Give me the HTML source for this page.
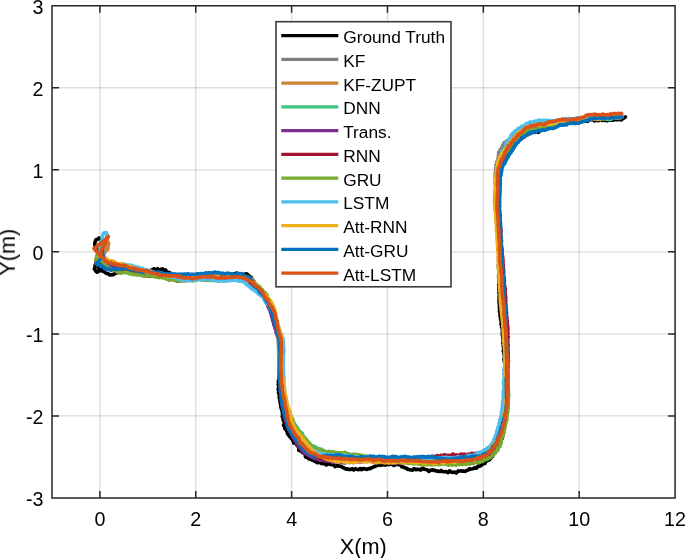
<!DOCTYPE html><html><head><meta charset="utf-8"><style>html,body{margin:0;padding:0;background:#fff;}svg{display:block}text{will-change:transform}</style></head><body>
<svg width="685" height="558" viewBox="0 0 685 558">
<rect width="685" height="558" fill="#fff"/>
<path d="M99.90 5.7V498.0M195.76 5.7V498.0M291.62 5.7V498.0M387.48 5.7V498.0M483.34 5.7V498.0M579.20 5.7V498.0" stroke="#262626" stroke-opacity="0.16" stroke-width="1.3" fill="none"/>
<path d="M52.0 415.95H675.1M52.0 333.90H675.1M52.0 251.85H675.1M52.0 169.80H675.1M52.0 87.75H675.1" stroke="#262626" stroke-opacity="0.16" stroke-width="1.3" fill="none"/>
<g fill="none" stroke-width="3.6" stroke-linejoin="round" stroke-linecap="round">
<path d="M100.2 251.8L100.4 250.7L100.3 249.4L100.3 247.8L100.6 246.5L100.9 245.3L100.9 243.9L101.0 242.8L101.6 241.2L101.7 239.9L100.4 238.8L99.0 237.9L97.7 239.2L95.8 239.8L95.5 241.2L94.8 242.9L94.8 243.7L94.8 245.3L96.0 246.7L96.5 247.9L97.0 249.0L97.7 250.0L98.1 251.6L98.3 252.9L98.8 254.3L98.9 255.5L98.6 257.3L98.2 258.3L98.1 260.2L97.0 261.4L96.4 262.6L95.7 264.0L95.0 265.3L95.1 266.1L94.9 267.8L94.3 269.0L95.2 269.9L95.9 271.3L97.2 272.2L98.1 271.7L98.9 270.6L100.1 269.7L101.2 268.9L102.3 267.5L103.3 266.7L98.6 267.8L99.2 267.7L99.8 268.1L99.8 269.7L100.5 270.7L101.9 270.7L103.0 271.3L104.3 271.8L105.3 272.7L106.3 273.4L107.5 273.3L108.4 273.8L109.3 274.9L110.6 274.9L111.9 274.7L113.2 274.7L114.9 273.5L116.1 273.0L117.2 272.8L118.4 272.2L119.4 272.5L120.6 272.1L121.7 271.5L122.6 272.3L123.8 271.3L125.0 270.1L126.1 269.6L127.1 269.4L127.9 269.8L129.0 269.0L130.1 268.6L130.6 269.8L131.5 270.1L132.6 269.5L133.7 269.3L134.7 269.1L135.5 269.7L136.4 270.3L137.7 269.6L138.7 270.5L139.5 271.0L140.5 270.6L141.4 270.6L142.5 270.2L143.6 269.8L144.5 270.4L145.5 270.2L146.5 270.8L147.4 271.3L148.6 270.8L149.5 271.3L150.7 270.9L151.9 269.8L153.1 269.2L154.2 268.8L155.1 269.5L156.1 269.5L157.4 268.7L158.2 269.7L159.2 270.1L160.3 269.6L161.5 269.1L162.6 268.9L163.3 270.1L164.3 270.3L165.4 269.8L166.1 271.0L166.9 271.8L167.7 272.1L168.6 272.6L169.6 272.5L170.4 273.3L171.2 274.3L172.1 274.2L172.9 274.7L173.7 275.5L174.6 275.3L175.5 275.4L176.3 275.9L177.2 275.5L178.2 275.5L179.1 275.6L180.1 275.5L180.9 276.5L181.8 276.8L182.7 275.9L183.6 276.1L184.5 276.7L185.4 276.3L186.4 275.9L187.3 275.0L188.3 274.9L189.2 276.1L190.2 275.5L191.2 274.7L192.1 275.4L193.1 275.7L194.1 275.7L195.0 275.3L195.9 274.5L196.9 275.1L197.8 275.4L198.7 274.5L199.6 274.5L200.6 274.7L201.5 274.5L202.5 274.9L203.4 274.8L204.3 274.7L205.3 275.3L206.2 275.1L207.2 275.0L208.1 275.7L209.1 275.0L210.0 274.5L210.9 275.1L211.9 275.2L212.8 275.4L213.8 275.3L214.7 274.8L215.7 275.8L216.6 276.4L217.5 275.4L218.5 275.1L219.4 275.6L220.3 275.7L221.3 276.0L222.2 275.1L223.1 274.7L224.1 275.7L225.0 275.4L225.9 274.5L226.9 274.6L227.8 274.5L228.8 274.9L229.8 275.0L230.8 274.4L231.9 274.9L232.8 274.6L233.8 273.8L234.8 274.0L235.8 273.4L236.7 273.0L237.7 273.5L238.6 273.7L239.4 273.9L240.3 274.5L241.7 273.9L242.9 274.2L243.9 274.9L245.3 274.0L246.5 273.8L247.4 274.3L248.1 274.9L248.7 275.9L249.3 276.7L250.6 276.7L251.5 277.7L251.5 279.4L252.0 280.2L253.1 280.4L253.9 281.4L254.3 282.1L254.3 283.3L254.6 284.3L255.8 284.4L256.2 285.4L256.6 286.5L257.9 286.7L258.6 287.5L259.6 287.9L260.2 288.7L260.4 289.9L261.1 290.4L261.4 291.5L262.0 292.3L263.4 292.4L263.9 293.2L264.4 293.9L265.6 294.1L266.4 294.7L266.8 295.5L267.0 296.5L266.6 297.8L267.1 298.7L268.4 299.0L268.3 300.2L268.6 301.1L269.7 301.5L270.5 302.2L271.1 302.9L271.1 304.0L270.8 305.2L271.5 306.0L271.9 306.9L271.7 308.1L272.2 308.9L272.6 309.8L273.1 310.7L273.4 311.5L273.3 312.5L273.5 313.5L273.9 314.3L273.8 315.1L274.0 315.9L274.5 316.7L274.6 317.8L274.9 318.9L275.2 319.7L275.3 320.6L275.5 321.5L275.4 322.5L275.4 323.5L276.2 324.4L276.5 325.4L276.6 326.4L277.1 327.3L277.5 328.3L277.9 329.2L277.7 330.2L277.5 331.3L278.1 332.1L278.5 333.0L278.4 334.0L278.8 334.8L279.1 335.6L279.6 336.4L280.0 337.2L279.8 338.2L279.8 339.2L280.2 340.1L280.1 341.0L280.0 341.9L280.2 342.8L280.1 343.7L280.2 344.7L280.4 345.6L280.2 346.6L280.4 347.6L280.2 348.6L280.0 349.6L280.5 350.5L280.4 351.5L280.2 352.5L280.3 353.4L280.2 354.4L280.4 355.4L280.2 356.3L279.7 357.2L280.0 358.2L280.4 359.2L280.1 360.1L280.0 361.1L280.0 362.1L280.2 363.1L280.3 364.0L279.8 365.0L279.6 366.0L279.9 366.9L279.7 367.9L279.6 368.9L279.5 369.9L279.4 370.9L279.7 371.8L279.5 372.8L279.3 373.8L279.5 374.8L279.2 375.8L279.0 376.8L279.1 377.7L278.8 378.8L278.6 379.8L278.5 380.7L278.3 381.7L278.7 382.7L278.6 383.7L278.2 384.7L278.6 385.6L278.8 386.6L278.6 387.6L278.4 388.6L278.2 389.6L278.6 390.5L278.9 391.5L278.5 392.5L278.8 393.5L279.3 394.5L279.3 395.5L279.4 396.6L279.2 397.7L279.6 398.6L280.0 399.6L279.8 400.7L280.0 401.6L280.4 402.5L280.3 403.5L280.7 404.6L280.7 405.6L280.8 406.7L281.1 407.6L281.2 408.6L281.6 409.5L282.2 410.3L282.2 411.2L282.2 412.0L282.5 412.7L282.7 413.5L282.5 414.6L282.4 415.5L282.2 416.5L282.7 417.3L283.4 418.2L283.1 419.3L283.3 420.3L284.0 421.3L284.2 422.2L284.2 423.1L283.9 424.2L283.5 425.4L284.4 426.2L284.9 427.2L284.8 428.4L285.7 429.3L286.3 430.3L286.9 431.3L287.5 432.3L287.4 433.6L288.1 434.5L289.0 435.2L289.3 436.3L290.4 436.8L291.2 437.6L291.4 438.7L292.3 439.3L292.7 440.1L293.0 441.0L293.6 441.8L293.7 443.0L295.0 443.4L296.5 443.4L296.7 444.5L297.0 445.5L297.8 446.0L298.3 446.8L298.8 447.6L298.9 448.6L298.7 450.2L299.7 450.7L301.3 450.6L301.7 451.6L302.2 452.4L303.2 452.8L303.9 453.4L304.6 453.9L305.3 454.6L305.3 456.1L305.8 457.2L307.0 457.4L308.0 458.0L308.8 458.9L310.2 459.0L311.1 459.4L311.9 460.0L313.0 460.1L313.9 460.7L314.8 461.4L315.9 461.6L316.8 462.5L317.9 462.7L319.3 462.0L320.2 462.7L321.1 463.4L322.1 463.5L323.1 463.7L324.2 463.6L325.1 463.8L326.0 465.0L327.1 464.6L328.2 463.4L329.2 464.0L330.1 464.4L331.1 464.6L332.0 464.8L333.0 464.5L334.0 465.3L334.9 466.6L335.9 466.0L336.9 465.6L337.8 466.0L338.8 465.9L339.7 466.3L340.6 466.5L341.6 466.4L342.4 467.2L343.3 468.0L344.2 467.9L345.1 468.6L346.0 469.2L346.9 468.7L347.8 468.9L348.6 469.5L349.6 469.4L350.4 469.5L351.2 469.2L352.1 468.7L352.9 469.5L353.7 470.0L354.6 469.0L355.6 468.7L356.5 469.3L357.4 469.5L358.4 469.7L359.5 468.9L360.5 468.5L361.6 469.7L362.4 469.3L363.4 468.5L364.3 468.7L365.2 468.9L366.2 469.3L367.2 469.4L368.2 468.5L369.2 468.7L370.2 468.8L371.2 467.8L372.2 467.7L373.2 467.2L374.2 466.4L375.1 466.5L376.1 465.8L377.0 465.4L377.8 465.4L378.9 464.4L379.9 464.6L380.8 465.4L381.8 464.7L382.8 464.6L383.7 464.9L384.6 464.9L385.5 465.1L386.4 464.3L387.3 463.3L388.2 463.9L389.0 464.7L389.9 464.3L390.9 464.1L391.8 464.4L392.7 464.7L393.5 465.3L394.3 465.5L395.0 464.6L395.8 463.8L396.7 464.4L397.6 464.6L398.7 464.4L399.9 465.1L400.6 465.3L401.3 466.2L402.1 467.0L402.9 466.8L403.8 467.2L404.7 467.9L405.6 467.7L406.5 468.3L407.5 469.4L408.5 469.3L409.5 469.7L410.5 469.9L411.5 470.0L412.6 470.1L413.7 468.7L414.7 468.8L415.7 469.8L416.8 469.4L417.8 469.4L418.8 469.4L419.8 469.8L420.8 470.1L421.8 468.6L422.8 468.2L423.8 469.1L424.8 469.2L425.8 469.5L426.9 469.8L427.9 470.4L428.9 471.4L429.9 470.5L430.9 470.1L431.9 470.4L432.9 469.8L433.9 470.2L434.8 470.6L435.8 470.5L436.7 471.1L437.5 471.2L438.4 471.1L439.2 471.5L440.0 471.5L441.1 470.4L442.2 471.3L443.3 471.8L444.2 471.7L445.1 471.8L446.0 471.5L446.9 472.0L447.8 472.7L448.7 471.9L449.5 470.8L450.5 471.4L451.4 472.2L452.4 472.3L453.4 472.5L454.3 472.1L455.3 472.2L456.3 473.0L457.2 472.1L458.2 470.9L459.2 471.1L460.2 470.9L461.2 470.9L462.2 471.2L463.2 470.9L464.2 471.3L465.3 471.4L466.2 470.6L467.3 470.5L468.3 470.0L469.3 468.8L470.4 469.1L471.5 469.0L472.6 468.8L473.6 468.5L474.6 467.8L475.9 468.3L476.9 468.0L477.7 466.4L478.6 466.0L479.8 466.1L480.9 465.7L481.8 465.0L482.6 463.5L483.8 463.6L485.1 463.4L485.7 461.7L486.7 460.8L487.9 460.4L489.0 459.8L490.1 459.3L490.6 458.0L491.3 457.1L492.5 456.7L492.8 455.3L493.4 454.2L494.1 453.4L494.5 452.1L495.5 451.5L496.2 450.6L496.9 449.7L497.7 448.9L497.7 447.7L498.5 446.9L499.5 446.3L499.1 444.9L499.2 443.8L499.9 443.0L500.4 442.1L500.9 441.2L500.6 440.0L500.8 439.1L502.1 438.6L502.4 437.7L502.2 436.5L502.6 435.6L502.9 434.7L503.3 433.9L503.5 432.9L503.0 431.8L503.3 430.9L503.9 430.1L503.9 429.2L504.0 428.2L504.4 427.4L504.4 426.4L504.8 425.5L504.9 424.6L504.8 423.6L505.0 422.7L505.1 421.8L505.0 420.7L505.4 419.9L505.6 418.9L505.4 417.8L505.6 416.8L505.6 415.7L505.8 414.6L505.7 413.7L505.4 412.8L505.8 411.9L506.3 411.0L506.0 410.1L505.9 409.1L505.9 408.1L506.0 407.1L506.1 406.1L505.6 405.1L505.5 404.1L506.1 403.1L506.1 402.1L506.2 401.0L506.2 400.0L506.2 398.9L506.3 398.1L505.8 397.2L505.6 396.3L505.8 395.3L505.7 394.4L505.8 393.5L506.1 392.5L506.0 391.6L506.0 390.6L506.0 389.6L505.7 388.7L505.8 387.7L505.5 386.7L505.2 385.8L505.6 384.8L505.7 383.8L505.5 382.9L505.4 381.9L505.2 381.0L505.4 380.0L505.4 379.1L504.8 378.1L504.9 377.2L505.4 376.2L505.4 375.3L505.3 374.3L505.0 373.4L504.9 372.4L505.1 371.5L504.8 370.6L504.3 369.6L504.6 368.7L504.8 367.8L504.9 366.9L505.1 365.9L504.9 365.0L504.9 364.1L504.8 363.1L504.4 362.2L504.3 361.3L504.3 360.3L503.9 359.4L504.2 358.4L504.5 357.5L504.4 356.6L504.4 355.6L504.1 354.7L504.0 353.7L504.2 352.8L503.8 351.9L503.3 350.9L503.6 350.0L503.8 349.0L503.7 348.1L503.5 347.1L503.2 346.2L503.4 345.2L503.5 344.2L502.9 343.3L503.0 342.3L503.2 341.3L503.2 340.3L503.2 339.3L502.8 338.4L502.8 337.4L502.8 336.4L502.4 335.5L502.3 334.6L502.4 333.6L502.2 332.8L502.4 331.9L502.6 331.0L502.4 330.2L502.3 329.2L502.0 328.2L501.6 327.2L501.8 326.3L501.5 325.4L501.0 324.6L501.1 323.7L501.2 322.8L501.2 322.0L501.2 321.1L500.8 320.2L500.5 319.3L500.9 318.3L500.7 317.4L500.1 316.6L500.0 315.7L500.1 314.8L500.0 313.9L500.1 313.0L499.7 312.1L499.4 311.2L499.8 310.2L499.7 309.3L499.4 308.3L499.5 307.3L499.4 306.3L499.4 305.3L499.5 304.4L499.2 303.6L499.2 302.7L499.2 301.8L498.9 300.9L499.1 299.9L499.3 299.0L499.0 298.0L499.1 297.1L499.2 296.1L499.3 295.1L499.4 294.2L499.0 293.2L498.9 292.2L499.4 291.2L499.2 290.2L498.9 289.2L498.9 288.3L499.0 287.4L499.2 286.5L499.2 285.6L498.7 284.6L499.1 283.7L499.5 282.7L499.2 281.8L499.1 280.8L498.9 279.8L498.8 278.9L499.0 277.9L498.6 277.0L498.6 276.0L498.9 275.0L498.8 274.0L499.0 273.1L499.2 272.1L498.9 271.1L498.8 270.2L498.7 269.3L498.6 268.3L498.7 267.4L498.5 266.4L498.3 265.5L498.9 264.5L499.0 263.5L498.7 262.6L498.7 261.6L498.6 260.7L498.9 259.7L499.0 258.8L498.5 257.8L498.7 256.9L499.2 255.9L499.0 254.9L498.9 254.0L498.7 253.1L498.6 252.1L499.0 251.1L498.8 250.2L498.6 249.2L499.1 248.3L499.2 247.3L499.2 246.4L499.2 245.4L498.8 244.5L498.7 243.5L498.6 242.6L498.3 241.6L498.6 240.7L498.7 239.7L498.5 238.8L498.9 237.8L499.0 236.9L498.7 236.0L498.5 235.0L498.2 234.1L498.2 233.1L498.4 232.1L497.8 231.1L497.9 230.1L498.4 229.1L498.3 228.1L498.1 227.2L497.8 226.2L497.7 225.2L498.1 224.2L497.7 223.3L497.5 222.3L497.9 221.3L497.9 220.3L497.9 219.3L497.7 218.4L497.4 217.4L497.6 216.4L497.6 215.5L497.4 214.5L497.8 213.6L497.9 212.6L497.8 211.7L498.1 210.7L498.0 209.8L497.7 208.9L497.6 207.9L497.3 207.0L497.5 206.0L497.8 205.1L497.5 204.1L497.7 203.1L498.1 202.2L498.2 201.2L498.0 200.2L497.6 199.2L497.6 198.3L498.0 197.3L497.6 196.2L497.6 195.2L498.0 194.2L498.1 193.1L498.2 192.1L497.9 191.0L498.0 190.0L498.4 189.0L498.1 187.9L498.3 186.9L498.4 186.0L498.4 185.0L498.6 184.1L498.5 183.2L498.4 182.4L498.7 181.6L498.5 180.3L498.9 179.2L499.3 178.1L499.1 177.1L499.5 176.2L499.7 175.2L499.8 174.4L499.8 173.5L499.4 172.6L499.4 171.8L500.1 171.0L500.4 170.3L500.0 169.1L500.4 168.2L500.9 167.4L501.4 166.6L501.6 165.8L501.1 164.8L501.2 164.0L502.1 163.4L502.3 162.6L502.0 161.5L502.5 160.7L502.7 159.8L503.5 159.1L504.1 158.4L504.1 157.3L504.9 156.7L505.8 156.2L505.8 155.3L506.5 154.7L507.2 154.2L507.2 153.2L507.5 152.4L508.3 151.9L508.7 151.1L509.7 150.6L510.3 150.0L510.3 149.0L511.2 148.6L512.6 148.6L512.8 147.7L512.9 146.6L513.5 145.9L514.1 145.3L515.2 144.9L515.7 144.0L515.3 142.6L516.3 142.2L517.6 142.0L517.7 140.9L517.9 140.0L518.4 139.2L519.2 138.8L520.4 138.6L520.5 137.6L521.1 137.0L522.3 137.0L522.8 136.1L523.4 135.4L524.1 134.7L524.6 133.8L525.6 133.7L526.4 133.2L527.4 133.2L528.6 133.5L529.0 133.0L529.8 132.9L530.8 133.4L531.2 132.6L531.7 132.0L532.4 131.7L533.2 131.6L534.4 132.4L535.3 132.3L536.0 131.3L537.2 131.9L538.3 132.3L538.9 131.5L539.6 130.7L540.3 129.8L541.1 129.6L542.2 130.2L542.9 129.2L543.6 128.4L544.6 128.9L545.4 128.7L546.2 128.1L547.0 127.7L547.7 126.8L548.6 126.7L549.6 127.1L550.4 126.5L551.5 126.7L552.6 126.8L553.6 125.8L554.5 125.9L555.3 125.5L556.0 124.6L556.9 124.2L557.8 123.8L558.8 124.0L559.9 125.0L560.8 124.4L561.7 123.9L562.8 124.5L563.7 124.0L564.6 123.3L565.4 122.3L566.3 121.9L567.4 123.1L568.4 123.1L569.3 122.4L570.4 123.2L571.5 123.4L572.5 123.3L573.4 122.6L574.3 121.8L575.4 122.5L576.3 122.7L577.2 122.0L578.1 122.3L579.0 122.6L579.7 122.2L581.1 122.2L582.2 121.7L583.1 121.1L584.1 121.2L584.8 121.0L585.4 120.6L586.3 120.9L587.5 121.4L588.3 120.8L588.5 120.1L588.7 120.0L589.4 120.3L590.5 119.8L591.0 119.7L591.7 119.2L592.4 118.8L593.3 119.9L594.2 120.9L595.0 120.2L596.0 120.1L597.0 120.6L598.0 120.6L599.0 120.4L600.0 119.2L601.1 119.4L602.2 120.5L603.2 119.9L604.3 120.2L605.3 120.4L606.3 120.5L607.4 120.8L608.4 120.0L609.5 120.2L610.6 120.2L611.8 119.8L612.9 120.3L614.0 119.6L615.1 119.6L616.2 119.7L617.3 119.7L618.2 119.7L619.1 118.9L619.9 119.2L620.8 120.0L621.4 120.0L621.9 119.3L625.4 117.0" stroke="#000000"/>
<path d="M100.0 252.1L99.8 250.6L99.7 249.2L99.0 247.3L99.0 245.9L100.3 245.1L101.0 243.9L100.7 245.4L100.9 246.5L100.5 247.9L100.4 249.2L99.9 250.8L99.9 252.1L100.6 253.7L100.9 255.5L100.7 256.8L103.5 259.5L104.1 259.6L104.8 259.7L105.4 260.5L106.4 260.7L107.5 260.9L108.2 261.6L109.3 261.8L110.1 262.4L110.7 263.0L111.5 263.2L112.2 263.7L112.9 264.2L113.8 264.3L114.7 264.6L115.7 264.8L116.9 264.8L117.7 265.0L118.6 264.9L119.6 265.0L120.5 265.2L121.6 265.0L122.6 265.4L123.7 265.4L124.7 265.6L125.7 266.2L126.8 266.0L127.6 266.9L128.5 267.1L129.6 266.9L130.3 267.9L131.3 267.7L132.3 267.6L132.9 268.6L134.0 268.5L134.9 268.6L135.5 269.9L136.6 269.7L137.5 270.4L138.5 271.1L139.6 270.5L140.4 271.1L141.3 271.1L142.5 270.3L143.4 270.8L144.4 270.7L145.5 270.5L146.4 271.4L147.4 271.3L148.4 271.7L149.4 272.2L150.5 271.9L151.5 272.1L152.5 272.2L153.5 272.1L154.5 272.3L155.5 272.8L156.5 273.0L157.4 273.5L158.3 274.2L159.4 274.1L160.3 274.7L161.3 274.8L162.4 274.5L163.2 275.3L164.3 275.1L165.3 275.1L166.0 276.2L167.1 275.7L168.0 275.8L168.9 276.9L170.0 275.9L170.9 276.3L171.7 277.0L172.7 276.0L173.6 276.4L174.3 277.4L175.3 276.6L176.2 276.9L177.0 278.0L178.0 277.2L179.0 277.4L180.0 278.0L180.9 277.1L181.7 277.3L182.6 277.9L183.5 277.2L184.5 277.4L185.4 278.0L186.4 277.5L187.3 277.6L188.3 277.9L189.2 277.3L190.2 277.2L191.2 277.3L192.1 276.9L193.1 276.8L194.1 277.1L195.0 276.8L195.9 276.7L196.9 277.3L197.8 276.9L198.7 276.6L199.7 277.4L200.6 276.9L201.5 276.7L202.5 277.7L203.4 277.2L204.4 277.1L205.3 278.3L206.3 277.5L207.2 277.4L208.1 278.4L209.1 277.4L210.0 277.5L210.9 278.5L211.9 277.5L212.8 278.0L213.7 279.0L214.7 277.8L215.6 278.3L216.5 278.7L217.5 277.3L218.4 277.6L219.4 277.7L220.3 276.5L221.3 277.0L222.2 277.4L223.1 276.7L224.1 277.5L225.0 277.7L225.9 277.1L226.9 277.4L227.9 277.2L228.9 276.5L229.9 276.6L230.9 276.5L231.9 276.2L232.9 276.7L233.9 277.1L234.9 276.9L235.8 277.6L236.7 277.8L237.6 277.2L238.5 277.4L239.2 277.7L240.0 277.1L241.2 277.2L242.3 277.6L243.5 277.1L244.1 278.3L244.9 278.6L246.0 278.2L246.4 279.2L246.9 280.0L247.9 279.5L248.8 280.1L249.0 281.1L250.1 280.9L251.0 281.2L251.0 282.7L252.7 282.7L253.0 283.5L253.2 284.5L254.4 284.5L255.0 285.3L255.2 286.5L256.5 286.7L256.8 287.9L257.5 288.6L258.6 288.9L259.0 289.9L260.1 290.2L261.0 290.5L261.7 291.2L262.7 291.7L263.4 292.3L263.9 293.2L264.3 294.0L264.9 294.7L265.3 295.5L265.5 296.4L266.2 297.0L266.9 297.6L267.3 298.5L268.3 299.0L269.1 299.7L269.1 300.8L269.9 301.5L270.1 302.4L269.9 303.6L270.4 304.4L270.6 305.3L270.6 306.4L271.5 307.1L271.7 308.1L272.2 309.0L273.1 309.6L273.1 310.7L273.5 311.5L274.0 312.3L273.9 313.3L274.3 314.1L274.6 314.9L274.6 315.8L274.9 316.6L275.4 317.5L275.6 318.7L276.1 319.4L276.4 320.3L276.5 321.2L277.0 322.1L277.1 323.1L277.3 324.1L277.6 325.1L277.7 326.1L278.1 327.1L278.3 328.1L278.5 329.1L278.7 330.0L278.9 330.9L279.2 331.8L279.4 332.7L279.6 333.6L280.0 334.4L280.2 335.3L280.3 336.2L280.7 337.1L280.8 338.0L280.8 339.0L281.1 340.0L280.9 340.9L281.0 341.8L281.3 342.7L281.1 343.7L281.3 344.6L281.5 345.6L281.3 346.6L281.5 347.6L281.3 348.6L281.2 349.6L281.2 350.6L280.9 351.5L281.0 352.5L281.0 353.5L280.9 354.4L281.2 355.4L281.1 356.3L281.0 357.3L281.2 358.3L280.9 359.2L280.9 360.2L280.9 361.1L280.7 362.1L280.9 363.1L281.0 364.0L280.9 365.0L281.3 366.0L281.2 366.9L281.1 367.9L281.4 368.9L281.1 369.8L281.2 370.8L281.3 371.8L281.1 372.8L281.4 373.7L281.4 374.7L281.3 375.7L281.5 376.6L281.4 377.6L281.3 378.6L281.5 379.5L281.3 380.5L281.3 381.4L281.5 382.4L281.5 383.3L281.7 384.3L281.9 385.2L282.0 386.2L282.2 387.1L282.3 388.1L282.4 389.1L282.4 390.0L282.5 391.0L282.8 392.0L282.8 393.0L283.2 394.0L283.4 395.0L283.5 396.0L283.9 397.0L283.8 398.0L283.9 399.0L284.3 399.9L284.0 400.9L284.3 401.8L284.7 402.7L284.4 403.8L285.0 404.7L285.2 405.6L285.1 406.6L285.8 407.4L285.8 408.4L285.8 409.3L286.4 410.0L286.6 410.9L286.5 411.8L287.0 412.5L287.3 413.5L287.1 414.5L287.7 415.4L287.7 416.3L287.6 417.2L288.2 418.0L288.4 419.0L288.6 420.0L289.2 420.7L289.5 421.6L289.6 422.5L290.0 423.4L290.2 424.3L290.1 425.4L290.3 426.3L290.6 427.3L290.7 428.4L291.4 429.2L292.1 429.8L292.3 430.8L293.3 431.4L294.0 432.0L293.9 433.3L294.9 433.8L295.1 434.9L295.0 436.2L296.2 436.5L296.4 437.5L296.6 438.5L298.4 438.4L298.6 439.4L299.2 440.2L300.8 440.1L300.6 441.4L301.0 442.3L302.2 442.4L301.9 443.8L302.0 444.8L303.2 444.9L303.4 446.0L303.7 447.0L305.2 446.9L305.5 447.7L305.8 448.6L307.1 448.6L307.6 449.2L307.8 450.3L308.7 450.6L309.5 451.0L309.7 452.0L310.4 452.5L311.3 452.6L312.0 453.3L312.8 453.9L313.7 453.9L314.5 454.2L315.3 454.8L316.3 454.8L317.3 454.7L318.1 455.4L319.1 455.3L320.2 455.3L320.9 456.3L321.8 456.2L322.7 456.1L323.3 457.3L324.2 457.4L325.2 457.0L326.0 458.2L326.9 458.0L328.0 457.3L328.8 458.4L329.8 457.8L330.8 457.3L331.5 458.7L332.5 458.4L333.4 458.2L334.3 459.7L335.3 459.3L336.2 459.0L337.1 460.0L338.1 459.0L339.1 458.5L340.0 459.1L340.9 458.1L341.8 457.9L342.7 458.7L343.6 458.3L344.5 458.3L345.3 459.1L346.2 459.0L347.1 458.7L348.1 459.1L349.0 458.7L350.0 458.3L350.9 458.4L351.7 458.4L352.6 458.2L353.4 458.4L354.3 458.9L355.2 459.0L356.1 459.0L357.0 459.6L357.9 459.5L358.9 459.2L359.9 459.8L360.9 459.3L362.0 459.2L362.8 459.9L363.7 459.3L364.6 459.2L365.6 460.1L366.5 459.4L367.5 459.5L368.5 460.2L369.5 459.3L370.5 459.9L371.5 460.2L372.5 459.5L373.4 460.6L374.4 460.4L375.4 459.9L376.2 460.8L377.1 460.4L378.0 459.9L379.0 460.8L380.1 460.3L381.1 460.4L382.0 461.1L383.0 460.7L383.9 460.9L384.8 461.2L385.7 460.7L386.6 460.7L387.4 460.7L388.3 460.3L389.2 460.2L390.0 460.2L390.9 460.1L391.8 460.1L392.6 460.1L393.3 460.1L394.1 460.2L394.9 460.0L395.7 459.7L396.6 459.9L397.6 459.6L398.7 459.5L400.0 459.9L400.8 459.7L401.5 460.1L402.3 460.7L403.2 460.4L404.1 460.6L405.0 461.2L405.9 460.8L406.9 460.9L407.8 461.4L408.9 460.9L409.9 461.6L410.9 461.8L411.9 461.6L412.9 462.4L414.0 461.8L415.0 461.9L416.0 461.8L417.1 461.1L418.0 461.4L419.0 461.1L420.0 461.1L421.0 461.6L421.9 461.3L422.9 461.6L423.9 461.7L424.9 461.2L425.9 461.4L427.0 460.8L428.0 460.7L429.0 460.9L430.0 460.5L431.0 461.2L432.0 461.2L433.0 461.2L433.9 461.8L434.9 461.4L435.8 461.4L436.7 461.6L437.6 461.0L438.4 461.0L439.2 461.3L440.0 461.0L441.2 461.0L442.3 461.3L443.3 461.1L444.2 461.6L445.2 461.5L446.0 461.5L446.9 461.7L447.7 461.7L448.5 461.6L449.3 461.8L450.2 461.7L451.1 461.7L452.0 461.8L452.9 461.6L453.8 461.6L454.8 461.8L455.7 461.5L456.7 461.8L457.6 462.0L458.6 461.6L459.6 462.2L460.5 461.9L461.4 461.3L462.4 461.6L463.2 460.8L464.1 460.1L465.0 460.4L465.9 459.5L466.9 459.4L468.1 460.0L469.0 459.2L470.1 459.9L471.1 459.6L471.9 458.8L473.0 459.2L473.8 458.2L474.6 457.5L475.6 457.9L476.4 457.2L477.5 457.2L478.7 457.8L479.6 457.4L480.8 457.9L481.8 457.8L482.7 457.2L483.7 457.0L484.5 456.4L485.2 455.6L486.1 455.1L486.9 454.6L487.7 454.0L488.6 453.6L489.6 453.3L490.3 452.5L491.2 451.9L492.0 451.3L492.2 450.0L493.1 449.5L493.4 448.4L493.6 447.2L494.7 446.9L494.7 445.8L495.0 444.9L496.2 444.5L496.1 443.3L496.5 442.5L497.7 441.9L497.3 440.7L498.1 440.0L498.9 439.3L498.4 438.0L499.2 437.4L499.7 436.6L499.3 435.4L500.1 434.7L500.4 433.8L500.2 432.8L501.0 432.1L501.4 431.3L501.4 430.3L502.0 429.6L502.4 428.7L502.3 427.7L502.7 426.9L503.0 426.0L502.9 425.0L503.3 424.1L503.6 423.3L503.7 422.3L504.2 421.5L504.7 420.7L504.9 419.7L505.2 418.8L505.7 417.9L505.6 416.8L505.8 415.7L506.1 414.6L505.8 413.7L506.1 412.9L506.5 412.0L506.3 411.0L506.7 410.1L507.0 409.2L506.7 408.2L507.1 407.2L507.1 406.2L506.6 405.2L507.2 404.2L506.8 403.1L506.8 402.1L507.3 401.1L506.8 400.0L507.3 399.0L507.3 398.1L506.9 397.2L507.3 396.3L507.3 395.3L506.9 394.4L507.4 393.5L507.3 392.5L507.1 391.5L507.5 390.6L507.4 389.6L507.3 388.6L507.6 387.7L507.4 386.7L507.2 385.7L507.4 384.8L507.3 383.8L507.2 382.9L507.4 381.9L507.4 381.0L507.2 380.0L507.3 379.1L507.3 378.1L507.0 377.2L507.2 376.2L507.1 375.3L506.8 374.3L507.1 373.4L507.1 372.4L506.8 371.5L507.3 370.6L507.2 369.6L506.9 368.7L507.3 367.8L507.1 366.8L506.8 365.9L507.3 364.9L507.0 364.0L506.8 363.1L507.3 362.1L506.9 361.2L506.8 360.2L507.2 359.3L506.7 358.3L506.6 357.4L506.9 356.4L506.4 355.5L506.5 354.6L506.7 353.6L506.4 352.7L506.5 351.7L506.5 350.8L506.1 349.9L506.2 348.9L506.1 348.0L505.9 347.0L505.9 346.1L506.0 345.1L506.0 344.1L506.1 343.1L506.2 342.1L506.1 341.2L506.0 340.2L506.0 339.2L505.7 338.2L505.6 337.2L505.7 336.3L505.4 335.3L505.5 334.4L505.7 333.4L505.5 332.6L505.6 331.7L505.7 330.8L505.3 330.0L505.2 328.9L505.2 327.9L504.6 327.0L504.7 326.0L504.6 325.1L504.3 324.3L504.5 323.4L504.6 322.5L504.3 321.7L504.5 320.8L504.5 319.9L504.1 319.0L504.2 318.0L504.2 317.1L503.8 316.3L503.9 315.4L503.9 314.5L503.6 313.6L503.7 312.7L503.6 311.8L503.5 310.9L503.5 309.9L503.4 309.0L503.3 308.0L503.3 307.0L503.1 306.1L503.0 305.0L502.9 304.2L502.6 303.3L502.6 302.4L502.4 301.5L502.2 300.6L502.2 299.7L502.1 298.8L502.0 297.8L502.2 296.9L502.1 295.9L502.2 295.0L502.2 294.0L502.0 293.0L502.0 292.0L501.8 291.0L501.5 290.1L501.7 289.0L501.5 288.2L501.5 287.2L501.8 286.3L501.7 285.4L501.8 284.4L501.9 283.5L501.6 282.5L501.5 281.6L501.3 280.6L500.9 279.7L500.9 278.7L500.6 277.8L500.6 276.8L500.8 275.8L500.6 274.9L500.8 273.9L500.7 272.9L500.4 272.0L500.5 271.0L500.2 270.1L499.9 269.2L500.1 268.2L499.7 267.3L499.7 266.3L499.9 265.4L499.6 264.4L499.7 263.5L499.9 262.5L499.5 261.6L499.6 260.6L499.6 259.7L499.2 258.7L499.3 257.8L499.2 256.8L499.0 255.9L499.1 254.9L498.9 254.0L498.8 253.1L498.9 252.1L498.7 251.1L498.7 250.2L498.8 249.2L498.8 248.3L498.8 247.3L498.8 246.4L498.8 245.4L498.7 244.5L498.6 243.5L498.6 242.6L498.5 241.6L498.5 240.7L498.7 239.7L498.5 238.8L498.6 237.8L498.8 236.9L498.5 236.0L498.5 235.0L498.5 234.0L497.9 233.1L498.1 232.1L497.8 231.1L497.4 230.2L497.8 229.2L497.4 228.2L497.2 227.2L497.6 226.2L497.0 225.3L497.0 224.3L497.0 223.3L496.4 222.4L496.6 221.4L496.6 220.4L496.2 219.4L496.5 218.4L496.5 217.5L496.3 216.5L496.6 215.5L496.5 214.6L496.3 213.6L496.4 212.7L496.3 211.7L496.2 210.8L496.3 209.8L496.4 208.9L496.3 207.9L496.4 207.0L496.4 206.0L496.2 205.1L496.2 204.1L496.2 203.2L495.8 202.2L496.0 201.2L496.0 200.2L495.7 199.2L496.1 198.3L496.0 197.3L495.7 196.2L496.1 195.2L495.5 194.1L495.6 193.1L495.7 192.0L495.2 191.0L495.7 189.9L495.5 188.9L495.4 187.9L495.9 186.9L495.4 185.9L495.4 184.9L495.8 184.0L495.2 183.1L495.2 182.2L495.6 181.4L495.1 180.1L495.4 179.0L495.3 177.9L495.1 176.8L495.4 175.8L495.2 174.8L495.1 173.8L495.5 173.0L495.5 172.1L495.4 171.2L495.6 170.4L495.9 169.6L495.7 168.4L495.9 167.4L496.2 166.5L496.0 165.4L496.1 164.5L496.7 163.7L496.7 162.7L496.7 161.8L497.6 161.1L497.9 160.0L497.7 158.9L498.8 158.2L498.5 156.9L498.3 155.7L499.2 155.0L498.7 153.6L498.6 152.4L500.0 152.0L499.8 150.7L500.1 149.7L501.7 149.6L501.8 148.6L501.8 147.4L503.1 147.3L503.2 146.2L502.9 144.9L504.0 144.6L504.4 143.7L504.2 142.5L505.5 142.3L506.4 141.8L506.7 140.8L508.1 140.8L509.2 140.4L509.5 139.5L510.6 139.2L511.3 138.6L511.5 137.6L512.4 137.0L513.2 136.2L513.8 135.3L514.9 134.8L516.0 134.2L516.7 133.6L517.7 133.3L518.7 133.0L519.3 132.1L520.2 131.6L521.1 131.1L521.5 129.9L522.7 129.8L523.5 129.1L524.0 128.0L525.3 128.2L525.9 127.6L526.7 126.7L528.1 127.3L528.8 126.5L529.7 126.2L531.0 126.9L531.7 126.0L532.6 125.8L533.7 126.4L534.3 125.2L535.2 124.9L536.2 125.2L536.9 124.0L537.8 123.9L538.9 124.2L539.7 123.4L540.7 123.7L541.7 124.0L542.5 123.3L543.4 123.5L544.4 123.3L545.2 122.5L546.1 122.3L547.0 122.0L547.8 121.5L548.8 121.6L549.7 121.7L550.8 121.9L551.9 122.2L553.1 122.5L553.9 122.5L554.8 122.3L555.6 122.2L556.5 122.0L557.4 121.3L558.3 121.3L559.3 121.3L560.2 120.9L561.3 121.4L562.3 121.2L563.3 121.0L564.3 121.4L565.2 120.7L566.1 120.4L567.1 120.4L567.9 119.4L568.9 119.5L569.9 119.4L570.9 118.7L572.0 119.3L572.9 118.8L573.9 118.7L574.9 119.0L575.8 118.4L576.7 118.4L577.6 118.6L578.3 118.2L579.0 118.1L580.4 118.4L581.3 117.8L582.3 118.0L583.1 117.8L583.7 117.3L584.4 117.2L585.2 117.3L586.0 116.8L586.6 116.5L587.2 116.6L587.9 116.6L588.7 116.1L590.2 116.5L590.7 116.2L591.4 115.9L592.2 116.1L593.1 115.9L593.9 115.3L594.9 115.5L595.8 115.4L596.8 115.1L597.8 115.6L598.8 115.4L599.9 115.6L601.0 115.9L602.0 115.4L603.0 115.7L604.0 115.3L605.0 115.2L606.0 115.4L607.0 115.2L608.1 115.5L609.2 115.5L610.3 115.6L611.5 115.4L612.6 115.2L613.7 115.0L614.8 114.6L615.9 114.8L616.9 114.4L617.9 114.6L618.8 114.8L619.6 114.3L620.4 114.4L621.0 114.7L621.6 114.5" stroke="#808080"/>
<path d="M99.7 252.2L100.8 250.4L101.4 249.2L102.2 248.2L102.5 246.7L103.3 245.2L104.0 243.9L105.0 243.3L106.1 241.7L106.9 241.3L108.7 243.1L108.4 244.8L108.0 246.3L107.9 247.8L107.1 248.7L105.8 250.1L105.6 248.5L104.9 247.5L103.8 246.2L105.3 245.0L106.8 243.8L107.4 245.9L107.4 247.2L108.1 249.1L106.8 250.1L105.8 251.3L105.1 252.1L104.3 252.8L103.5 254.7L103.6 256.6L103.2 258.1L104.0 258.6L104.3 259.3L104.8 259.9L106.0 259.6L106.5 260.5L106.9 261.9L108.0 262.0L108.9 262.7L109.8 262.8L110.7 263.0L111.4 263.5L112.3 263.5L113.2 263.5L114.0 263.7L114.9 263.9L115.7 264.9L116.9 264.6L117.8 264.3L118.5 265.4L119.5 265.5L120.5 265.2L121.5 265.8L122.6 265.5L123.6 266.1L124.6 266.2L125.7 265.9L126.8 266.0L127.7 266.5L128.6 267.0L129.7 266.5L130.5 267.3L131.1 268.5L132.1 268.3L132.9 268.8L133.7 269.3L134.7 269.1L135.5 269.8L136.5 270.0L137.7 269.8L138.7 270.5L139.5 271.0L140.3 271.6L141.3 271.2L142.2 271.5L143.1 272.3L144.2 271.7L145.2 271.9L146.3 271.9L147.3 271.7L148.2 272.8L149.3 272.4L150.4 272.4L151.3 273.0L152.3 273.0L153.4 272.7L154.5 272.4L155.4 273.2L156.4 273.2L157.4 273.4L158.3 274.1L159.4 273.8L160.2 274.9L161.3 274.9L162.4 274.2L163.3 275.1L164.2 275.3L165.2 275.4L166.2 275.6L167.0 275.9L167.9 276.7L168.9 276.6L169.8 277.0L170.8 277.1L171.7 276.8L172.5 277.8L173.4 278.0L174.4 277.2L175.2 277.7L176.0 278.4L177.0 277.9L178.0 277.8L179.0 277.6L180.0 277.7L180.8 277.9L181.7 277.8L182.6 278.1L183.5 278.1L184.5 278.1L185.4 279.0L186.3 278.3L187.3 277.4L188.3 278.1L189.2 277.6L190.2 277.2L191.2 277.5L192.1 277.5L193.1 278.2L194.1 278.5L195.0 278.5L195.9 278.4L196.9 278.2L197.8 278.7L198.8 278.2L199.7 277.2L200.6 278.0L201.6 278.1L202.5 277.6L203.5 278.2L204.4 278.0L205.3 278.0L206.3 278.5L207.2 278.1L208.1 277.9L209.1 277.9L210.0 278.2L210.9 278.3L211.9 277.2L212.8 277.4L213.7 277.9L214.7 277.2L215.6 277.4L216.6 277.7L217.5 277.4L218.4 278.4L219.4 278.7L220.3 278.3L221.2 278.5L222.2 278.6L223.1 278.7L224.1 278.0L225.0 277.6L226.0 278.5L226.9 278.3L227.9 278.4L229.0 279.1L230.0 278.6L231.0 279.4L232.0 279.3L233.0 278.1L234.0 278.3L234.9 278.2L235.8 278.0L236.7 277.6L237.6 277.5L238.4 278.1L239.2 278.1L240.0 277.7L241.1 278.1L242.3 277.4L243.3 278.1L244.1 278.5L245.2 277.8L246.0 278.2L246.5 279.1L247.2 279.3L248.0 279.5L249.0 279.7L249.8 280.1L250.2 280.9L250.7 281.5L251.5 282.2L252.0 283.4L252.8 283.7L253.0 284.7L253.1 286.0L254.4 285.9L255.2 286.6L255.4 287.8L256.5 288.2L257.1 289.0L257.9 289.6L258.3 290.6L258.8 291.4L259.5 291.9L260.2 292.6L261.3 292.9L261.7 293.8L262.1 294.6L263.6 294.6L264.0 295.4L264.0 296.5L264.9 296.9L265.5 297.6L265.9 298.3L266.9 298.8L267.4 299.7L268.1 300.4L268.9 301.0L269.4 301.7L269.8 302.6L269.6 303.8L270.1 304.5L270.9 305.1L270.7 306.4L271.2 307.2L271.9 308.0L272.1 309.0L272.8 309.8L272.9 310.7L273.0 311.7L273.4 312.5L273.7 313.4L273.8 314.3L273.8 315.1L274.0 315.9L274.6 316.7L274.7 317.7L275.0 318.9L275.4 319.6L275.5 320.5L275.8 321.4L276.3 322.2L276.2 323.3L276.8 324.2L277.2 325.2L277.3 326.2L277.3 327.3L277.6 328.3L278.0 329.2L277.9 330.2L278.2 331.1L278.7 332.0L278.9 332.9L279.5 333.7L279.8 334.5L279.6 335.5L280.0 336.3L280.2 337.2L280.0 338.2L280.0 339.1L280.1 340.1L280.4 340.9L280.5 341.8L280.5 342.8L280.8 343.7L280.9 344.6L280.9 345.6L281.1 346.6L280.6 347.6L280.7 348.6L281.0 349.6L280.7 350.5L280.8 351.5L280.9 352.5L281.1 353.5L281.1 354.4L281.0 355.4L281.1 356.3L281.0 357.3L281.1 358.3L281.2 359.2L280.7 360.2L280.8 361.1L281.0 362.1L280.4 363.1L280.4 364.0L280.4 365.0L280.3 366.0L280.5 366.9L280.4 367.9L280.5 368.9L280.5 369.9L280.6 370.8L280.6 371.8L280.1 372.8L280.3 373.8L280.5 374.7L280.2 375.7L280.5 376.7L280.7 377.6L280.9 378.6L281.2 379.5L281.2 380.5L281.3 381.5L281.5 382.4L281.6 383.3L281.8 384.3L281.6 385.3L282.0 386.2L282.5 387.1L282.3 388.1L282.6 389.0L282.8 390.0L282.7 391.0L283.0 391.9L282.9 393.0L283.0 394.0L283.3 395.0L283.5 396.0L283.5 397.0L283.4 398.1L283.8 399.0L283.7 400.0L283.5 401.0L283.9 401.9L284.0 402.8L284.2 403.8L284.6 404.8L284.5 405.8L284.8 406.7L285.3 407.6L285.4 408.5L285.5 409.4L285.7 410.2L286.1 411.0L286.6 411.7L286.6 412.6L286.9 413.6L287.3 414.5L287.2 415.5L287.7 416.3L287.9 417.2L287.6 418.2L288.3 419.0L289.0 419.9L289.0 420.8L289.4 421.6L289.7 422.5L290.2 423.3L290.2 424.3L290.0 425.4L290.4 426.3L290.4 427.4L291.1 428.2L291.8 429.0L291.6 430.1L292.7 430.6L293.6 431.1L293.6 432.3L294.0 433.2L294.5 434.1L295.0 435.0L295.4 435.9L295.7 436.8L296.5 437.4L297.0 438.2L298.0 438.7L298.8 439.3L298.7 440.5L299.8 440.8L300.9 441.1L300.9 442.4L301.5 443.0L302.2 443.5L302.6 444.3L303.2 444.8L303.7 445.7L304.0 446.7L304.6 447.4L305.2 448.1L306.0 448.4L306.7 449.0L306.9 450.0L307.7 450.3L309.1 450.1L309.3 451.2L309.6 452.2L310.4 452.5L310.9 453.3L311.5 454.2L312.4 454.6L313.0 455.4L313.8 455.9L314.8 455.8L315.9 455.8L316.9 455.7L317.7 456.5L318.7 456.7L319.9 456.3L320.5 457.5L321.3 458.0L322.3 457.8L323.1 458.4L324.1 458.2L325.1 457.9L325.9 458.5L326.9 458.4L327.9 458.0L328.8 458.2L329.7 458.6L330.6 459.2L331.5 458.7L332.5 458.6L333.4 459.6L334.3 459.4L335.3 459.5L336.2 460.2L337.1 459.7L338.1 460.3L339.0 461.1L339.9 460.4L340.8 460.3L341.7 460.6L342.6 460.8L343.5 460.9L344.4 460.5L345.3 460.8L346.2 461.6L347.1 461.3L348.0 461.6L348.9 461.7L349.9 460.8L350.7 461.4L351.6 461.6L352.5 460.6L353.3 460.4L354.2 461.0L355.1 461.1L356.0 461.2L356.9 460.9L357.9 460.9L358.8 461.2L359.9 460.7L360.9 460.9L362.0 460.4L362.8 460.3L363.6 461.5L364.6 461.3L365.5 460.7L366.5 461.6L367.4 461.6L368.4 461.4L369.4 461.2L370.5 461.1L371.4 461.6L372.4 461.6L373.4 462.1L374.4 462.0L375.3 462.0L376.2 463.0L377.1 462.6L377.9 461.8L379.0 462.5L380.0 462.4L381.0 462.2L382.0 462.4L382.9 462.2L383.8 462.6L384.7 462.7L385.6 462.6L386.5 462.5L387.4 462.1L388.2 462.7L389.1 463.3L390.0 462.5L390.9 462.3L391.8 463.1L392.7 462.7L393.4 462.3L394.2 462.4L394.9 462.1L395.7 461.6L396.6 462.0L397.6 462.3L398.7 462.2L400.0 462.4L400.7 462.9L401.4 463.5L402.2 462.9L403.1 462.1L404.0 462.7L404.9 462.4L405.9 461.8L406.8 462.3L407.8 461.9L408.8 462.3L409.8 463.3L410.8 463.0L411.8 463.0L412.9 463.1L413.9 463.4L415.0 462.6L416.0 462.4L417.0 463.0L418.0 462.5L419.0 463.0L420.0 463.1L420.9 462.6L421.9 463.7L422.9 463.6L423.9 463.1L424.9 463.6L425.9 463.9L426.9 464.0L428.0 463.3L429.0 463.5L430.0 463.5L431.0 463.1L432.0 463.6L433.0 463.0L433.9 463.4L434.9 464.5L435.8 463.9L436.7 463.7L437.6 464.1L438.4 464.0L439.2 463.7L440.0 463.3L441.2 462.7L442.3 463.0L443.3 462.8L444.2 463.3L445.2 463.2L446.0 462.9L446.9 463.7L447.7 464.0L448.5 462.8L449.4 462.6L450.2 463.0L451.1 462.7L452.0 462.6L453.0 462.5L453.9 462.4L454.8 462.8L455.8 462.7L456.7 462.8L457.7 462.5L458.6 462.0L459.6 462.8L460.6 462.8L461.4 461.8L462.4 462.5L463.4 462.6L464.3 462.1L465.2 462.2L466.2 461.7L467.2 461.5L468.3 461.6L469.3 461.4L470.3 461.2L471.3 460.9L472.5 461.7L473.4 461.1L474.2 460.1L475.3 460.6L476.1 460.1L477.0 459.6L478.1 459.6L479.0 458.8L480.1 459.1L481.2 459.0L482.0 458.3L482.8 457.6L483.7 457.1L484.8 457.2L485.4 456.0L486.2 455.3L487.5 455.5L488.0 454.6L489.0 454.1L489.8 453.6L490.0 452.2L491.1 451.9L491.6 450.9L491.8 449.7L492.6 449.0L493.6 448.5L494.6 447.9L494.7 446.9L495.6 446.3L496.4 445.7L496.4 444.6L497.1 443.8L497.1 442.8L497.1 441.7L498.3 441.1L498.5 440.2L498.6 439.2L499.3 438.4L499.9 437.7L500.4 436.9L500.4 435.8L500.8 435.0L501.4 434.2L501.5 433.2L501.9 432.4L502.1 431.5L501.9 430.5L502.4 429.7L502.8 428.9L502.5 427.8L502.8 426.9L503.2 426.1L503.5 425.2L503.8 424.3L504.0 423.4L504.3 422.5L504.6 421.6L504.6 420.6L504.8 419.7L504.6 418.7L504.7 417.7L505.3 416.7L505.1 415.6L505.5 414.6L506.0 413.8L506.1 412.9L506.3 412.0L506.3 411.1L506.4 410.1L506.5 409.2L506.5 408.2L506.7 407.2L506.5 406.2L506.8 405.2L507.3 404.2L507.0 403.2L507.3 402.1L507.5 401.1L507.4 400.1L507.6 399.0L507.4 398.1L507.5 397.2L507.6 396.3L507.5 395.4L507.4 394.4L507.1 393.5L507.4 392.5L507.5 391.5L507.0 390.6L507.3 389.6L507.5 388.6L507.3 387.7L507.5 386.7L507.2 385.7L507.1 384.8L507.2 383.8L507.0 382.9L506.9 381.9L506.8 381.0L507.1 380.0L507.3 379.1L507.0 378.1L507.2 377.2L507.4 376.2L507.1 375.3L507.2 374.3L507.1 373.4L506.8 372.4L507.1 371.5L507.2 370.6L507.0 369.6L507.0 368.7L507.1 367.8L507.2 366.8L506.9 365.9L506.7 365.0L506.9 364.0L506.7 363.1L506.7 362.1L506.9 361.2L506.5 360.2L506.7 359.3L506.9 358.3L506.5 357.4L506.4 356.5L506.4 355.5L506.5 354.6L506.5 353.6L506.3 352.7L506.5 351.7L506.5 350.8L506.5 349.8L506.6 348.9L506.3 348.0L506.2 347.0L506.6 346.0L506.2 345.1L506.1 344.1L506.3 343.1L506.2 342.1L506.1 341.2L505.9 340.2L505.8 339.2L505.8 338.2L505.7 337.2L505.7 336.3L505.4 335.3L505.5 334.4L505.7 333.4L505.2 332.6L504.9 331.7L505.0 330.9L504.8 330.1L504.6 329.0L504.5 328.0L504.4 327.0L504.6 326.0L504.6 325.1L504.7 324.2L504.5 323.4L504.2 322.5L504.4 321.6L504.4 320.8L503.8 319.9L503.8 319.0L504.0 318.0L503.8 317.2L504.0 316.3L504.0 315.4L503.8 314.5L504.0 313.6L504.0 312.7L503.9 311.8L503.7 310.9L503.4 309.9L503.6 309.0L503.5 308.0L502.9 307.1L503.1 306.1L502.9 305.0L502.7 304.2L502.8 303.3L502.5 302.4L502.4 301.5L502.6 300.6L502.5 299.7L502.3 298.8L502.1 297.8L502.1 296.9L502.0 295.9L501.5 295.0L501.4 294.0L501.6 293.0L501.4 292.1L501.7 291.0L501.6 290.0L501.5 289.1L501.9 288.1L501.7 287.2L501.4 286.3L501.2 285.4L501.2 284.5L501.3 283.5L501.0 282.6L500.9 281.6L501.2 280.6L501.0 279.7L501.2 278.7L501.1 277.7L500.6 276.8L500.9 275.8L500.8 274.9L500.3 273.9L500.3 273.0L500.3 272.0L500.2 271.1L500.0 270.1L499.8 269.2L499.9 268.2L499.7 267.3L499.8 266.3L499.8 265.4L499.4 264.4L499.7 263.5L499.8 262.5L499.3 261.6L499.3 260.6L499.3 259.7L499.2 258.7L499.2 257.8L499.0 256.9L499.2 255.9L499.2 254.9L499.3 254.0L499.3 253.0L498.9 252.1L499.0 251.1L499.2 250.2L498.6 249.2L498.6 248.3L498.8 247.3L498.6 246.4L498.7 245.4L498.5 244.5L498.4 243.5L498.4 242.6L498.3 241.6L498.2 240.7L497.9 239.8L497.9 238.8L498.3 237.9L498.0 236.9L497.9 236.0L498.2 235.0L498.0 234.1L497.9 233.1L497.8 232.1L497.6 231.1L497.8 230.1L497.8 229.2L497.8 228.2L497.7 227.2L497.8 226.2L498.1 225.2L497.7 224.2L497.6 223.3L497.8 222.3L497.4 221.3L497.6 220.3L497.4 219.4L497.1 218.4L497.4 217.4L497.3 216.5L497.0 215.5L496.8 214.6L496.9 213.6L497.1 212.6L496.7 211.7L496.7 210.8L496.9 209.8L496.5 208.9L496.6 207.9L496.4 207.0L496.0 206.0L496.2 205.1L496.4 204.1L496.2 203.2L496.4 202.2L496.6 201.2L496.9 200.2L496.8 199.2L496.7 198.3L496.8 197.3L496.5 196.2L496.8 195.2L496.7 194.2L496.7 193.1L497.3 192.1L497.2 191.0L497.2 190.0L497.4 188.9L497.5 187.9L497.4 186.9L497.1 185.9L497.3 185.0L497.2 184.1L497.2 183.2L497.4 182.3L497.1 181.5L497.2 180.3L497.6 179.1L497.2 178.0L497.5 177.0L497.7 176.0L497.8 175.1L497.9 174.1L497.7 173.2L497.8 172.4L497.9 171.5L497.9 170.7L498.2 169.9L498.0 168.8L498.4 167.9L499.4 167.1L499.3 166.1L499.4 165.3L500.2 164.6L500.3 163.7L500.4 162.9L500.7 162.1L500.5 161.0L500.8 160.0L501.4 159.2L502.0 158.4L502.5 157.6L502.5 156.6L503.6 156.1L504.4 155.5L503.9 154.2L504.3 153.4L505.1 152.9L505.1 151.8L505.7 151.2L506.3 150.6L506.4 149.5L507.2 148.9L508.0 148.5L508.4 147.7L508.8 146.9L508.9 145.9L509.8 145.5L510.9 145.1L510.9 144.0L511.5 143.3L512.7 143.0L513.0 142.1L513.8 141.5L514.5 140.8L514.3 139.6L515.3 139.1L516.1 138.6L516.5 137.7L517.2 136.9L518.2 136.4L519.2 136.2L519.4 135.1L519.9 134.2L520.9 133.9L521.2 132.8L522.2 132.4L522.9 131.6L523.3 130.5L524.6 130.7L525.3 130.0L525.7 129.0L526.4 128.4L527.3 127.9L528.3 127.7L529.0 126.8L529.9 126.6L531.0 126.9L531.8 126.5L532.8 126.8L533.8 126.8L534.4 125.7L535.5 126.0L536.5 126.1L537.1 125.0L538.1 124.8L539.1 125.0L540.1 125.1L541.0 125.3L541.9 125.0L542.9 125.3L543.8 125.2L544.7 125.0L545.7 125.2L546.4 124.2L547.3 123.7L548.3 124.6L549.1 124.1L550.0 123.3L551.0 123.8L552.1 123.5L553.3 123.6L554.1 123.2L554.9 122.9L555.8 123.0L556.7 122.8L557.6 123.0L558.5 122.4L559.4 121.6L560.5 122.3L561.4 121.7L562.2 120.7L563.3 121.2L564.3 121.1L565.3 121.3L566.3 121.7L567.2 121.4L568.2 121.7L569.2 121.8L570.2 121.6L571.1 120.7L572.1 120.4L573.2 121.2L574.1 120.4L575.1 120.4L576.2 121.3L577.1 121.1L578.0 121.4L578.8 121.7L579.5 121.1L580.8 120.7L582.0 120.7L582.9 120.2L583.6 119.7L584.2 119.2L585.0 119.2L585.9 119.8L586.9 119.4L587.4 118.6L587.9 118.5L588.5 119.0L589.1 118.6L590.4 118.9L591.0 118.9L591.6 118.3L592.4 118.2L593.2 118.9L594.1 118.7L595.0 118.2L595.9 117.9L596.9 118.0L597.9 118.4L598.9 117.7L600.0 118.2L601.1 118.5L602.1 118.4L603.2 119.1L604.2 118.0L605.2 118.1L606.2 118.5L607.2 117.6L608.2 117.3L609.3 117.5L610.5 118.0L611.6 117.6L612.8 118.0L613.9 117.7L615.0 117.7L616.1 117.6L617.0 116.5L618.1 117.4L619.0 117.7L619.8 117.0L620.6 117.1L621.2 117.4L621.8 117.4" stroke="#C98435"/>
<path d="M99.8 251.8L99.6 253.1L99.1 254.3L98.8 255.9L97.9 256.7L97.2 259.2L98.4 258.8L100.3 259.2L102.5 261.1L102.9 261.5L103.4 262.0L104.3 262.3L105.5 262.3L106.6 262.5L107.5 262.9L108.3 263.8L109.3 263.9L110.3 264.1L110.8 265.1L111.4 265.9L112.4 265.8L113.3 266.1L114.2 266.5L115.4 266.1L116.4 266.8L117.3 267.1L118.4 266.2L119.3 266.6L120.1 267.8L121.2 267.5L122.2 267.9L123.3 268.1L124.4 267.8L125.2 268.7L126.3 268.3L127.4 268.0L128.1 268.9L129.0 269.3L129.8 269.5L130.7 269.8L131.5 269.9L132.3 270.3L133.2 270.6L134.2 270.5L135.3 270.5L136.3 270.7L137.2 271.4L138.3 271.9L139.3 271.7L140.1 272.3L140.9 273.2L142.0 272.8L143.0 272.9L144.0 273.0L145.1 272.3L146.0 273.2L147.1 273.2L148.2 272.6L149.0 274.1L150.0 274.5L151.0 274.5L151.9 275.2L153.0 274.8L154.0 275.0L154.9 275.4L156.1 274.6L157.1 274.8L158.0 275.5L159.0 275.7L160.0 276.0L161.0 276.2L161.9 276.8L162.9 277.1L163.9 276.9L164.9 276.9L165.9 276.7L166.8 277.1L167.7 277.6L168.8 277.1L169.7 277.4L170.5 278.5L171.5 278.4L172.4 278.4L173.2 279.0L174.2 278.8L175.1 278.9L175.9 279.9L176.8 279.6L177.9 278.9L178.8 280.0L179.8 280.2L180.7 279.8L181.6 280.1L182.5 280.1L183.5 279.7L184.4 280.2L185.4 280.2L186.3 279.4L187.3 279.7L188.3 280.0L189.2 279.9L190.2 279.6L191.2 279.3L192.2 279.4L193.1 279.3L194.1 278.8L195.0 278.7L195.9 278.4L196.9 278.5L197.8 279.2L198.8 278.7L199.7 278.4L200.7 279.4L201.6 279.5L202.5 279.0L203.5 279.5L204.4 279.3L205.3 279.0L206.3 279.9L207.2 279.7L208.1 279.0L209.1 280.0L210.0 280.4L210.9 279.9L211.8 280.3L212.8 280.4L213.7 280.2L214.6 280.8L215.6 280.6L216.5 280.0L217.4 280.1L218.4 280.2L219.3 280.0L220.3 279.6L221.2 279.3L222.2 279.6L223.1 279.7L224.1 279.4L225.0 279.5L226.0 279.4L227.0 279.3L228.0 279.9L229.0 279.1L230.0 278.4L231.0 279.2L232.0 278.7L233.0 278.4L234.0 279.0L234.9 278.7L235.9 279.3L236.8 280.2L237.6 279.5L238.4 279.2L239.1 280.0L239.7 280.2L241.0 279.5L242.0 279.7L242.9 279.6L243.7 280.0L244.3 280.6L245.1 280.6L245.9 280.6L246.4 281.1L246.9 281.6L247.7 282.1L248.3 282.1L249.1 282.1L249.7 282.6L250.1 283.6L251.4 284.1L251.9 284.7L252.4 285.3L253.3 285.8L253.6 286.8L254.1 287.7L255.5 287.6L255.9 288.7L256.3 289.8L257.6 290.0L257.9 291.0L258.4 291.8L259.2 292.2L259.1 293.6L259.9 294.1L261.2 294.2L261.4 295.3L261.8 296.0L263.0 296.2L263.5 296.9L264.0 297.6L264.6 298.2L264.8 299.1L265.1 300.1L266.0 300.6L266.5 301.4L266.9 302.2L267.5 302.9L268.4 303.4L269.4 303.9L269.7 304.8L269.9 305.7L270.6 306.4L270.7 307.5L270.9 308.4L271.3 309.3L271.2 310.4L271.8 311.2L272.5 311.9L272.5 312.8L272.9 313.7L273.5 314.4L273.6 315.2L273.7 316.0L274.0 316.8L273.9 317.9L274.1 319.1L274.6 319.8L274.6 320.7L274.6 321.7L275.2 322.5L275.6 323.4L276.0 324.4L276.3 325.4L276.3 326.5L276.7 327.4L277.0 328.4L277.1 329.4L277.3 330.3L277.6 331.3L278.2 332.1L278.5 333.0L278.6 333.9L279.0 334.7L279.3 335.6L279.4 336.5L279.7 337.3L279.8 338.2L279.7 339.2L280.3 340.1L280.6 340.9L280.3 341.8L280.6 342.7L280.9 343.7L280.6 344.6L280.7 345.6L280.7 346.6L280.3 347.6L280.7 348.6L280.8 349.6L280.6 350.5L280.9 351.5L281.1 352.5L281.1 353.5L281.1 354.4L280.8 355.4L280.7 356.3L280.7 357.3L280.6 358.2L280.5 359.2L280.4 360.2L280.6 361.1L281.0 362.1L280.8 363.1L280.8 364.0L281.0 365.0L280.9 366.0L280.8 366.9L280.9 367.9L280.6 368.9L280.8 369.9L281.3 370.8L281.0 371.8L281.2 372.8L281.7 373.7L281.6 374.7L281.9 375.6L282.0 376.6L281.8 377.6L282.1 378.5L282.4 379.4L282.2 380.4L282.3 381.4L282.6 382.3L282.8 383.2L282.9 384.2L282.9 385.1L283.0 386.1L283.3 387.0L283.4 388.0L283.5 388.9L283.5 389.9L283.6 390.9L284.0 391.8L283.9 392.8L283.8 393.9L284.3 394.9L284.2 395.9L284.5 396.9L284.8 397.9L284.6 398.9L285.2 399.8L285.7 400.6L285.4 401.6L285.7 402.5L286.3 403.4L286.3 404.4L286.7 405.3L286.9 406.2L287.0 407.1L287.6 407.9L288.1 408.7L288.2 409.6L288.5 410.4L288.9 411.1L289.3 411.9L289.8 413.0L290.0 413.9L290.3 414.9L290.7 415.7L291.0 416.5L291.3 417.3L291.6 418.1L291.8 419.1L292.4 419.8L293.1 420.6L293.0 421.5L293.3 422.4L294.2 423.0L294.4 423.9L294.9 424.6L295.6 425.3L295.4 426.3L296.3 426.8L297.1 427.2L296.7 428.3L297.2 429.0L298.2 429.4L298.5 430.3L299.4 430.8L300.1 431.4L300.5 432.3L301.6 432.7L302.4 433.3L302.4 434.4L302.7 435.2L303.3 435.9L303.8 436.7L304.1 437.5L304.4 438.4L305.1 439.0L305.9 439.3L306.4 439.9L307.1 440.4L307.6 441.0L307.8 442.0L308.7 442.4L309.4 442.8L309.2 444.0L309.6 444.8L310.6 444.8L311.0 445.3L311.4 446.0L312.5 446.0L313.1 446.4L313.4 447.1L314.3 446.8L315.2 446.5L315.3 447.5L315.8 448.1L316.7 447.8L317.3 448.2L317.9 448.7L318.8 448.6L319.4 449.2L320.2 449.4L321.2 449.0L321.8 449.6L322.5 450.4L323.1 450.6L323.8 450.7L324.6 450.9L325.3 451.5L326.0 452.0L326.9 451.8L327.7 451.8L328.6 452.2L329.5 452.2L330.3 453.1L331.1 453.6L332.0 453.2L332.8 453.9L333.6 455.0L334.6 454.4L335.5 454.2L336.4 454.6L337.4 453.9L338.3 454.1L339.2 454.6L340.2 453.8L341.1 454.0L341.9 455.3L342.8 455.3L343.7 455.0L344.5 455.4L345.4 455.4L346.3 455.1L347.2 455.2L348.2 454.8L349.2 454.3L350.2 454.8L351.0 455.3L351.9 455.6L352.7 455.7L353.6 455.9L354.4 456.6L355.3 457.1L356.2 456.8L357.1 456.7L358.1 456.8L359.1 456.5L360.0 457.0L361.0 457.3L362.1 456.7L362.9 457.7L363.8 458.5L364.7 457.9L365.6 458.1L366.6 458.5L367.6 457.9L368.6 458.3L369.6 458.4L370.6 457.5L371.6 458.3L372.5 458.9L373.5 458.3L374.5 458.6L375.4 458.6L376.3 458.5L377.2 458.8L378.1 458.6L379.1 458.2L380.2 458.7L381.1 459.2L382.1 459.4L383.0 459.3L384.0 459.4L384.8 460.0L385.7 459.9L386.6 459.3L387.5 459.4L388.3 459.4L389.2 459.2L390.0 459.7L390.9 460.1L391.8 459.5L392.6 459.8L393.4 460.9L394.1 460.9L394.9 460.1L395.7 460.1L396.6 460.4L397.6 459.6L398.7 460.0L400.0 459.6L400.8 459.2L401.5 460.0L402.3 460.8L403.2 460.6L404.1 460.6L405.0 461.0L405.9 461.0L406.9 461.2L407.9 461.1L408.9 460.6L409.9 460.7L410.9 461.0L411.9 461.2L413.0 461.0L414.0 461.1L415.0 462.0L416.0 461.8L417.0 461.5L418.0 461.9L419.0 461.5L420.0 461.7L420.9 462.0L421.9 460.9L422.9 461.3L423.9 462.1L424.9 461.1L425.9 461.3L427.0 461.6L428.0 461.2L429.0 461.9L430.0 461.6L431.0 461.1L432.0 462.0L433.0 461.9L433.9 461.4L434.9 461.4L435.8 461.4L436.7 461.5L437.6 461.6L438.4 461.4L439.2 461.3L440.0 461.5L441.2 461.8L442.3 462.1L443.3 461.5L444.2 461.5L445.2 462.1L446.0 461.8L446.9 461.2L447.7 461.4L448.5 461.5L449.3 461.1L450.2 461.5L451.1 461.9L452.0 461.0L452.9 461.2L453.9 462.2L454.8 461.7L455.7 461.2L456.7 461.9L457.6 461.6L458.6 461.6L459.5 462.1L460.4 461.4L461.4 461.1L462.4 461.8L463.3 461.6L464.2 461.1L465.1 461.1L466.1 461.2L467.2 461.4L468.2 461.2L469.2 460.8L470.2 460.7L471.2 460.5L472.2 460.3L473.0 459.4L473.9 458.6L474.9 459.0L475.8 458.8L476.6 457.9L477.7 458.2L478.8 458.0L479.7 457.8L480.9 458.1L481.5 456.9L482.3 456.2L483.5 456.7L484.1 455.7L484.8 454.9L486.0 455.0L486.8 454.5L487.9 454.4L489.1 454.4L489.7 453.4L490.7 452.9L491.8 452.7L492.2 451.5L492.7 450.5L493.4 449.7L494.3 449.1L495.1 448.3L495.4 447.4L496.1 446.7L496.7 445.9L497.2 445.0L497.7 444.2L497.4 442.9L497.6 441.9L498.5 441.3L498.4 440.1L498.5 439.1L499.3 438.4L499.5 437.5L499.8 436.6L500.6 435.9L500.3 434.8L500.4 433.8L501.3 433.2L501.4 432.2L501.4 431.3L502.1 430.5L502.5 429.7L502.8 428.9L503.4 428.1L503.6 427.2L503.7 426.2L504.2 425.4L504.4 424.5L504.5 423.5L504.6 422.6L504.9 421.7L505.4 420.8L505.8 419.9L506.0 419.0L506.3 418.0L506.6 417.0L506.8 415.9L506.8 414.8L506.5 413.8L506.6 412.9L507.0 412.1L506.8 411.1L506.8 410.2L507.3 409.3L507.4 408.3L507.7 407.3L508.0 406.3L507.6 405.3L507.8 404.3L508.1 403.2L507.7 402.2L507.8 401.1L508.0 400.1L508.1 399.0L508.4 398.1L508.4 397.2L508.3 396.3L508.6 395.4L508.6 394.4L508.4 393.5L508.2 392.5L508.2 391.5L508.3 390.6L508.2 389.6L508.1 388.6L508.2 387.6L508.1 386.7L508.1 385.7L508.1 384.8L507.7 383.8L507.6 382.9L508.0 381.9L507.7 381.0L507.5 380.0L507.9 379.1L507.8 378.1L507.8 377.2L508.1 376.2L507.7 375.3L507.6 374.3L508.0 373.4L507.8 372.4L507.6 371.5L507.9 370.6L508.0 369.6L508.1 368.7L508.3 367.7L508.2 366.8L508.1 365.9L508.2 364.9L508.1 364.0L507.9 363.0L507.7 362.1L507.7 361.1L507.9 360.2L507.7 359.3L507.6 358.3L507.8 357.4L507.7 356.4L507.7 355.5L507.7 354.5L507.1 353.6L507.1 352.7L507.3 351.7L506.9 350.8L506.7 349.8L506.9 348.9L506.8 347.9L506.8 347.0L507.0 346.0L506.6 345.1L506.6 344.1L507.0 343.1L506.6 342.1L506.4 341.1L506.6 340.1L506.5 339.2L506.5 338.2L506.4 337.2L506.2 336.2L506.4 335.3L506.5 334.3L506.4 333.4L506.3 332.5L506.1 331.6L506.3 330.8L506.4 329.9L506.0 328.9L505.9 327.9L505.9 326.9L505.6 325.9L505.7 325.0L505.6 324.1L505.2 323.3L505.3 322.4L505.6 321.5L505.3 320.7L505.0 319.8L505.2 318.9L505.0 318.0L504.8 317.1L504.9 316.2L504.6 315.3L504.2 314.4L504.5 313.5L504.5 312.6L504.0 311.7L504.0 310.8L504.0 309.9L503.9 308.9L503.9 308.0L503.7 307.0L503.5 306.0L503.5 305.0L503.5 304.1L503.4 303.3L503.2 302.4L503.0 301.5L503.2 300.6L503.2 299.6L502.8 298.7L502.9 297.8L503.0 296.8L502.8 295.9L503.0 294.9L502.9 293.9L502.7 293.0L503.1 291.9L503.0 291.0L502.5 290.0L502.7 289.0L502.6 288.1L502.3 287.2L502.5 286.2L502.2 285.3L502.0 284.4L502.4 283.4L502.4 282.5L502.1 281.5L502.1 280.6L502.0 279.6L501.8 278.7L501.6 277.7L501.2 276.8L501.1 275.8L501.1 274.8L501.1 273.9L501.1 272.9L500.9 272.0L501.1 271.0L501.3 270.0L500.9 269.1L500.7 268.2L500.8 267.2L500.5 266.3L500.4 265.3L500.6 264.4L500.2 263.4L500.3 262.5L500.8 261.5L500.5 260.6L500.3 259.6L500.5 258.7L500.2 257.7L500.1 256.8L500.1 255.8L499.7 254.9L499.7 254.0L500.0 253.0L499.8 252.0L499.6 251.1L499.7 250.2L499.6 249.2L499.6 248.3L499.4 247.3L499.2 246.4L499.3 245.4L499.3 244.5L499.4 243.5L499.4 242.5L499.2 241.6L499.5 240.6L499.6 239.7L499.1 238.8L499.1 237.8L499.2 236.9L499.0 235.9L499.1 235.0L499.3 234.0L498.9 233.0L499.4 232.0L499.5 231.0L499.0 230.0L499.0 229.1L498.9 228.1L498.4 227.1L498.4 226.1L498.1 225.2L497.9 224.2L498.2 223.2L498.2 222.2L498.0 221.3L498.0 220.3L497.9 219.3L497.8 218.4L497.5 217.4L497.2 216.5L497.2 215.5L497.2 214.5L497.3 213.6L497.4 212.6L497.3 211.7L497.6 210.7L498.0 209.8L497.6 208.9L497.6 207.9L497.8 207.0L497.6 206.0L497.7 205.1L497.9 204.1L497.5 203.1L497.8 202.2L498.2 201.2L497.8 200.2L497.8 199.2L498.0 198.3L497.8 197.3L497.8 196.2L497.7 195.2L497.5 194.2L497.8 193.1L497.8 192.1L497.5 191.0L497.5 190.0L497.5 188.9L497.5 187.9L497.2 186.9L497.2 185.9L497.4 185.0L497.4 184.1L497.7 183.2L497.7 182.3L497.6 181.5L498.0 180.3L498.1 179.1L497.7 178.0L498.1 177.0L498.1 176.0L498.2 175.1L498.7 174.2L498.5 173.3L498.6 172.5L499.4 171.8L499.7 171.0L499.3 170.1L499.6 169.1L499.9 168.1L499.8 167.2L500.0 166.3L500.1 165.4L499.9 164.5L500.4 163.7L500.9 163.0L501.1 162.2L501.2 161.2L501.6 160.3L502.3 159.6L502.7 158.7L502.6 157.7L503.0 156.8L503.6 156.1L503.8 155.1L504.3 154.4L504.8 153.7L504.7 152.6L505.4 152.0L506.7 151.8L506.8 150.9L506.8 149.8L508.1 149.5L508.6 148.9L508.8 148.0L509.7 147.5L510.1 146.8L509.9 145.5L510.9 145.1L511.8 144.7L511.6 143.4L512.0 142.5L513.0 142.1L513.5 141.3L514.1 140.6L514.8 139.9L515.1 139.0L515.9 138.4L516.8 137.9L517.1 136.8L517.6 135.8L518.2 135.2L519.2 134.9L519.9 134.2L520.3 133.2L521.4 133.0L522.3 132.5L523.1 131.9L524.1 131.6L524.5 130.5L525.4 130.1L526.6 130.4L527.0 129.4L527.6 128.5L528.8 128.8L529.5 128.2L530.3 127.8L531.3 128.0L531.9 127.0L532.8 126.7L533.9 127.3L534.7 126.6L535.4 125.7L536.5 126.0L537.4 125.9L538.3 125.6L539.2 125.5L540.0 125.0L540.9 124.6L541.8 124.7L542.7 124.3L543.5 123.8L544.3 123.3L545.4 123.4L546.4 123.9L547.2 123.7L548.1 123.4L549.1 123.9L550.1 123.9L551.0 123.5L552.1 123.6L553.1 122.3L553.9 122.3L554.9 123.0L555.7 122.4L556.5 121.8L557.6 122.7L558.6 122.9L559.5 122.6L560.6 123.1L561.5 122.4L562.4 121.9L563.5 122.5L564.3 121.6L565.2 121.0L566.2 121.4L567.2 121.5L568.2 121.7L569.2 121.9L570.2 121.7L571.3 122.0L572.3 122.0L573.3 121.6L574.2 121.1L575.2 120.8L576.2 121.3L577.1 121.2L577.8 120.5L578.7 120.7L579.5 121.1L580.8 120.6L582.0 120.6L582.9 120.2L583.5 119.2L584.2 119.1L585.1 119.7L585.8 119.3L586.4 118.2L587.2 118.1L587.9 118.5L588.4 118.7L589.0 118.1L590.4 118.5L590.9 118.0L591.5 117.4L592.3 117.8L593.2 118.2L594.0 117.5L594.9 117.4L595.9 118.1L596.9 118.5L597.9 118.9L599.0 119.0L600.0 119.1L601.1 119.3L602.1 119.1L603.2 118.8L604.2 118.3L605.2 118.6L606.2 119.3L607.2 118.8L608.3 119.1L609.5 119.7L610.6 119.1L611.7 119.2L612.8 117.9L613.9 117.8L615.0 117.9L616.0 116.6L617.1 117.1L618.1 117.5L619.0 117.1L619.8 117.5L620.6 117.5L621.2 116.9L621.7 116.6" stroke="#3BC781"/>
<path d="M100.2 251.8L99.1 253.1L98.8 254.9L98.3 256.1L97.8 257.4L97.3 258.7L96.8 259.7L98.7 260.7L100.3 261.1L102.6 261.1L103.0 261.4L103.5 262.0L104.2 262.5L105.3 262.6L106.1 263.3L107.1 263.7L108.3 263.8L109.1 264.4L109.9 264.9L110.8 265.0L111.6 265.5L112.3 266.1L113.2 266.4L114.1 266.8L115.0 267.5L116.3 267.3L117.3 267.0L118.1 267.6L119.1 267.9L120.2 267.3L121.2 267.6L122.1 268.4L123.2 268.8L124.2 269.0L125.2 269.1L126.1 269.4L126.9 270.1L127.9 269.7L129.0 269.2L129.6 270.2L130.3 270.9L131.4 270.4L132.3 270.4L133.0 271.3L133.8 271.8L134.8 272.0L135.9 272.0L137.1 272.0L138.1 273.0L138.9 273.3L140.0 272.8L141.0 272.8L141.8 273.9L142.8 273.9L144.0 273.1L145.0 273.3L146.0 273.6L147.0 273.5L148.1 273.5L149.1 273.5L150.1 274.1L151.0 274.8L152.1 274.4L153.1 274.4L154.0 275.1L155.0 274.8L156.1 274.5L157.1 274.9L158.1 275.0L159.1 275.2L160.0 275.9L161.0 275.9L162.0 276.1L162.9 276.7L164.0 276.7L165.0 276.8L165.9 277.2L166.8 277.1L167.7 277.3L168.6 278.1L169.6 278.1L170.7 277.7L171.5 278.3L172.3 278.8L173.3 278.5L174.2 278.2L175.1 278.6L176.0 278.9L176.9 279.2L177.8 279.5L178.8 279.3L179.9 279.5L180.7 280.2L181.6 280.0L182.6 279.0L183.5 279.0L184.4 279.7L185.4 279.4L186.3 278.8L187.3 279.1L188.3 279.5L189.2 279.8L190.2 279.7L191.2 279.1L192.1 279.1L193.1 279.8L194.1 279.2L195.0 278.2L195.9 278.7L196.9 279.4L197.8 278.9L198.8 278.6L199.7 278.7L200.6 278.8L201.6 278.8L202.5 278.6L203.5 278.0L204.4 278.2L205.3 278.9L206.3 278.6L207.2 278.1L208.1 278.6L209.1 278.8L210.0 278.3L210.9 278.2L211.9 278.2L212.8 277.9L213.7 278.0L214.7 278.4L215.6 278.2L216.5 278.4L217.5 278.9L218.4 278.8L219.4 278.6L220.3 278.9L221.2 278.6L222.2 278.1L223.1 278.6L224.1 278.8L225.0 278.2L226.0 278.4L227.0 279.1L228.0 279.0L229.0 278.7L230.0 278.6L231.0 278.5L232.0 278.8L233.0 278.6L233.9 278.0L234.9 278.5L235.9 279.2L236.7 278.6L237.6 277.9L238.4 278.4L239.2 278.8L239.9 278.7L241.1 278.2L242.2 278.3L243.1 278.9L243.8 279.6L244.7 279.5L245.6 279.2L246.2 279.7L246.6 280.7L247.3 280.9L248.7 280.3L249.4 280.6L249.6 281.5L250.1 282.2L251.0 282.7L251.8 283.6L252.3 284.2L252.7 285.0L253.1 285.9L254.1 286.2L255.2 286.5L255.5 287.7L256.2 288.4L257.4 288.6L257.9 289.7L258.2 290.7L259.0 291.2L259.5 291.9L260.1 292.7L260.9 293.3L261.4 294.1L261.8 294.9L262.6 295.4L263.1 296.1L263.2 297.1L263.7 297.8L264.3 298.4L264.4 299.4L264.9 300.2L265.8 300.7L266.1 301.7L266.3 302.6L267.2 303.1L267.6 303.9L267.6 304.9L267.8 305.8L268.2 306.5L268.5 307.4L269.0 308.2L269.2 309.1L269.5 310.1L270.2 310.8L270.6 311.6L270.5 312.6L270.7 313.4L271.3 314.2L271.5 315.0L271.4 315.8L271.6 316.6L271.9 317.4L272.3 318.4L272.7 319.5L272.7 320.3L272.8 321.2L273.4 322.0L273.8 322.9L273.6 324.0L273.8 324.9L274.5 325.8L274.7 326.9L274.9 327.9L275.3 328.8L275.6 329.8L276.0 330.6L276.1 331.7L276.1 332.7L276.6 333.5L277.1 334.3L277.2 335.2L277.3 336.1L277.8 336.9L278.2 337.6L278.2 338.5L278.3 339.4L278.5 340.3L278.4 341.1L278.6 342.0L278.7 342.9L278.6 343.8L278.7 344.7L279.0 345.6L278.9 346.6L278.9 347.6L279.1 348.6L278.9 349.5L278.8 350.5L279.0 351.5L278.9 352.5L278.8 353.4L279.0 354.4L279.1 355.3L279.0 356.3L279.1 357.2L279.0 358.2L279.0 359.1L279.1 360.1L278.9 361.1L278.7 362.0L279.1 363.0L279.4 364.0L279.1 365.0L279.1 366.0L279.4 366.9L279.4 367.9L279.3 368.9L279.2 369.9L279.2 370.9L279.5 371.8L279.7 372.8L279.4 373.8L279.5 374.8L280.0 375.7L279.9 376.7L279.6 377.7L279.7 378.7L280.0 379.6L280.0 380.6L280.0 381.6L280.0 382.5L280.2 383.5L280.6 384.4L280.5 385.4L280.2 386.4L280.5 387.3L280.7 388.3L280.5 389.3L280.4 390.3L280.7 391.2L280.8 392.2L280.9 393.3L281.0 394.3L281.0 395.3L281.1 396.3L281.2 397.4L281.0 398.4L281.1 399.4L281.4 400.4L281.4 401.4L281.5 402.3L281.9 403.2L281.9 404.3L282.0 405.3L282.4 406.3L282.5 407.3L282.5 408.3L282.8 409.2L283.1 410.0L283.3 410.9L283.6 411.6L283.8 412.4L283.9 413.2L284.2 414.2L284.6 415.1L284.4 416.0L284.4 417.0L284.9 417.8L285.4 418.7L285.3 419.8L285.7 420.8L286.3 421.6L286.7 422.4L287.0 423.3L287.1 424.3L287.1 425.3L287.7 426.2L288.3 427.1L288.1 428.3L288.4 429.4L289.7 430.0L290.2 430.9L290.1 432.0L290.7 432.9L291.4 433.7L291.9 434.6L292.3 435.6L292.5 436.7L293.1 437.5L294.2 437.9L294.5 438.8L294.4 440.0L295.3 440.6L296.2 441.2L296.2 442.4L296.4 443.5L297.1 444.2L297.7 444.9L298.3 445.6L299.0 446.2L299.4 447.0L299.8 447.8L300.9 448.2L301.6 448.9L301.8 450.1L302.4 450.9L303.3 451.3L303.8 452.2L304.2 453.0L305.1 453.4L306.0 453.8L306.6 454.5L307.4 455.0L308.5 455.2L309.4 455.7L310.2 456.5L311.2 457.0L312.1 457.3L312.9 457.8L313.9 458.1L314.9 458.2L315.7 458.9L316.8 459.0L318.1 458.6L319.0 459.3L319.8 460.1L320.9 459.8L321.9 459.7L322.8 460.2L323.7 460.7L324.6 460.6L325.6 460.4L326.6 460.2L327.6 460.4L328.5 461.1L329.5 461.2L330.4 460.6L331.3 461.1L332.2 462.3L333.2 462.1L334.2 461.4L335.2 461.6L336.1 462.0L337.1 461.8L338.0 461.7L339.0 461.4L339.9 461.7L340.8 462.6L341.7 462.7L342.6 462.0L343.5 462.1L344.3 463.0L345.2 462.9L346.1 462.1L347.0 462.1L348.0 462.4L348.9 462.4L349.9 462.4L350.7 462.3L351.5 462.1L352.4 462.3L353.2 462.6L354.1 462.1L355.0 461.5L355.9 461.8L356.9 462.1L357.8 461.6L358.8 461.7L359.8 462.0L360.8 461.6L361.9 461.6L362.8 461.7L363.7 461.1L364.6 460.7L365.5 460.8L366.5 460.7L367.5 460.5L368.5 460.9L369.5 460.7L370.5 460.8L371.4 461.4L372.4 460.9L373.5 460.2L374.4 460.7L375.3 460.9L376.3 460.3L377.2 460.1L378.0 460.5L379.0 460.9L380.0 461.2L381.0 461.0L382.0 460.7L382.9 461.4L383.8 461.9L384.8 461.2L385.7 460.9L386.5 461.8L387.4 462.4L388.3 462.1L389.1 461.8L390.0 462.0L390.9 462.2L391.8 462.3L392.6 462.3L393.4 461.8L394.1 461.4L394.9 461.9L395.8 462.7L396.6 462.5L397.6 461.9L398.7 462.8L399.9 463.0L400.7 462.4L401.5 462.2L402.3 462.2L403.1 462.2L404.0 462.2L404.9 462.3L405.9 461.9L406.8 462.1L407.8 463.0L408.8 462.7L409.8 462.3L410.8 462.8L411.9 462.7L412.9 462.3L413.9 462.6L415.0 462.4L416.0 462.4L417.0 462.8L418.0 462.6L419.0 462.4L420.0 462.7L420.9 462.5L421.9 462.4L422.9 462.8L423.9 462.7L424.9 462.6L425.9 463.5L426.9 463.4L428.0 462.7L429.0 463.1L430.0 463.2L431.0 462.7L432.0 462.6L433.0 462.7L433.9 463.0L434.9 463.6L435.8 463.4L436.7 463.1L437.6 463.8L438.4 464.4L439.2 463.8L440.0 463.0L441.2 463.4L442.3 463.7L443.3 463.2L444.2 463.1L445.2 463.2L446.0 463.6L446.9 464.0L447.7 463.7L448.5 463.0L449.4 463.1L450.2 464.0L451.1 463.8L452.1 462.9L453.0 463.0L453.9 463.7L454.8 463.5L455.8 463.1L456.7 462.9L457.7 462.6L458.6 462.7L459.6 462.7L460.5 462.0L461.4 461.9L462.5 462.7L463.4 462.6L464.3 462.1L465.2 462.2L466.3 462.4L467.2 461.7L468.2 461.4L469.2 461.0L470.2 460.4L471.2 460.5L472.2 460.4L473.2 460.1L474.2 460.3L475.2 460.2L476.1 459.7L477.0 459.7L478.1 459.4L478.9 458.5L479.9 458.4L481.0 458.5L481.8 457.6L482.6 457.2L483.7 457.2L484.6 456.7L485.5 456.1L486.3 455.4L487.0 454.8L488.1 454.6L489.1 454.3L489.5 453.2L490.3 452.6L491.8 452.7L492.4 451.6L492.4 450.3L493.3 449.6L494.1 448.9L494.6 447.9L494.9 447.0L495.3 446.2L496.3 445.7L497.5 445.2L497.5 444.1L497.6 443.0L498.7 442.4L499.2 441.5L498.8 440.3L499.0 439.3L499.6 438.5L499.9 437.7L500.2 436.8L500.5 435.9L500.7 434.9L501.4 434.2L501.9 433.3L501.7 432.3L501.8 431.4L502.4 430.6L502.7 429.8L502.7 428.8L503.0 427.9L503.3 427.1L503.5 426.1L503.7 425.2L503.9 424.3L503.9 423.4L504.1 422.4L504.5 421.6L504.7 420.7L504.8 419.7L505.3 418.8L505.6 417.8L505.7 416.8L506.1 415.8L506.1 414.6L506.0 413.8L506.3 412.9L506.4 412.0L506.3 411.0L506.4 410.1L506.8 409.2L507.0 408.2L507.3 407.3L507.3 406.3L507.3 405.2L507.7 404.2L507.9 403.2L507.5 402.2L507.7 401.1L508.1 400.1L507.9 399.0L507.8 398.1L507.9 397.2L508.1 396.3L508.1 395.4L508.0 394.4L507.8 393.5L508.0 392.5L508.4 391.5L508.1 390.6L507.9 389.6L508.2 388.6L508.3 387.6L507.8 386.7L507.6 385.7L507.5 384.8L507.5 383.8L507.5 382.9L507.4 381.9L507.3 381.0L507.6 380.0L507.8 379.1L507.5 378.1L507.4 377.2L507.6 376.2L507.4 375.3L507.1 374.3L507.1 373.4L507.1 372.4L507.0 371.5L507.2 370.6L507.1 369.6L507.0 368.7L507.2 367.8L507.3 366.8L507.1 365.9L507.2 364.9L507.3 364.0L507.1 363.1L507.2 362.1L507.4 361.2L507.2 360.2L507.0 359.3L507.1 358.3L507.1 357.4L506.9 356.4L506.9 355.5L507.0 354.5L507.1 353.6L507.3 352.6L507.3 351.7L507.1 350.8L507.3 349.8L507.4 348.8L507.0 347.9L506.6 347.0L506.8 346.0L506.8 345.1L506.5 344.1L506.5 343.1L506.5 342.1L506.7 341.1L506.8 340.1L506.3 339.2L506.2 338.2L506.5 337.2L506.3 336.2L505.7 335.3L505.7 334.4L505.9 333.4L505.7 332.5L505.5 331.7L505.3 330.8L505.2 330.0L505.3 328.9L505.3 327.9L504.8 327.0L504.8 326.0L505.2 325.1L505.1 324.2L504.7 323.4L504.6 322.5L504.7 321.6L504.5 320.8L504.3 319.9L504.1 319.0L503.9 318.1L503.9 317.2L504.1 316.2L504.0 315.4L503.9 314.5L504.1 313.6L504.3 312.6L504.1 311.7L504.0 310.8L504.1 309.9L503.8 309.0L503.6 308.0L503.7 307.0L503.6 306.0L503.4 305.0L503.5 304.1L503.6 303.2L503.5 302.4L503.5 301.5L503.5 300.5L503.3 299.6L503.4 298.7L503.5 297.7L503.1 296.8L503.0 295.9L503.2 294.9L503.1 293.9L502.6 293.0L502.5 292.0L502.5 291.0L502.4 290.0L502.2 289.0L502.1 288.1L502.1 287.2L502.4 286.2L502.3 285.3L501.8 284.4L501.8 283.5L502.0 282.5L501.6 281.6L501.1 280.7L501.1 279.7L501.1 278.7L501.1 277.7L501.0 276.8L500.9 275.8L501.0 274.8L501.3 273.9L501.0 272.9L500.6 272.0L500.9 271.0L501.0 270.1L500.6 269.1L500.5 268.2L500.6 267.2L500.5 266.3L500.5 265.3L500.5 264.4L500.3 263.4L500.4 262.5L500.6 261.5L500.4 260.6L500.3 259.6L500.6 258.7L500.6 257.7L500.4 256.8L500.4 255.8L500.3 254.9L500.0 253.9L499.9 253.0L499.9 252.0L499.7 251.1L499.7 250.2L499.9 249.2L499.9 248.2L500.0 247.3L500.1 246.3L499.8 245.4L499.8 244.4L499.9 243.5L499.5 242.5L499.1 241.6L499.3 240.7L499.4 239.7L499.1 238.8L499.0 237.8L499.1 236.9L499.1 235.9L499.1 235.0L498.9 234.0L498.7 233.0L498.9 232.0L499.0 231.0L498.5 230.1L498.4 229.1L498.7 228.1L498.5 227.1L498.1 226.2L498.0 225.2L498.0 224.2L498.1 223.2L498.1 222.2L497.9 221.3L498.2 220.3L498.6 219.3L498.3 218.3L497.9 217.4L498.1 216.4L498.1 215.5L497.8 214.5L497.7 213.6L497.7 212.6L497.8 211.7L498.0 210.7L498.0 209.8L497.9 208.9L498.2 207.9L498.4 207.0L498.1 206.0L498.0 205.1L498.1 204.1L498.0 203.1L497.9 202.2L498.0 201.2L497.9 200.2L497.8 199.2L497.9 198.3L497.9 197.3L497.8 196.2L497.9 195.2L497.9 194.2L498.0 193.1L498.2 192.1L498.0 191.0L498.0 190.0L498.2 189.0L497.8 187.9L497.5 186.9L497.8 186.0L497.9 185.0L497.8 184.1L497.9 183.2L498.1 182.3L498.3 181.5L498.6 180.3L498.4 179.2L498.3 178.1L498.8 177.1L498.6 176.1L498.2 175.1L498.5 174.2L499.0 173.4L499.0 172.5L499.0 171.7L499.2 170.9L499.4 170.1L499.9 169.1L500.2 168.2L500.0 167.2L500.1 166.3L501.0 165.6L501.4 164.9L501.0 163.9L501.0 163.1L501.7 162.4L502.0 161.5L502.0 160.5L502.2 159.6L502.5 158.7L503.2 157.9L504.1 157.4L504.4 156.5L504.7 155.6L505.7 155.2L506.5 154.7L506.4 153.7L506.5 152.7L507.1 152.1L507.3 151.2L507.5 150.2L508.1 149.6L508.7 148.9L509.0 148.1L509.8 147.6L510.7 147.2L511.2 146.5L511.7 145.7L512.5 145.2L512.9 144.3L513.2 143.4L514.0 142.8L514.4 142.0L514.4 140.8L515.2 140.2L516.2 139.8L516.3 138.7L516.6 137.7L517.6 137.3L518.4 136.6L519.0 136.1L519.7 135.5L520.4 134.8L521.5 134.6L522.5 134.3L522.7 133.0L523.3 132.2L524.5 132.2L525.0 131.2L525.2 129.9L526.1 129.6L527.1 129.6L528.0 129.4L528.9 129.1L529.7 128.7L530.6 128.8L531.7 129.3L532.4 128.8L533.0 127.6L534.0 127.5L535.0 127.9L535.8 127.1L536.5 126.2L537.5 126.4L538.5 126.5L539.4 126.4L540.4 126.3L541.2 125.9L542.1 125.8L543.1 126.3L544.0 126.1L544.7 125.3L545.7 125.4L546.7 125.8L547.5 125.3L548.3 124.8L549.2 124.8L550.1 124.6L551.1 124.1L552.2 124.1L553.3 123.8L554.1 123.7L555.1 124.1L556.0 124.3L556.8 124.0L557.8 124.1L558.8 124.0L559.6 123.2L560.6 123.0L561.6 122.9L562.4 121.8L563.4 121.6L564.4 122.1L565.4 121.9L566.3 121.6L567.3 121.9L568.3 122.0L569.3 122.0L570.2 121.8L571.2 121.0L572.2 121.1L573.3 121.6L574.2 120.6L575.1 120.0L576.1 120.7L577.0 120.9L577.8 120.3L578.6 119.9L579.3 119.9L580.7 120.2L581.9 120.4L582.8 120.0L583.6 119.5L584.4 119.6L585.3 120.2L586.1 120.3L586.8 119.3L587.3 118.4L587.8 118.3L588.4 118.7L589.1 118.5L590.3 117.6L590.9 117.7L591.6 118.0L592.4 118.3L593.2 118.8L594.1 118.9L595.0 118.5L595.9 118.9L596.9 119.3L597.9 118.4L598.9 117.8L600.0 118.2L601.0 117.8L602.1 117.5L603.1 117.7L604.2 117.6L605.2 117.7L606.2 117.9L607.2 117.4L608.2 117.4L609.3 117.6L610.4 117.0L611.6 117.2L612.7 116.9L613.8 116.3L614.9 116.6L616.0 115.9L616.9 115.3L618.0 115.8L618.9 115.9L619.7 115.7L620.5 115.9L621.1 116.1L621.7 116.1" stroke="#7E2F8E"/>
<path d="M100.2 252.1L99.1 253.0L98.1 254.8L97.0 256.0L96.5 257.6L96.4 259.6L96.0 261.0L97.2 261.8L98.6 262.1L100.0 263.0L101.2 263.4L101.7 263.5L102.2 264.1L102.5 265.3L103.3 265.9L104.5 266.1L105.3 267.0L106.3 267.7L107.5 267.9L108.4 268.5L109.2 269.0L110.1 269.3L111.0 269.8L111.9 270.5L113.1 270.4L114.3 270.3L115.5 270.9L116.6 270.7L117.7 270.4L118.6 270.9L119.6 271.2L120.7 270.9L121.8 271.1L122.9 270.8L124.0 270.3L124.9 270.6L125.9 270.5L126.9 270.5L127.6 271.2L128.4 271.3L129.3 271.3L130.0 271.7L130.9 271.7L132.0 271.4L132.8 271.8L133.6 272.5L134.6 272.6L135.5 273.2L136.5 274.2L137.8 274.2L138.7 274.5L139.6 274.7L140.6 274.5L141.6 274.8L142.5 275.3L143.6 275.0L144.6 275.4L145.5 276.1L146.6 275.8L147.7 275.7L148.7 276.2L149.7 276.0L150.8 275.9L151.8 276.0L152.8 275.8L153.7 276.2L154.7 276.2L155.9 275.7L156.8 276.3L157.7 277.0L158.8 276.6L159.8 276.8L160.8 277.3L161.8 277.1L162.9 277.0L163.9 277.0L164.9 277.2L165.7 278.2L166.5 278.7L167.5 278.5L168.5 279.0L169.3 279.9L170.4 279.4L171.4 278.8L172.3 279.1L173.1 279.6L174.0 279.8L174.9 280.2L175.8 280.4L176.7 280.7L177.7 281.3L178.7 281.3L179.8 280.1L180.7 280.0L181.6 280.6L182.5 280.4L183.5 279.7L184.4 280.0L185.4 280.6L186.3 280.6L187.3 280.4L188.3 279.8L189.2 279.4L190.2 279.8L191.2 279.4L192.1 278.4L193.1 278.8L194.1 279.7L195.0 279.2L195.9 278.7L196.9 279.1L197.8 279.4L198.8 279.3L199.7 279.1L200.6 278.6L201.6 278.8L202.5 279.5L203.5 279.0L204.4 278.3L205.3 279.2L206.3 280.2L207.2 279.8L208.1 279.5L209.1 279.9L210.0 280.0L210.9 279.7L211.9 279.2L212.8 278.7L213.7 279.2L214.6 280.1L215.6 279.8L216.5 279.3L217.4 280.1L218.4 280.3L219.3 279.2L220.3 278.4L221.2 278.4L222.2 278.4L223.1 278.6L224.1 278.4L225.0 278.2L226.0 278.9L227.0 279.3L227.9 278.0L228.9 277.3L229.9 277.9L230.9 277.6L231.9 277.0L232.9 277.4L233.9 277.9L234.9 278.2L235.8 278.1L236.7 277.6L237.6 277.7L238.4 278.4L239.2 278.4L240.0 277.7L241.2 277.9L242.1 279.1L243.1 278.9L244.0 278.9L244.7 279.5L245.3 280.0L245.9 280.4L246.6 280.8L247.4 280.8L248.4 280.8L248.7 281.5L249.1 282.2L250.1 282.1L251.3 282.3L251.6 283.9L252.1 284.5L252.9 284.8L253.6 285.4L254.3 286.1L255.1 286.6L256.0 287.2L257.3 287.3L258.3 287.8L258.4 289.1L259.1 289.8L260.0 290.2L260.3 291.2L260.6 292.3L261.6 292.6L262.5 293.1L263.2 293.8L263.8 294.4L264.1 295.3L264.4 296.2L265.0 296.8L265.3 297.7L265.2 298.9L265.8 299.6L266.9 300.0L267.2 300.9L267.5 301.8L268.2 302.5L268.6 303.3L268.9 304.2L269.3 305.0L269.6 305.8L270.0 306.7L270.8 307.4L271.2 308.3L271.4 309.3L272.0 310.1L272.4 310.9L272.6 311.8L273.0 312.6L273.5 313.5L273.7 314.3L274.0 315.1L274.4 315.8L274.5 316.7L274.7 317.8L275.2 318.9L275.3 319.7L275.4 320.5L275.9 321.4L276.2 322.3L276.2 323.3L276.6 324.3L276.7 325.3L276.7 326.4L277.1 327.4L277.3 328.3L277.4 329.3L277.8 330.2L278.0 331.2L278.1 332.1L278.3 333.0L278.5 333.9L278.5 334.9L278.8 335.7L279.2 336.5L279.3 337.4L279.4 338.3L279.8 339.2L279.9 340.1L279.8 341.0L279.9 341.9L280.0 342.8L280.0 343.7L280.3 344.7L280.3 345.6L280.3 346.6L280.5 347.6L280.5 348.6L280.1 349.6L280.3 350.5L280.5 351.5L280.4 352.5L280.5 353.4L280.6 354.4L280.6 355.4L280.5 356.3L280.3 357.3L280.0 358.2L280.0 359.2L280.2 360.1L279.9 361.1L279.8 362.1L280.1 363.1L280.1 364.0L279.7 365.0L279.6 366.0L279.6 366.9L279.5 367.9L279.6 368.9L279.4 369.9L279.4 370.9L279.8 371.8L279.8 372.8L279.4 373.8L279.7 374.8L279.9 375.7L279.8 376.7L279.8 377.7L279.9 378.7L280.1 379.6L280.3 380.6L280.3 381.5L280.2 382.5L280.6 383.4L281.1 384.4L280.9 385.3L280.9 386.3L281.3 387.2L281.4 388.2L281.2 389.2L281.3 390.2L281.5 391.1L281.8 392.1L282.1 393.1L282.0 394.1L282.1 395.2L282.6 396.1L282.2 397.2L281.9 398.3L282.3 399.2L282.6 400.2L282.6 401.2L282.8 402.1L283.1 403.0L283.4 404.0L283.6 405.0L283.4 406.1L283.3 407.1L283.9 407.9L284.2 408.8L284.1 409.7L284.4 410.6L285.1 411.3L285.4 412.0L285.5 412.8L285.6 413.9L285.7 414.9L286.0 415.7L286.3 416.6L286.2 417.6L286.2 418.5L287.0 419.4L287.7 420.3L287.4 421.2L287.6 422.1L288.3 422.9L288.7 423.8L288.7 424.8L288.8 425.8L289.0 426.8L289.6 427.7L290.1 428.6L289.9 429.9L290.4 430.7L291.7 431.2L292.1 432.0L292.0 433.3L292.7 434.1L293.4 434.8L293.5 436.0L293.6 437.1L294.0 438.0L294.8 438.6L296.0 438.9L296.5 439.8L296.7 440.9L297.8 441.2L298.6 441.8L298.4 443.2L298.4 444.3L299.3 444.8L300.1 445.3L300.7 445.9L301.5 446.4L302.3 446.9L303.2 447.4L304.3 447.7L304.8 448.5L304.8 449.8L305.3 450.5L306.4 450.6L307.0 451.1L307.4 452.1L308.2 452.5L309.3 452.5L310.2 452.8L310.9 453.4L311.7 453.9L312.4 454.7L313.1 455.2L314.0 455.3L314.8 455.8L315.4 456.9L316.4 457.0L317.6 456.7L318.4 457.5L319.3 458.1L320.4 458.0L321.3 458.1L322.2 458.5L323.1 458.6L323.9 459.1L324.8 459.5L325.8 459.3L326.7 459.5L327.6 460.2L328.6 460.0L329.7 459.3L330.6 459.5L331.5 459.6L332.4 459.3L333.4 459.4L334.3 459.8L335.2 459.8L336.2 460.1L337.1 460.2L338.1 459.5L339.1 459.2L340.0 459.4L340.9 459.0L341.8 458.7L342.7 459.2L343.5 459.6L344.4 459.5L345.3 459.7L346.2 459.9L347.1 459.4L348.1 459.1L349.0 459.3L350.0 459.1L350.8 459.0L351.7 459.5L352.5 459.9L353.4 459.8L354.2 460.0L355.1 460.3L356.0 459.9L357.0 459.7L357.9 460.1L358.9 460.0L359.9 459.8L360.9 460.3L362.0 460.3L362.8 460.1L363.7 460.2L364.6 460.2L365.6 459.9L366.5 460.2L367.5 460.3L368.5 459.8L369.5 460.1L370.5 460.4L371.5 459.7L372.5 459.6L373.5 460.0L374.4 459.8L375.4 459.9L376.3 460.1L377.2 459.9L378.0 459.9L379.1 460.2L380.1 459.5L381.1 459.3L382.1 460.2L383.0 460.2L383.9 459.8L384.8 460.2L385.7 460.6L386.6 460.5L387.5 460.3L388.3 460.2L389.2 460.0L390.0 460.2L390.9 460.8L391.8 460.5L392.6 460.1L393.4 460.4L394.1 461.0L394.9 460.8L395.7 460.0L396.6 459.8L397.6 460.2L398.7 460.2L400.0 460.2L400.7 460.1L401.5 460.0L402.3 460.3L403.2 460.4L404.1 459.5L405.1 459.0L406.0 459.8L406.9 460.1L407.9 459.4L408.9 459.6L409.9 460.1L411.0 459.8L412.0 459.4L413.1 458.8L414.1 459.0L415.1 459.7L416.1 459.1L417.1 458.8L418.1 459.8L419.1 459.8L420.1 458.7L421.0 458.5L422.0 458.6L423.0 458.5L424.0 458.3L425.0 457.8L426.0 458.0L427.0 458.6L428.0 457.7L429.0 456.7L430.0 457.4L431.0 457.4L432.0 456.5L433.0 456.3L434.0 456.6L434.9 456.5L435.8 456.3L436.7 455.8L437.6 455.6L438.4 456.2L439.2 456.6L440.0 456.0L441.2 455.2L442.3 456.0L443.3 455.6L444.3 454.7L445.2 454.8L446.0 455.2L446.8 455.5L447.6 455.8L448.4 455.6L449.2 455.2L450.0 455.4L450.9 455.9L451.8 455.0L452.6 454.0L453.5 454.4L454.5 455.2L455.4 455.0L456.3 454.9L457.2 455.3L458.2 455.6L459.1 455.4L459.9 454.8L460.8 454.0L461.7 454.2L462.6 454.8L463.4 454.4L464.2 454.0L465.4 454.9L466.4 455.4L467.3 454.5L468.2 454.2L469.2 454.1L470.2 454.0L471.1 453.9L471.9 453.4L472.8 453.5L473.9 454.4L474.7 454.1L475.3 453.2L476.5 453.5L477.6 453.8L478.3 453.0L479.2 452.7L480.0 452.6L480.8 452.5L481.7 452.5L482.3 452.0L482.9 451.6L484.2 452.1L485.0 451.9L485.3 450.9L486.1 450.5L487.1 450.3L487.5 449.4L487.9 448.6L488.7 448.1L489.6 447.7L490.8 447.5L491.5 446.9L492.0 446.0L492.8 445.6L493.3 444.9L492.9 443.7L493.2 442.9L494.1 442.3L494.6 441.6L495.2 440.8L496.1 440.2L496.6 439.3L497.1 438.5L497.5 437.7L497.4 436.6L497.5 435.7L498.3 435.0L498.6 434.1L498.9 433.2L499.6 432.6L500.2 431.8L500.4 430.9L500.7 430.1L501.0 429.3L501.1 428.4L501.4 427.5L501.8 426.6L502.0 425.7L502.2 424.8L502.8 424.0L503.1 423.1L503.2 422.2L503.7 421.4L504.0 420.5L504.1 419.5L504.4 418.6L504.7 417.7L504.7 416.6L505.0 415.6L505.3 414.5L505.3 413.7L505.6 412.8L506.0 411.9L506.1 411.0L506.3 410.1L506.5 409.2L506.4 408.2L506.4 407.2L506.7 406.2L506.6 405.2L506.8 404.2L507.2 403.2L507.4 402.1L507.5 401.1L507.5 400.1L507.4 399.0L507.4 398.1L507.5 397.2L507.3 396.3L507.4 395.3L507.8 394.4L507.9 393.5L507.7 392.5L507.8 391.5L507.8 390.6L507.6 389.6L507.5 388.6L507.5 387.7L507.5 386.7L507.8 385.7L507.8 384.8L507.5 383.8L507.7 382.9L507.9 381.9L507.6 381.0L507.5 380.0L507.7 379.1L507.8 378.1L507.8 377.2L507.8 376.2L507.7 375.3L507.8 374.3L508.1 373.4L507.9 372.4L507.7 371.5L508.1 370.6L508.3 369.6L508.0 368.7L507.9 367.8L508.1 366.8L508.1 365.9L508.1 364.9L508.1 364.0L508.0 363.0L508.3 362.1L508.5 361.1L508.1 360.2L507.9 359.2L508.2 358.3L508.2 357.3L507.8 356.4L507.9 355.5L508.2 354.5L508.2 353.5L508.2 352.6L508.0 351.7L507.8 350.7L508.0 349.8L508.0 348.8L507.6 347.9L507.7 346.9L508.2 346.0L508.1 345.0L507.7 344.0L507.8 343.1L507.9 342.1L507.9 341.1L507.8 340.1L507.6 339.1L507.9 338.1L508.3 337.1L507.9 336.1L507.6 335.2L507.9 334.2L508.0 333.3L507.6 332.4L507.5 331.6L507.8 330.7L507.9 329.8L508.0 328.7L507.8 327.7L507.5 326.7L507.6 325.8L507.6 324.8L507.2 324.0L506.9 323.1L507.2 322.2L507.4 321.3L507.2 320.5L506.9 319.6L506.9 318.7L506.9 317.8L506.8 316.9L506.6 316.0L506.3 315.2L506.3 314.3L506.6 313.3L506.5 312.4L506.1 311.6L506.1 310.6L506.4 309.7L506.2 308.8L505.9 307.8L505.9 306.8L506.0 305.8L506.0 304.8L505.8 304.0L505.5 303.1L505.5 302.2L505.9 301.3L505.8 300.4L505.4 299.5L505.6 298.5L505.9 297.6L505.6 296.7L505.3 295.7L505.2 294.7L505.2 293.8L505.2 292.8L505.1 291.8L504.9 290.8L505.2 289.8L505.4 288.8L505.0 287.9L504.6 287.0L504.7 286.1L504.6 285.2L504.2 284.2L504.2 283.3L504.3 282.3L504.4 281.4L504.5 280.4L504.3 279.4L504.0 278.5L504.1 277.5L503.9 276.6L503.5 275.6L503.4 274.7L503.7 273.7L503.7 272.7L503.6 271.8L503.7 270.8L503.6 269.9L503.5 268.9L503.5 268.0L503.1 267.0L503.0 266.1L503.3 265.1L503.1 264.2L502.9 263.3L503.0 262.3L503.1 261.3L502.9 260.4L502.9 259.5L502.8 258.5L502.6 257.6L502.6 256.6L502.5 255.7L502.1 254.8L502.1 253.8L502.2 252.9L502.0 251.9L502.0 251.0L502.2 250.0L502.0 249.1L501.8 248.2L501.7 247.2L501.4 246.3L501.2 245.3L501.3 244.4L501.3 243.4L501.2 242.5L501.4 241.5L501.5 240.6L501.3 239.6L501.2 238.7L501.1 237.7L500.7 236.8L500.6 235.9L500.8 234.9L500.7 233.9L500.8 232.9L501.1 231.9L501.0 230.9L500.8 229.9L500.7 228.9L500.4 227.9L500.3 227.0L500.4 226.0L500.2 225.0L500.2 224.0L500.5 223.0L500.3 222.1L500.0 221.1L500.1 220.2L500.0 219.2L499.8 218.3L499.7 217.3L499.6 216.3L499.5 215.4L499.6 214.4L499.5 213.5L499.2 212.6L499.5 211.6L499.6 210.7L499.3 209.8L499.2 208.8L499.3 207.9L499.2 206.9L499.0 206.0L499.0 205.1L498.9 204.1L499.2 203.1L499.5 202.2L499.3 201.2L499.2 200.2L499.5 199.2L499.4 198.3L499.0 197.3L499.1 196.2L499.3 195.2L499.4 194.2L499.6 193.1L499.6 192.1L499.8 191.0L499.8 190.0L499.3 189.0L499.3 188.0L499.7 187.0L499.6 186.0L499.4 185.0L499.7 184.1L499.9 183.3L499.9 182.4L499.8 181.6L499.6 180.4L499.7 179.3L500.0 178.2L499.7 177.2L499.8 176.2L500.4 175.3L500.5 174.4L500.2 173.5L500.3 172.7L500.7 171.9L500.9 171.1L501.0 170.4L501.1 169.3L501.1 168.3L501.8 167.5L502.3 166.8L502.0 165.9L501.9 165.0L502.7 164.4L503.6 163.8L503.6 163.0L503.6 162.1L504.4 161.4L505.0 160.7L505.3 159.9L505.4 159.0L505.5 158.0L506.4 157.5L507.6 157.1L507.5 156.2L507.5 155.3L508.5 155.0L509.4 154.6L509.3 153.6L509.2 152.5L509.8 151.9L510.6 151.3L511.2 150.7L511.8 150.0L512.0 149.2L512.4 148.4L513.5 148.1L514.1 147.5L513.7 146.1L514.1 145.2L515.4 145.0L516.1 144.3L516.3 143.3L516.9 142.6L517.8 142.1L518.4 141.5L518.9 140.8L519.0 139.8L519.6 139.2L521.1 139.3L521.6 138.7L521.8 137.7L522.8 137.5L524.0 137.5L524.3 136.4L524.7 135.5L525.6 135.1L526.5 134.7L527.4 134.5L527.9 133.9L528.5 133.3L529.3 133.6L530.1 133.4L530.2 132.1L530.8 131.6L531.7 131.9L532.4 131.5L533.1 130.9L533.9 130.9L534.9 130.8L535.8 130.5L536.7 130.3L537.4 129.4L538.2 128.7L539.2 129.0L540.0 128.8L540.7 127.8L541.6 127.7L542.6 128.1L543.4 127.7L544.2 127.1L545.1 127.0L546.0 126.9L546.9 126.8L547.8 127.0L548.6 126.5L549.4 126.0L550.4 126.4L551.4 126.3L552.4 125.4L553.6 125.8L554.5 126.1L555.3 125.9L556.2 125.8L557.1 125.8L558.0 125.4L558.9 125.1L559.9 124.9L560.7 124.1L561.7 123.9L562.8 124.5L563.8 124.2L564.7 123.9L565.7 124.2L566.6 123.8L567.4 122.9L568.3 122.6L569.3 122.1L570.2 121.7L571.3 122.1L572.3 121.9L573.3 121.8L574.3 122.1L575.3 121.7L576.1 120.9L577.0 120.9L577.9 120.7L578.6 120.2L579.4 120.0L580.8 120.5L581.9 120.2L582.9 120.1L583.8 120.3L584.5 120.1L585.1 119.6L585.8 119.4L586.8 119.4L587.6 119.0L587.9 118.6L588.4 118.5L589.1 118.7L590.3 118.2L590.9 118.3L591.6 118.7L592.4 118.9L593.2 118.5L594.1 118.5L595.0 118.9L595.9 118.6L596.9 118.1L597.9 118.0L598.9 117.5L600.0 117.6L601.0 117.8L602.1 117.4L603.1 117.8L604.2 118.3L605.2 117.4L606.1 116.9L607.1 116.8L608.2 116.3L609.3 116.2L610.4 116.4L611.6 116.7L612.7 117.5L613.8 116.8L614.9 116.4L616.0 116.8L617.0 116.0L617.9 115.6L618.9 116.2L619.8 116.7L620.5 116.8L621.2 117.0L621.7 117.1" stroke="#A2142F"/>
<path d="M99.8 251.8L98.9 253.1L97.9 254.4L97.0 256.0L96.4 257.9L95.7 259.8L97.3 259.6L98.6 260.1L99.7 260.6L102.3 261.5L102.8 261.7L103.2 262.4L103.6 263.5L104.3 264.2L105.2 264.9L105.9 265.9L106.9 266.5L107.9 267.1L108.6 268.0L109.3 268.7L110.4 268.7L111.4 268.8L112.1 269.8L113.1 270.6L114.4 270.0L115.6 270.3L116.4 271.5L117.4 272.0L118.5 271.5L119.5 272.1L120.4 273.2L121.5 272.8L122.6 272.4L123.6 272.6L124.7 272.2L125.6 272.1L126.4 272.8L127.2 272.8L128.0 272.6L128.6 273.4L129.3 274.0L130.3 273.5L131.3 273.2L132.0 274.1L132.8 274.7L134.1 274.3L135.2 274.3L136.3 275.0L137.6 274.9L138.7 274.6L139.6 274.7L140.5 275.1L141.5 275.4L142.4 275.8L143.4 276.1L144.5 276.1L145.5 276.3L146.5 276.2L147.7 275.6L148.8 275.3L149.8 275.6L150.8 275.8L151.8 275.9L152.7 276.1L153.7 276.5L154.6 276.9L155.6 277.0L156.7 276.6L157.7 277.0L158.6 277.7L159.7 277.4L160.8 277.0L161.7 277.7L162.7 278.0L163.8 277.4L164.8 277.6L165.6 278.6L166.5 278.9L167.4 279.0L168.4 279.7L169.3 279.9L170.4 279.5L171.3 279.6L172.2 279.9L173.2 279.4L174.1 278.9L175.0 279.7L175.8 280.6L176.8 280.2L177.8 279.8L178.7 280.8L179.7 281.3L180.7 280.4L181.6 280.1L182.5 280.8L183.4 281.0L184.4 280.4L185.4 280.2L186.3 280.4L187.3 280.0L188.3 279.6L189.2 279.9L190.2 279.9L191.2 279.7L192.2 280.3L193.1 280.9L194.1 280.3L195.0 279.8L195.9 280.1L196.9 280.1L197.8 279.3L198.8 278.9L199.7 279.4L200.7 279.8L201.6 279.8L202.5 279.7L203.5 279.9L204.4 280.1L205.4 280.1L206.3 279.9L207.2 279.7L208.1 280.0L209.1 280.3L210.0 280.0L210.9 279.7L211.9 279.7L212.8 279.8L213.7 279.8L214.6 279.9L215.6 280.1L216.5 280.3L217.4 280.7L218.4 281.1L219.3 280.6L220.3 279.9L221.2 280.2L222.2 280.5L223.1 279.8L224.1 279.4L225.0 280.3L226.0 280.8L227.0 280.1L228.0 279.9L229.0 280.5L230.0 280.1L231.0 279.6L232.0 280.0L233.0 279.9L234.0 279.4L234.9 279.8L235.9 279.8L236.7 278.9L237.6 278.6L238.4 279.3L239.1 279.6L239.8 279.0L241.1 278.8L241.9 279.9L242.9 279.5L244.1 278.7L244.9 278.8L245.6 279.3L246.5 279.1L247.4 278.9L248.2 279.1L249.0 279.7L249.8 280.1L250.5 280.5L251.1 281.1L252.0 281.6L253.4 281.9L253.9 282.5L254.4 283.2L255.2 283.6L256.3 283.9L256.8 284.8L257.3 285.8L258.4 286.1L259.5 286.5L260.1 287.4L260.7 288.3L261.3 289.0L262.1 289.5L262.7 290.4L263.0 291.4L263.6 292.2L264.6 292.5L265.5 293.1L265.7 294.0L266.1 294.9L266.8 295.5L267.4 296.2L267.5 297.2L267.9 298.1L268.6 298.8L269.2 299.6L269.7 300.4L270.5 301.1L270.8 302.0L270.9 303.1L271.5 303.8L272.2 304.5L272.3 305.6L272.4 306.7L273.4 307.3L274.0 308.2L273.8 309.4L274.1 310.3L274.7 311.1L274.8 312.0L274.8 313.1L275.1 313.9L275.5 314.7L275.6 315.5L275.6 316.4L276.0 317.4L276.0 318.6L275.9 319.5L276.2 320.3L276.5 321.2L276.4 322.2L276.4 323.3L277.0 324.2L277.2 325.2L276.8 326.3L277.0 327.4L277.3 328.3L277.2 329.4L277.2 330.4L277.5 331.3L277.7 332.2L277.8 333.2L278.0 334.1L278.1 335.0L278.1 335.9L278.2 336.7L278.4 337.6L278.4 338.5L278.4 339.4L278.6 340.3L278.7 341.1L278.6 342.0L278.4 342.9L278.4 343.8L278.6 344.7L278.6 345.6L278.6 346.6L278.6 347.6L278.8 348.6L279.0 349.5L278.8 350.5L278.5 351.5L278.7 352.5L278.9 353.4L278.6 354.4L278.6 355.3L279.0 356.3L279.1 357.2L278.9 358.2L278.9 359.1L279.0 360.1L278.8 361.1L278.9 362.0L279.1 363.0L278.9 364.0L278.8 365.0L279.1 366.0L279.1 367.0L278.7 367.9L278.7 368.9L279.3 369.9L279.3 370.9L279.0 371.9L279.3 372.8L279.7 373.8L279.4 374.8L279.1 375.8L279.3 376.8L279.3 377.7L279.2 378.7L279.5 379.7L279.7 380.6L279.7 381.6L280.0 382.5L280.4 383.5L280.3 384.4L280.2 385.4L280.6 386.3L281.0 387.3L280.9 388.3L281.0 389.2L281.5 390.1L281.8 391.1L281.8 392.1L282.0 393.1L282.5 394.1L283.0 395.0L283.4 396.0L283.7 397.0L284.1 398.0L284.5 398.9L284.7 399.8L284.8 400.8L285.0 401.7L285.4 402.5L285.9 403.5L286.3 404.4L286.7 405.3L287.2 406.1L287.6 407.0L288.0 407.8L288.3 408.6L288.4 409.5L288.9 410.3L289.4 411.0L289.7 411.9L289.7 413.0L290.1 413.9L290.7 414.8L290.8 415.7L290.7 416.6L291.3 417.3L292.0 418.0L292.3 419.0L292.6 419.8L293.2 420.5L293.4 421.4L293.3 422.4L293.6 423.2L293.9 424.1L293.7 425.1L294.2 425.9L295.3 426.3L295.6 427.1L295.5 428.0L296.5 428.4L297.5 428.8L297.4 429.9L297.5 430.9L298.7 431.3L299.3 432.0L299.4 433.1L299.9 433.9L300.8 434.4L301.1 435.3L301.6 436.1L302.5 436.5L303.1 437.2L303.7 437.8L304.8 438.1L305.7 438.4L305.8 439.4L306.0 440.3L306.7 440.8L307.3 441.2L307.5 442.3L307.7 443.2L308.6 443.5L309.6 443.7L310.2 444.1L310.7 444.7L311.2 445.1L311.9 445.4L312.7 445.8L313.2 446.3L313.5 447.0L313.8 447.5L314.4 447.7L315.1 447.7L315.7 448.4L316.0 449.0L316.7 449.4L317.5 449.5L318.3 449.8L319.1 450.1L320.0 450.1L320.8 450.1L321.7 450.2L322.5 450.1L323.2 450.4L323.7 451.3L324.4 451.7L325.3 451.4L326.1 451.7L326.8 452.6L327.7 452.5L328.7 451.4L329.6 451.5L330.4 452.3L331.3 452.1L332.1 451.5L332.9 451.9L333.8 452.5L334.7 452.3L335.6 452.2L336.5 452.7L337.4 452.7L338.4 452.5L339.3 453.2L340.2 453.6L341.1 453.0L342.0 452.5L342.8 453.2L343.7 453.4L344.6 452.6L345.5 452.3L346.4 453.4L347.3 454.2L348.2 453.9L349.2 454.0L350.2 454.7L351.0 454.8L351.9 454.4L352.8 454.2L353.7 454.3L354.6 454.2L355.4 454.3L356.3 454.6L357.2 454.8L358.2 454.6L359.1 454.9L360.1 455.5L361.1 455.4L362.2 455.3L363.0 455.7L363.9 456.3L364.8 456.4L365.7 456.1L366.7 456.0L367.6 456.2L368.6 456.4L369.6 456.3L370.6 456.3L371.6 457.1L372.6 458.0L373.5 457.9L374.5 457.8L375.4 458.4L376.3 458.6L377.2 458.2L378.1 458.1L379.1 458.6L380.1 458.8L381.1 459.0L382.1 459.6L383.0 459.6L384.0 459.4L384.8 460.0L385.7 460.7L386.6 460.4L387.5 460.0L388.3 460.8L389.1 461.7L390.0 461.3L390.9 460.4L391.8 460.7L392.6 461.4L393.4 461.2L394.1 460.6L394.9 460.6L395.7 461.4L396.6 461.9L397.6 461.8L398.7 462.1L400.0 462.2L400.7 461.7L401.5 461.8L402.3 462.3L403.1 462.2L404.0 461.7L404.9 462.0L405.8 463.0L406.8 462.9L407.8 462.2L408.8 462.8L409.8 463.4L410.8 463.1L411.8 463.0L412.8 463.8L413.9 464.0L414.9 463.9L415.9 463.8L417.0 463.8L418.0 463.9L419.0 464.2L419.9 464.2L420.9 464.3L421.9 464.8L422.9 465.1L423.9 464.8L424.9 464.5L425.9 464.5L426.9 464.6L427.9 464.5L429.0 464.4L430.0 464.4L431.0 464.9L432.0 464.8L433.0 464.1L433.9 464.0L434.9 464.6L435.8 464.5L436.7 463.9L437.6 464.0L438.4 464.7L439.2 464.7L440.0 464.1L441.2 463.9L442.3 464.2L443.3 463.9L444.2 464.0L445.1 464.5L446.0 464.4L446.9 464.2L447.7 464.6L448.6 465.1L449.4 464.6L450.2 463.7L451.2 464.1L452.1 465.1L453.0 464.7L453.9 464.0L454.9 464.6L455.9 465.4L456.8 464.7L457.7 464.0L458.7 464.4L459.7 464.5L460.7 464.1L461.6 464.2L462.6 464.5L463.6 464.3L464.5 464.1L465.5 464.4L466.5 464.1L467.4 463.3L468.5 463.6L469.7 464.1L470.7 463.5L471.7 463.1L472.8 463.6L473.8 463.5L474.7 462.7L475.7 462.4L476.7 462.5L477.7 462.5L478.8 462.3L479.8 462.0L480.9 461.8L482.0 461.6L483.0 461.1L483.8 460.2L484.9 459.8L486.1 459.6L487.2 459.2L488.2 458.6L489.3 458.1L490.2 457.6L491.1 456.9L492.0 456.2L492.7 455.2L493.4 454.2L494.6 453.8L495.6 453.1L495.8 451.7L496.5 450.8L497.8 450.3L498.1 449.1L497.9 447.8L498.8 447.1L499.9 446.5L500.1 445.4L500.2 444.3L500.9 443.5L501.2 442.4L501.0 441.2L501.3 440.3L501.6 439.4L501.5 438.3L501.9 437.5L502.8 436.8L503.0 435.8L502.9 434.7L503.4 433.9L504.0 433.1L503.9 432.1L503.7 431.0L504.1 430.2L504.7 429.4L504.8 428.5L504.7 427.5L505.1 426.6L505.4 425.7L505.4 424.7L505.6 423.8L505.9 423.0L506.1 422.0L506.4 421.1L506.8 420.2L506.9 419.2L506.8 418.1L506.9 417.1L507.2 416.0L507.0 414.8L507.1 413.9L507.4 413.1L507.8 412.2L507.9 411.3L507.9 410.3L508.0 409.3L508.2 408.4L508.3 407.4L508.1 406.3L508.1 405.3L508.3 404.3L508.4 403.3L508.1 402.2L508.1 401.1L508.3 400.1L508.2 399.0L508.2 398.1L508.3 397.2L508.4 396.3L508.4 395.4L508.4 394.4L508.3 393.5L507.8 392.5L507.7 391.5L507.9 390.6L507.6 389.6L507.3 388.6L507.7 387.7L508.1 386.7L507.7 385.7L507.5 384.8L507.8 383.8L507.9 382.9L507.5 381.9L507.4 381.0L507.7 380.0L507.6 379.1L507.4 378.1L507.6 377.2L507.6 376.2L507.4 375.3L507.6 374.3L508.0 373.4L507.8 372.4L507.7 371.5L508.1 370.6L508.2 369.6L507.8 368.7L507.4 367.8L507.6 366.8L507.7 365.9L507.4 364.9L507.4 364.0L507.7 363.0L507.7 362.1L507.7 361.1L507.6 360.2L507.5 359.3L507.3 358.3L507.3 357.4L507.2 356.4L506.9 355.5L506.8 354.6L506.9 353.6L506.8 352.7L506.5 351.7L506.4 350.8L506.5 349.8L506.6 348.9L506.6 347.9L506.5 347.0L506.4 346.0L506.5 345.1L506.4 344.1L505.9 343.1L505.7 342.2L505.9 341.2L505.9 340.2L505.7 339.2L505.9 338.2L506.2 337.2L506.0 336.2L505.9 335.3L505.9 334.4L505.8 333.4L505.6 332.6L505.7 331.7L505.7 330.8L505.5 330.0L505.3 328.9L505.6 327.9L505.4 326.9L505.0 326.0L505.1 325.1L505.5 324.1L505.5 323.3L505.0 322.5L505.0 321.6L505.3 320.7L505.1 319.8L504.5 318.9L504.4 318.0L504.5 317.1L504.3 316.2L504.2 315.3L504.4 314.4L504.5 313.5L504.3 312.6L504.4 311.7L504.5 310.8L504.3 309.9L503.9 308.9L504.0 308.0L504.2 307.0L503.8 306.0L503.6 305.0L503.8 304.1L503.8 303.2L503.6 302.4L503.4 301.5L503.5 300.5L503.7 299.6L503.7 298.7L503.7 297.7L503.5 296.8L503.4 295.8L503.4 294.9L503.2 293.9L502.9 292.9L502.8 292.0L503.0 291.0L503.0 290.0L503.0 288.9L503.0 288.0L503.0 287.1L503.0 286.2L502.9 285.3L502.6 284.4L502.4 283.4L502.6 282.5L502.7 281.5L502.3 280.6L502.1 279.6L502.4 278.6L502.4 277.6L502.0 276.7L502.1 275.7L502.4 274.7L502.4 273.8L502.2 272.8L502.2 271.9L502.2 270.9L501.8 270.0L501.8 269.0L501.8 268.1L501.6 267.1L501.5 266.2L501.9 265.2L502.0 264.3L501.5 263.3L501.5 262.4L501.8 261.4L501.5 260.5L501.0 259.6L501.1 258.6L501.3 257.7L501.1 256.7L500.8 255.8L500.8 254.8L500.7 253.9L500.5 253.0L500.4 252.0L500.4 251.1L500.2 250.1L500.2 249.2L500.3 248.2L500.0 247.3L499.6 246.3L499.5 245.4L499.6 244.4L499.3 243.5L499.0 242.6L499.1 241.6L499.3 240.7L499.2 239.7L499.0 238.8L498.8 237.8L498.8 236.9L498.8 236.0L498.6 235.0L498.4 234.0L498.4 233.1L498.5 232.1L498.3 231.1L498.0 230.1L498.0 229.1L497.9 228.2L497.7 227.2L497.7 226.2L497.7 225.2L497.5 224.2L497.5 223.3L497.4 222.3L496.9 221.3L496.7 220.4L496.9 219.4L496.7 218.4L496.3 217.5L496.3 216.5L496.6 215.5L496.3 214.6L495.8 213.6L495.8 212.7L495.9 211.7L495.5 210.8L495.3 209.9L495.4 208.9L495.3 208.0L495.1 207.0L495.1 206.1L495.0 205.1L494.6 204.1L494.6 203.2L494.9 202.2L494.7 201.2L494.4 200.2L494.8 199.2L495.1 198.3L494.7 197.2L494.6 196.2L495.0 195.2L495.1 194.1L495.0 193.1L495.4 192.0L495.6 191.0L495.6 189.9L495.8 188.9L495.8 187.9L495.8 186.9L496.2 185.9L496.4 185.0L496.5 184.0L496.6 183.1L496.9 182.3L497.1 181.5L497.0 180.2L497.0 179.1L497.4 178.0L497.6 177.0L497.7 176.0L497.8 175.1L498.1 174.2L498.5 173.3L498.5 172.5L498.3 171.6L498.4 170.8L498.9 170.0L499.2 169.0L499.1 168.0L499.3 167.1L499.8 166.2L499.8 165.4L499.7 164.4L499.9 163.6L500.2 162.8L500.4 162.0L500.8 161.1L501.7 160.4L502.0 159.5L502.0 158.4L502.8 157.8L503.6 157.1L503.3 155.9L503.1 154.8L504.3 154.4L505.4 154.0L505.4 153.1L505.6 152.2L506.7 151.9L507.8 151.5L507.9 150.5L508.2 149.6L509.1 149.2L509.8 148.7L510.2 147.9L510.9 147.3L511.8 146.9L512.1 146.0L512.2 145.0L513.1 144.5L513.9 143.9L514.0 142.8L514.3 141.9L515.7 141.7L516.8 141.3L516.8 140.3L517.2 139.5L518.2 139.1L518.7 138.3L518.8 137.0L519.3 136.4L520.1 135.9L520.9 135.3L521.6 134.8L522.4 134.2L523.1 133.5L524.0 133.1L524.9 132.6L525.4 131.8L526.1 131.2L527.0 131.1L527.8 130.8L528.4 130.2L529.1 129.6L529.8 129.2L530.7 129.0L531.6 128.9L532.4 128.5L533.2 128.3L534.3 128.8L535.4 129.3L536.3 128.8L537.0 128.0L538.0 128.2L539.0 128.3L539.7 127.4L540.4 126.7L541.5 127.1L542.4 127.3L543.3 126.9L544.2 126.9L545.1 127.1L546.0 126.8L546.8 126.4L547.7 126.7L548.6 126.6L549.4 125.8L550.3 125.7L551.4 126.3L552.4 125.4L553.4 124.1L554.3 124.6L555.2 125.0L556.0 124.2L556.8 123.7L557.9 124.5L558.9 125.0L559.8 124.4L560.7 124.0L561.7 124.0L562.6 123.4L563.5 122.8L564.5 122.9L565.5 122.6L566.4 122.3L567.4 122.8L568.4 123.2L569.3 122.5L570.3 122.3L571.4 122.9L572.4 122.7L573.3 122.0L574.3 122.0L575.3 122.3L576.2 121.9L577.1 121.2L577.9 120.9L578.7 120.8L579.5 120.8L580.8 120.8L582.0 120.6L583.0 120.6L583.9 120.7L584.7 120.7L585.3 120.3L585.9 119.6L586.7 119.0L587.4 118.7L587.9 118.4L588.3 118.1L589.0 117.8L590.3 117.7L590.9 117.7L591.6 117.8L592.4 118.1L593.2 118.2L594.0 117.6L594.9 117.5L595.9 118.2L596.9 118.1L597.9 117.2L598.9 117.4L600.0 118.0L601.0 117.1L602.0 116.5L603.1 117.2L604.1 117.3L605.1 117.1L606.2 117.7L607.2 118.1L608.2 117.7L609.4 117.9L610.5 117.6L611.5 116.4L612.7 116.9L613.9 117.2L614.9 116.3L616.0 116.9L617.1 117.8L618.0 117.0L618.9 116.4L619.8 116.9L620.6 117.3L621.2 117.1L621.7 116.7" stroke="#77AC30"/>
<path d="M100.1 251.8L100.0 250.6L100.6 249.2L100.9 248.1L100.9 246.7L101.2 245.3L101.5 244.1L101.6 242.4L101.6 241.1L102.2 240.3L102.1 238.9L102.1 237.6L102.3 236.3L102.9 235.0L103.2 233.5L104.3 232.8L106.2 232.6L107.2 234.7L106.7 235.5L106.7 237.3L105.9 238.6L105.3 239.5L105.2 240.9L104.1 242.6L103.7 243.8L103.2 245.1L102.1 246.1L101.9 247.7L100.8 249.2L100.7 250.3L100.0 252.3L99.3 253.7L98.9 255.1L99.8 256.4L100.8 257.4L102.2 258.7L104.1 258.5L104.6 258.7L105.2 259.2L105.8 259.9L106.3 260.9L106.9 261.8L108.3 261.6L109.4 261.7L109.9 262.7L110.8 262.8L112.0 262.1L112.8 262.2L113.4 263.0L114.1 263.5L115.0 263.7L116.0 263.9L117.1 264.1L117.8 264.6L118.6 264.9L119.7 264.1L120.8 263.7L121.7 264.4L122.8 264.2L123.9 263.9L124.9 264.5L125.9 264.7L127.0 264.9L128.0 265.2L129.0 265.0L130.1 265.1L131.0 265.6L132.1 265.5L133.0 265.8L133.7 266.4L134.7 266.5L135.5 266.7L136.2 267.6L137.3 267.5L138.4 267.2L139.3 268.1L140.1 268.3L141.0 268.0L141.9 268.2L142.8 268.8L143.6 269.3L144.6 269.9L145.6 269.6L146.6 269.8L147.5 270.9L148.6 270.6L149.8 270.0L150.6 271.0L151.6 271.7L152.6 271.6L153.6 271.9L154.5 272.5L155.4 273.2L156.3 273.5L157.5 272.9L158.4 273.4L159.3 274.4L160.4 273.9L161.5 273.9L162.3 274.8L163.3 275.0L164.3 275.2L165.2 275.5L166.2 275.6L167.0 276.0L167.9 276.5L169.0 276.3L169.9 276.5L170.8 277.1L171.7 277.0L172.6 277.0L173.4 277.5L174.3 277.6L175.2 277.3L176.1 277.8L176.9 278.6L177.9 278.5L178.9 278.8L179.9 279.6L180.7 279.8L181.6 280.0L182.5 279.9L183.5 279.5L184.4 279.6L185.4 280.2L186.3 279.7L187.3 279.1L188.3 280.1L189.2 280.9L190.2 280.5L191.2 280.5L192.2 280.7L193.1 280.7L194.1 280.4L195.0 279.5L195.9 278.8L196.9 279.4L197.8 279.7L198.8 278.8L199.7 278.9L200.7 279.9L201.6 280.0L202.5 279.5L203.5 279.4L204.4 279.2L205.3 279.1L206.3 279.1L207.2 278.6L208.1 278.4L209.1 279.3L210.0 279.6L210.9 279.4L211.9 280.0L212.8 280.4L213.7 280.1L214.6 280.3L215.6 280.6L216.5 280.2L217.4 280.2L218.4 280.7L219.3 280.7L220.3 280.7L221.2 280.9L222.1 280.7L223.1 280.9L224.0 281.3L225.0 280.7L226.0 280.2L227.0 280.9L228.0 281.0L229.0 280.1L230.0 280.2L231.0 280.5L232.0 280.4L233.0 280.0L234.0 279.6L234.9 279.8L235.9 280.6L236.8 280.2L237.6 279.6L238.4 280.2L239.0 281.2L239.7 281.2L240.8 280.6L241.7 281.2L242.5 281.5L243.2 281.9L243.9 282.0L244.6 282.0L245.1 282.5L245.4 283.5L245.9 283.9L246.8 283.7L246.9 284.1L246.8 284.8L247.3 285.2L248.3 285.6L249.1 286.6L249.8 287.0L250.5 287.4L251.0 288.2L251.7 288.8L252.7 289.1L253.4 289.9L254.4 290.4L255.3 290.8L255.9 291.6L257.0 291.9L257.8 292.4L257.9 293.4L258.5 294.1L259.8 294.2L260.3 295.0L260.7 295.8L261.6 296.2L262.5 296.6L263.3 297.0L263.9 297.7L264.0 298.6L264.2 299.6L265.2 300.0L265.7 300.8L265.3 302.2L265.9 302.8L267.2 303.1L267.8 303.8L268.1 304.6L268.8 305.3L269.4 305.9L270.0 306.7L270.3 307.6L270.2 308.7L270.7 309.6L271.4 310.3L271.5 311.2L271.8 312.1L272.6 312.8L273.2 313.6L273.5 314.4L273.8 315.1L274.2 315.9L274.4 316.8L274.7 317.7L275.0 318.9L275.1 319.7L275.5 320.5L276.0 321.3L276.3 322.3L276.8 323.2L277.4 324.1L277.6 325.1L278.1 326.0L278.7 327.0L278.7 328.0L279.0 328.9L279.5 329.8L279.8 330.7L280.1 331.6L280.4 332.5L280.7 333.3L281.2 334.1L281.8 334.9L281.8 335.9L281.9 336.8L282.6 337.7L283.0 338.7L282.9 339.8L283.0 340.7L283.3 341.6L283.4 342.6L283.5 343.6L283.3 344.6L283.3 345.6L283.7 346.6L283.8 347.6L283.4 348.6L283.7 349.6L284.0 350.6L283.8 351.5L283.6 352.5L283.6 353.5L283.5 354.5L283.5 355.5L283.4 356.4L283.2 357.4L283.4 358.4L283.5 359.3L283.3 360.3L283.3 361.2L283.4 362.2L283.2 363.1L283.1 364.1L283.3 365.0L283.1 366.0L283.1 366.9L283.4 367.9L283.5 368.8L283.4 369.8L283.5 370.7L283.5 371.7L283.5 372.7L283.7 373.6L283.4 374.6L283.3 375.6L283.8 376.5L283.9 377.4L283.6 378.4L283.8 379.3L284.1 380.2L284.0 381.2L283.9 382.2L283.7 383.1L283.8 384.1L284.1 385.0L284.1 385.9L283.9 386.9L284.3 387.8L284.8 388.7L284.6 389.7L284.5 390.7L284.7 391.7L284.8 392.7L284.8 393.8L284.8 394.8L284.9 395.8L285.4 396.7L285.7 397.7L285.7 398.7L286.1 399.6L286.4 400.5L286.3 401.5L286.4 402.3L286.6 403.3L286.6 404.3L286.9 405.2L287.3 406.1L287.4 407.0L287.7 407.9L288.1 408.7L288.3 409.5L288.6 410.4L288.9 411.2L289.0 412.0L289.0 413.1L289.5 414.0L289.7 415.0L289.5 415.9L289.7 416.8L290.3 417.5L290.6 418.4L290.7 419.4L291.0 420.2L291.4 421.0L292.0 421.8L292.4 422.6L292.2 423.7L292.6 424.5L293.6 425.1L293.5 426.1L293.2 427.2L294.0 427.9L294.6 428.5L294.9 429.3L295.3 430.1L295.8 430.9L296.7 431.5L297.7 432.0L297.7 433.1L297.9 434.1L298.9 434.6L299.2 435.5L299.1 436.7L299.7 437.4L300.5 438.0L301.0 438.8L301.9 439.3L302.7 439.8L303.1 440.5L303.8 441.0L304.6 441.5L304.8 442.4L305.1 443.2L305.8 443.8L306.2 444.7L306.6 445.4L307.7 445.6L308.4 446.0L308.7 446.8L309.4 447.2L310.4 447.1L311.1 447.6L311.4 448.6L311.8 449.2L312.4 449.6L313.0 450.0L313.7 450.3L314.4 450.9L314.8 451.6L315.6 451.7L316.8 451.2L317.5 451.8L318.0 453.0L318.9 453.0L320.0 452.8L320.6 453.6L321.4 454.2L322.2 454.4L323.1 454.3L324.0 454.0L324.8 454.1L325.6 454.8L326.5 454.7L327.5 454.0L328.3 454.6L329.1 455.5L330.1 455.1L331.0 454.9L331.8 455.1L332.7 455.0L333.6 454.7L334.6 454.7L335.5 454.3L336.4 454.2L337.4 454.8L338.3 454.8L339.2 454.7L340.1 455.2L341.0 455.4L341.9 455.1L342.8 455.4L343.6 455.6L344.5 455.1L345.4 455.0L346.3 455.6L347.2 455.9L348.2 455.7L349.1 456.0L350.1 456.4L350.9 456.7L351.8 457.2L352.6 457.1L353.5 456.6L354.4 457.0L355.2 457.9L356.2 457.5L357.1 456.7L358.1 457.1L359.0 457.6L360.0 457.2L361.1 456.9L362.1 456.7L362.9 457.1L363.8 457.6L364.7 457.1L365.7 456.5L366.6 457.2L367.6 457.5L368.6 456.5L369.6 456.1L370.6 456.4L371.6 456.2L372.6 456.2L373.6 456.3L374.6 456.5L375.5 457.4L376.4 457.8L377.3 457.4L378.1 457.6L379.1 458.1L380.2 457.6L381.2 457.4L382.2 457.8L383.1 457.6L384.0 457.8L384.9 458.6L385.8 458.9L386.7 458.8L387.5 459.2L388.3 459.4L389.2 459.2L390.0 459.1L391.0 458.7L391.8 457.9L392.5 457.8L393.3 458.3L394.0 458.3L394.8 457.6L395.6 457.3L396.6 458.1L397.6 458.3L398.8 457.6L400.1 457.3L400.8 457.2L401.6 457.3L402.5 457.3L403.3 456.7L404.3 456.2L405.1 457.1L406.1 457.7L407.1 457.0L408.1 456.9L409.0 457.8L410.0 457.8L411.1 457.5L412.1 457.6L413.1 457.8L414.1 458.5L415.1 458.4L416.2 458.0L417.1 458.8L418.1 459.1L419.1 458.4L420.1 458.6L421.0 458.8L422.0 458.5L423.0 458.8L424.0 459.0L425.0 458.7L426.0 458.9L427.0 458.9L428.0 458.5L429.0 458.5L430.0 458.1L431.0 457.8L432.0 458.3L433.0 458.0L433.9 457.4L434.9 458.0L435.8 458.5L436.7 457.9L437.6 457.6L438.4 457.8L439.2 458.0L440.0 458.0L441.2 457.9L442.3 457.4L443.3 457.9L444.3 458.6L445.2 457.8L446.0 457.2L446.8 457.9L447.6 458.5L448.4 458.1L449.2 457.7L450.1 457.8L451.0 458.1L451.9 458.4L452.8 458.5L453.7 457.8L454.6 457.5L455.5 458.1L456.4 457.9L457.3 456.8L458.3 457.0L459.2 457.5L460.1 457.3L461.1 457.3L462.0 457.6L462.9 457.4L463.8 457.4L464.6 457.3L465.6 456.5L466.5 456.0L467.5 456.0L468.4 455.4L469.4 455.5L470.4 455.8L471.3 455.4L472.3 455.6L473.3 456.1L474.1 455.2L474.8 454.4L475.6 454.3L476.6 453.8L477.4 453.1L478.2 452.7L479.1 452.3L480.1 452.8L481.0 453.0L481.4 452.0L482.2 451.8L483.3 452.2L483.7 451.3L483.8 450.1L484.6 449.8L485.4 449.6L486.1 449.1L486.7 448.6L487.2 447.9L488.4 447.8L489.5 447.6L489.5 446.4L490.1 445.8L491.3 445.6L491.5 444.8L491.5 443.9L492.1 443.3L492.6 442.6L493.1 441.8L493.6 441.1L493.6 440.1L494.0 439.2L494.8 438.5L494.9 437.6L495.1 436.6L495.8 435.9L496.0 435.1L496.1 434.1L496.6 433.4L496.8 432.5L496.7 431.5L497.0 430.7L497.4 430.0L497.5 429.1L497.7 428.3L498.0 427.4L498.3 426.6L498.7 425.7L499.1 424.9L499.0 423.9L499.2 422.9L499.7 422.2L499.9 421.3L499.7 420.3L500.0 419.4L500.5 418.7L500.8 417.8L500.9 416.8L501.0 415.9L501.3 414.9L501.7 413.9L501.5 413.1L501.3 412.2L501.8 411.3L502.2 410.5L502.0 409.6L502.0 408.6L502.4 407.7L502.5 406.8L502.6 405.8L502.5 404.8L502.4 403.8L502.7 402.8L502.8 401.8L502.7 400.8L503.1 399.8L503.3 398.8L503.2 398.0L503.3 397.1L503.4 396.2L503.2 395.3L503.2 394.4L503.3 393.5L503.2 392.5L503.3 391.6L503.5 390.6L503.6 389.7L503.8 388.7L504.0 387.7L503.8 386.8L503.8 385.8L504.0 384.8L503.6 383.9L503.3 382.9L503.6 382.0L503.8 381.0L503.7 380.0L503.8 379.1L504.0 378.1L504.2 377.2L504.4 376.2L504.1 375.3L503.8 374.3L504.2 373.4L504.3 372.4L503.9 371.5L503.9 370.6L504.3 369.6L504.5 368.7L504.5 367.8L504.5 366.9L504.6 365.9L504.8 365.0L505.0 364.1L504.7 363.1L504.6 362.2L505.0 361.2L505.0 360.3L504.7 359.4L504.9 358.4L505.1 357.5L505.0 356.5L505.1 355.6L505.2 354.6L505.1 353.7L505.2 352.7L505.3 351.8L505.1 350.9L505.2 349.9L505.1 349.0L504.9 348.0L504.9 347.1L505.0 346.1L504.8 345.2L504.8 344.2L505.2 343.2L505.2 342.2L505.0 341.2L505.1 340.2L505.1 339.2L505.1 338.2L505.0 337.3L504.7 336.3L504.9 335.4L505.2 334.4L505.0 333.5L504.9 332.6L505.2 331.7L505.6 330.8L505.4 330.0L505.2 328.9L505.2 327.9L505.1 326.9L505.2 326.0L504.9 325.1L504.6 324.2L504.8 323.3L505.1 322.4L504.9 321.6L504.5 320.8L504.6 319.9L504.7 318.9L504.4 318.0L504.2 317.1L504.1 316.2L503.9 315.4L503.9 314.5L503.9 313.6L503.7 312.7L503.6 311.8L503.8 310.8L503.6 309.9L503.3 309.0L503.4 308.0L503.2 307.0L503.0 306.1L503.3 305.0L503.4 304.1L503.2 303.3L503.3 302.4L503.5 301.5L503.4 300.6L503.3 299.6L503.2 298.7L502.9 297.8L503.0 296.8L503.2 295.9L502.8 294.9L502.7 293.9L503.1 292.9L503.1 291.9L502.7 291.0L502.6 290.0L502.6 289.0L502.5 288.1L502.2 287.2L501.8 286.3L501.7 285.4L501.9 284.4L501.8 283.5L501.3 282.6L501.5 281.6L501.7 280.6L501.4 279.7L501.2 278.7L501.2 277.7L501.1 276.8L501.1 275.8L501.0 274.8L500.7 273.9L500.9 272.9L501.0 272.0L500.8 271.0L500.8 270.1L501.0 269.1L500.9 268.1L500.9 267.2L501.1 266.2L500.9 265.3L500.7 264.4L500.8 263.4L500.7 262.5L500.5 261.5L500.4 260.6L500.3 259.6L500.3 258.7L500.5 257.7L500.3 256.8L500.0 255.8L500.3 254.9L500.3 253.9L499.8 253.0L499.5 252.1L499.5 251.1L499.4 250.2L499.2 249.2L499.1 248.3L499.1 247.3L499.4 246.4L499.6 245.4L499.2 244.5L499.2 243.5L499.5 242.5L499.3 241.6L498.8 240.7L498.8 239.7L498.9 238.8L499.0 237.8L499.0 236.9L499.0 235.9L499.0 235.0L499.3 234.0L499.2 233.0L498.8 232.0L498.9 231.0L498.9 230.1L498.5 229.1L498.5 228.1L498.5 227.1L498.4 226.1L498.5 225.2L498.5 224.2L498.2 223.2L498.2 222.2L498.1 221.3L497.8 220.3L497.9 219.3L497.7 218.4L497.5 217.4L497.7 216.4L497.8 215.5L497.4 214.5L497.3 213.6L497.5 212.6L497.4 211.7L497.1 210.8L497.0 209.8L497.0 208.9L497.2 207.9L497.3 207.0L497.0 206.0L497.0 205.1L497.4 204.1L497.2 203.1L496.7 202.2L496.8 201.2L497.0 200.2L496.9 199.2L496.9 198.3L496.8 197.3L497.1 196.2L497.3 195.2L497.0 194.2L496.9 193.1L497.3 192.1L497.1 191.0L496.9 190.0L497.1 188.9L497.1 187.9L497.1 186.9L497.2 185.9L497.1 185.0L497.1 184.1L497.3 183.2L497.2 182.3L497.2 181.5L497.4 180.3L497.2 179.1L497.3 178.0L497.4 177.0L497.0 175.9L496.9 175.0L497.3 174.1L497.2 173.2L497.1 172.3L497.2 171.5L497.5 170.7L497.7 169.8L498.0 168.8L497.8 167.7L497.5 166.7L498.0 165.9L498.3 165.0L497.7 163.9L497.5 162.9L498.2 162.2L498.9 161.5L499.1 160.5L499.5 159.5L500.0 158.7L500.7 157.9L501.3 157.0L501.0 155.8L500.7 154.6L501.4 153.9L502.1 153.2L501.8 151.9L502.0 151.0L503.1 150.6L503.9 150.0L504.3 149.2L504.8 148.4L505.2 147.6L505.4 146.7L505.9 145.9L506.2 145.0L506.0 143.8L506.3 142.9L507.1 142.3L507.4 141.4L507.8 140.5L508.7 140.0L509.2 139.3L509.3 138.4L510.1 137.8L510.7 137.0L510.8 135.8L511.3 134.8L512.3 134.0L513.1 133.0L514.0 132.2L514.7 131.5L515.3 130.7L516.5 130.5L517.5 130.0L517.7 128.6L518.8 128.2L520.2 128.3L520.8 127.3L521.5 126.4L522.6 126.1L523.7 125.7L524.6 125.3L525.5 124.4L526.4 123.3L527.7 123.5L528.9 123.5L529.6 122.4L530.5 121.9L531.7 122.5L532.6 122.5L533.4 121.8L534.2 121.5L535.1 121.3L536.1 121.1L537.1 121.1L538.0 120.5L538.8 120.0L539.9 120.5L541.0 120.8L541.8 120.2L542.8 120.3L543.8 120.7L544.8 120.4L545.7 120.3L546.7 120.7L547.6 120.5L548.6 120.3L549.6 120.8L550.6 121.0L551.7 120.8L552.9 121.0L553.7 120.7L554.5 120.7L555.4 121.0L556.3 120.6L557.1 119.9L558.2 120.4L559.3 121.0L560.2 120.3L561.1 120.1L562.2 120.5L563.2 120.3L564.1 119.8L565.0 119.1L565.9 118.7L566.9 119.2L567.9 119.3L568.8 118.4L569.9 118.9L571.0 120.0L572.0 119.5L573.0 119.0L574.0 119.1L574.9 118.9L575.8 118.7L576.7 118.2L577.4 117.8L578.3 118.0L579.1 118.7L580.4 118.6L581.4 118.3L582.5 118.9L583.4 118.9L584.0 118.3L584.6 117.9L585.3 117.7L586.1 117.2L586.6 116.6L587.1 116.3L587.8 116.3L588.7 116.0L590.1 115.9L590.7 116.2L591.5 116.3L592.2 116.1L593.1 116.2L594.0 116.3L594.9 115.7L595.8 115.4L596.8 115.9L597.8 115.3L598.8 114.8L599.9 115.4L600.9 115.6L602.0 115.4L603.0 115.5L604.1 115.6L605.1 116.2L606.1 116.2L607.0 115.3L608.1 115.9L609.3 116.6L610.3 115.5L611.5 115.5L612.6 116.0L613.8 115.8L614.8 115.5L615.9 115.3L617.0 116.0L618.0 116.1L618.8 115.2L619.7 115.0L620.4 115.5L621.1 115.5L621.6 115.0" stroke="#4DBEEE"/>
<path d="M100.3 251.8L99.8 253.4L99.6 254.7L99.0 255.7L100.5 257.0L102.3 257.4L104.9 257.1L105.3 257.5L105.8 258.2L106.6 258.4L107.3 259.2L107.8 260.3L108.9 260.3L109.8 260.9L110.6 261.2L111.7 260.8L112.5 260.9L113.1 261.4L113.8 261.6L114.6 261.8L115.3 262.5L116.1 263.3L117.2 263.7L117.9 263.8L118.7 264.3L119.7 264.2L120.8 263.6L121.7 264.2L122.7 264.5L123.8 264.3L124.7 265.9L125.7 266.0L126.8 266.0L127.5 267.3L128.6 266.6L129.8 266.3L130.5 267.4L131.6 266.9L132.6 266.9L133.1 268.3L133.9 268.5L134.9 268.7L135.5 269.9L136.5 270.0L137.6 270.0L138.7 270.2L139.7 269.9L140.6 270.1L141.5 270.3L142.4 270.4L143.3 271.3L144.2 271.6L145.2 271.8L146.2 272.5L147.3 272.0L148.4 271.9L149.4 272.2L150.5 271.6L151.5 272.2L152.4 272.8L153.4 272.8L154.3 273.4L155.2 273.9L156.3 273.7L157.4 273.5L158.4 273.7L159.5 273.4L160.6 273.3L161.4 274.1L162.5 274.2L163.5 274.2L164.2 275.5L165.3 275.1L166.3 274.7L167.1 275.6L168.1 275.0L169.3 274.3L170.1 275.5L171.0 275.2L172.0 274.9L172.7 276.2L173.6 276.5L174.5 275.9L175.3 276.6L176.2 276.8L177.2 276.0L178.1 276.2L179.1 276.3L180.1 276.1L180.9 276.6L181.8 276.7L182.6 276.8L183.5 277.4L184.5 277.3L185.4 277.0L186.4 277.3L187.3 276.8L188.3 276.3L189.2 276.8L190.2 276.4L191.2 276.4L192.1 277.1L193.1 276.9L194.1 276.6L195.0 276.9L195.9 276.6L196.9 276.1L197.8 276.0L198.7 276.0L199.7 275.7L200.6 275.5L201.5 276.0L202.5 276.0L203.4 275.5L204.3 276.0L205.3 276.0L206.2 275.0L207.2 275.3L208.1 275.7L209.1 274.6L210.0 275.0L210.9 275.9L211.9 275.1L212.8 275.5L213.8 276.4L214.7 275.6L215.7 275.7L216.6 276.4L217.5 275.7L218.5 275.8L219.4 276.4L220.3 276.1L221.3 276.4L222.2 276.9L223.1 276.7L224.1 277.0L225.0 277.0L225.9 276.6L226.9 277.0L227.9 276.7L228.9 276.3L229.9 276.9L230.9 276.4L231.9 276.3L232.9 276.9L233.9 276.2L234.9 276.0L235.8 276.3L236.7 275.8L237.6 275.5L238.5 275.6L239.3 275.7L240.2 275.5L241.5 275.5L242.6 276.1L243.7 276.0L244.8 275.9L245.5 276.7L246.4 277.0L247.5 276.6L248.2 277.1L248.6 278.1L249.9 278.1L251.0 278.3L251.2 279.7L251.6 280.5L253.0 280.6L253.0 282.4L253.6 282.8L254.8 282.8L255.0 283.9L255.4 284.9L256.6 285.0L256.9 286.2L257.6 287.0L258.5 287.5L258.9 288.6L259.7 289.2L260.3 289.9L260.8 290.7L261.8 291.2L262.2 292.1L262.9 292.8L264.0 293.1L264.3 294.0L264.8 294.8L265.9 295.1L266.2 296.0L266.4 296.9L267.5 297.2L268.1 298.0L268.4 299.0L269.4 299.5L270.1 300.2L270.4 301.1L271.1 301.9L271.7 302.6L272.0 303.5L272.2 304.5L272.9 305.3L273.3 306.3L273.3 307.4L274.0 308.2L274.4 309.1L274.3 310.2L274.9 311.0L275.3 311.8L275.1 312.9L275.5 313.8L276.0 314.5L275.8 315.5L275.8 316.4L276.5 317.3L276.3 318.6L276.6 319.3L277.2 320.1L277.1 321.0L277.3 322.0L277.7 322.9L277.7 324.0L278.0 325.0L278.3 326.0L278.4 327.0L278.9 327.9L279.1 328.9L279.4 329.8L279.9 330.7L279.9 331.6L280.2 332.5L280.7 333.3L280.6 334.3L280.9 335.1L281.4 336.0L281.5 336.9L281.7 337.9L282.2 338.8L282.2 339.8L282.2 340.8L282.4 341.7L282.5 342.6L282.3 343.6L282.3 344.6L282.4 345.6L282.2 346.6L282.1 347.6L282.4 348.6L282.3 349.6L282.0 350.6L282.3 351.5L282.0 352.5L281.6 353.5L282.0 354.4L281.7 355.4L281.4 356.3L281.8 357.3L281.6 358.3L281.3 359.2L281.7 360.2L281.5 361.2L281.2 362.1L281.4 363.1L281.2 364.0L281.2 365.0L281.4 366.0L281.4 366.9L281.6 367.9L281.8 368.9L281.7 369.8L282.0 370.8L282.0 371.8L281.9 372.7L282.2 373.7L282.2 374.7L282.2 375.6L282.6 376.6L282.7 377.5L282.7 378.5L283.1 379.4L283.1 380.3L283.0 381.3L283.3 382.2L283.4 383.2L283.4 384.1L283.6 385.0L283.9 386.0L283.9 386.9L284.0 387.9L284.4 388.8L284.5 389.8L284.4 390.8L284.9 391.7L284.8 392.7L284.7 393.8L285.4 394.7L285.3 395.7L285.4 396.7L286.1 397.6L286.0 398.7L286.1 399.6L286.7 400.5L286.5 401.4L286.6 402.3L287.2 403.2L287.1 404.2L287.5 405.1L287.9 405.9L288.0 406.8L288.4 407.7L288.7 408.5L288.8 409.4L289.1 410.2L289.4 411.0L289.4 411.9L289.8 413.0L290.1 413.9L290.0 414.9L290.5 415.7L290.9 416.5L290.7 417.5L291.0 418.3L291.5 419.2L291.3 420.1L291.6 421.0L292.2 421.8L292.2 422.7L292.4 423.6L293.0 424.4L293.3 425.2L293.4 426.2L294.0 426.9L294.5 427.6L294.5 428.5L295.0 429.2L296.0 429.7L296.0 430.8L296.6 431.5L297.8 431.9L297.7 433.1L298.4 433.8L299.6 434.1L299.4 435.3L300.0 436.1L301.3 436.3L301.2 437.5L301.8 438.2L302.9 438.4L303.0 439.5L303.4 440.3L304.4 440.6L304.6 441.5L304.9 442.3L305.7 442.6L306.1 443.5L306.7 444.2L307.5 444.6L307.7 445.5L308.3 446.1L309.1 446.4L309.3 447.3L309.6 448.2L310.5 448.4L311.0 449.1L311.2 450.1L311.9 450.3L312.7 450.4L313.0 451.4L313.8 452.0L314.7 451.9L315.2 452.7L315.8 453.5L316.7 453.7L317.5 454.1L318.2 455.0L319.1 455.3L320.1 455.4L320.9 456.0L321.7 456.6L322.6 456.5L323.4 456.8L324.1 458.0L325.0 458.1L326.0 458.0L326.8 459.3L327.7 459.5L328.7 459.0L329.6 460.1L330.5 460.3L331.5 459.5L332.4 460.4L333.3 460.9L334.3 460.3L335.2 461.1L336.1 461.6L337.1 461.0L338.0 461.5L338.9 461.6L339.9 461.1L340.8 461.4L341.7 461.5L342.6 461.3L343.5 461.9L344.4 462.0L345.3 461.8L346.1 462.4L347.0 462.5L348.0 461.8L348.9 462.2L349.9 462.1L350.7 461.4L351.6 461.7L352.4 462.2L353.3 461.7L354.1 461.8L355.0 462.5L355.9 462.2L356.9 461.8L357.8 462.0L358.8 461.8L359.8 461.2L360.9 461.1L361.9 461.4L362.8 461.1L363.7 461.1L364.5 461.8L365.5 461.8L366.5 461.1L367.4 461.8L368.4 461.4L369.5 460.4L370.4 461.3L371.5 461.0L372.5 460.5L373.4 461.8L374.4 461.7L375.3 461.3L376.2 462.2L377.1 462.0L378.0 461.2L379.0 461.7L380.0 461.4L381.0 461.2L382.0 461.9L382.9 461.8L383.8 462.2L384.7 462.7L385.6 462.4L386.5 462.5L387.4 462.7L388.3 462.0L389.1 461.7L390.0 462.2L390.9 461.8L391.8 461.6L392.6 462.4L393.4 462.7L394.2 462.2L394.9 462.3L395.8 462.9L396.6 462.4L397.6 461.7L398.7 461.8L400.0 461.3L400.7 461.2L401.5 461.5L402.3 462.0L403.1 462.0L404.0 462.0L404.9 462.5L405.8 462.6L406.8 461.7L407.8 461.8L408.8 461.9L409.9 460.9L410.9 461.8L411.9 462.3L412.9 461.7L413.9 463.0L415.0 462.9L416.0 462.1L417.0 462.8L418.0 462.0L419.0 461.5L420.0 462.3L420.9 462.0L421.9 462.3L422.9 463.1L423.9 462.9L424.9 463.2L425.9 463.0L427.0 462.4L428.0 462.6L429.0 461.9L430.0 462.1L431.0 462.8L432.0 462.4L433.0 463.1L433.9 463.7L434.9 462.9L435.8 463.0L436.7 463.1L437.6 462.2L438.4 461.8L439.2 462.3L440.0 462.3L441.2 462.1L442.3 462.9L443.3 463.1L444.2 462.8L445.2 462.7L446.0 462.7L446.9 462.0L447.7 461.3L448.5 461.5L449.3 461.8L450.2 461.2L451.1 461.3L452.0 462.4L452.9 462.0L453.8 461.5L454.8 462.3L455.7 461.5L456.6 460.4L457.6 460.9L458.5 460.5L459.4 459.9L460.4 460.8L461.4 460.9L462.3 460.7L463.3 461.4L464.2 461.1L465.0 460.5L466.0 460.5L467.0 459.7L468.0 459.5L469.0 459.6L470.0 459.3L471.2 460.1L472.2 460.1L473.1 459.6L474.2 460.1L475.0 459.3L475.7 458.3L476.7 458.4L477.6 457.7L478.5 457.1L479.7 457.7L480.6 457.3L481.5 456.9L482.6 457.1L483.4 456.4L483.9 455.3L484.7 454.7L485.4 454.0L485.8 453.0L486.5 452.5L487.7 452.5L488.3 451.7L489.1 451.2L490.3 451.1L490.4 449.7L490.9 448.8L491.8 448.4L491.4 446.8L492.4 446.3L493.4 446.0L493.4 445.0L494.4 444.6L495.6 444.1L495.5 443.0L496.1 442.3L496.7 441.5L496.5 440.3L497.1 439.5L497.4 438.7L497.8 437.8L498.6 437.1L499.1 436.3L499.5 435.5L500.3 434.8L500.2 433.8L500.3 432.8L500.8 432.0L500.7 431.0L500.7 430.1L501.3 429.4L501.5 428.5L501.5 427.5L502.2 426.7L502.4 425.8L502.4 424.8L502.7 424.0L502.9 423.1L502.8 422.1L502.9 421.2L503.2 420.3L503.3 419.3L503.5 418.4L503.9 417.5L504.2 416.5L504.1 415.4L504.5 414.4L504.5 413.5L504.2 412.6L504.5 411.7L504.7 410.8L504.5 409.9L504.9 409.0L505.4 408.0L505.1 407.0L505.6 406.1L505.8 405.1L505.5 404.1L505.8 403.1L505.8 402.0L505.7 401.0L506.1 400.0L506.1 398.9L506.3 398.1L506.5 397.2L506.3 396.3L506.4 395.3L506.4 394.4L506.1 393.5L506.2 392.5L506.2 391.6L505.9 390.6L506.2 389.6L506.2 388.7L505.8 387.7L506.1 386.7L505.9 385.8L505.5 384.8L505.6 383.8L505.5 382.9L505.2 381.9L505.3 381.0L505.4 380.0L505.3 379.1L505.3 378.1L505.4 377.2L505.3 376.2L505.1 375.3L505.2 374.3L505.3 373.4L504.9 372.4L505.1 371.5L505.4 370.6L505.1 369.6L505.3 368.7L505.6 367.8L505.2 366.8L505.3 365.9L505.6 365.0L505.2 364.0L505.2 363.1L505.5 362.2L505.3 361.2L505.3 360.3L505.5 359.3L505.3 358.4L505.3 357.5L505.3 356.5L505.0 355.6L505.1 354.6L505.0 353.7L504.8 352.8L505.0 351.8L504.8 350.9L504.5 349.9L504.7 349.0L504.6 348.0L504.2 347.1L504.4 346.1L504.2 345.2L503.8 344.2L504.1 343.2L504.0 342.2L503.7 341.3L503.8 340.3L503.8 339.3L503.5 338.3L503.5 337.3L503.6 336.4L503.4 335.4L503.3 334.5L503.5 333.6L503.4 332.7L503.1 331.8L503.3 331.0L503.5 330.2L503.0 329.1L503.1 328.1L503.2 327.1L502.7 326.2L502.9 325.3L503.1 324.4L502.6 323.6L502.6 322.7L502.8 321.8L502.5 321.0L502.2 320.1L502.4 319.1L502.1 318.2L501.9 317.3L502.0 316.4L501.8 315.6L501.7 314.7L501.8 313.8L501.5 312.9L501.4 312.0L501.5 311.0L501.1 310.1L501.0 309.2L501.2 308.2L500.8 307.2L500.7 306.2L501.0 305.2L500.6 304.3L500.5 303.5L500.8 302.6L500.5 301.7L500.2 300.8L500.4 299.8L500.3 298.9L500.1 298.0L500.2 297.0L500.3 296.0L500.1 295.1L500.1 294.1L500.3 293.1L500.1 292.1L499.8 291.2L500.0 290.2L499.8 289.2L499.5 288.3L499.8 287.4L499.9 286.4L499.5 285.5L499.7 284.6L499.8 283.6L499.3 282.7L499.5 281.7L499.5 280.8L499.0 279.8L499.1 278.9L499.2 277.9L498.9 276.9L499.1 275.9L499.0 275.0L498.9 274.0L499.0 273.1L498.7 272.1L498.6 271.2L498.7 270.2L498.4 269.3L498.4 268.3L498.7 267.4L498.3 266.4L498.5 265.5L498.7 264.5L498.3 263.6L498.4 262.6L498.5 261.6L498.1 260.7L498.1 259.8L498.3 258.8L498.1 257.9L498.1 256.9L498.3 255.9L498.3 255.0L498.1 254.0L498.1 253.1L498.1 252.1L497.8 251.2L497.7 250.2L497.9 249.3L497.6 248.3L497.5 247.4L497.9 246.4L497.7 245.5L497.4 244.5L497.7 243.6L497.4 242.6L497.1 241.7L497.3 240.7L497.1 239.8L496.9 238.9L497.2 237.9L497.1 237.0L496.9 236.1L497.1 235.1L496.9 234.1L496.8 233.2L496.8 232.2L496.5 231.2L496.6 230.2L496.6 229.3L496.3 228.3L496.6 227.3L496.5 226.3L496.3 225.3L496.6 224.3L496.3 223.4L496.0 222.4L496.2 221.4L496.0 220.4L495.7 219.5L496.1 218.5L495.9 217.5L495.7 216.5L496.0 215.5L495.9 214.6L495.6 213.7L495.6 212.7L495.6 211.7L495.4 210.8L495.3 209.9L495.5 208.9L495.4 208.0L495.2 207.0L495.4 206.1L495.4 205.1L495.0 204.1L495.3 203.2L495.2 202.2L494.8 201.2L495.1 200.2L495.2 199.2L494.9 198.3L495.3 197.3L495.2 196.2L495.1 195.2L495.4 194.1L495.2 193.1L495.2 192.0L495.3 191.0L495.2 189.9L495.5 188.9L495.4 187.9L495.5 186.9L495.8 185.9L495.5 184.9L495.7 184.0L495.9 183.1L495.6 182.2L495.6 181.4L496.0 180.2L495.7 179.0L496.1 177.9L496.2 176.9L496.0 175.8L496.4 174.9L496.5 174.0L496.3 173.1L496.4 172.2L496.6 171.4L496.6 170.5L496.5 169.7L496.7 168.6L497.1 167.6L497.0 166.6L497.2 165.7L497.8 164.9L497.8 163.9L497.6 163.0L498.2 162.2L498.7 161.4L498.3 160.2L499.0 159.3L499.7 158.5L499.5 157.3L500.3 156.6L501.2 156.0L501.1 154.8L501.9 154.1L502.7 153.5L502.7 152.4L503.3 151.7L504.1 151.2L504.2 150.2L504.9 149.6L505.7 149.0L506.0 148.1L506.7 147.6L507.6 147.2L507.8 146.2L508.4 145.5L509.4 145.1L509.4 144.0L509.7 143.1L510.9 142.8L511.0 141.8L511.3 140.8L512.6 140.7L513.0 139.8L513.1 138.8L514.3 138.4L514.8 137.6L515.0 136.4L516.0 135.8L516.7 134.9L517.1 134.0L517.9 133.5L518.9 133.1L519.5 132.3L520.3 131.7L521.5 131.5L522.0 130.5L522.7 129.7L523.8 129.6L524.2 128.4L524.9 127.7L526.1 127.9L526.9 127.2L527.8 126.6L529.1 127.2L529.9 126.6L530.7 126.1L531.8 126.5L532.6 125.8L533.3 125.2L534.4 125.4L535.2 124.9L536.1 124.7L537.2 125.1L538.1 124.8L539.1 124.9L540.1 125.2L540.9 124.5L541.8 124.5L542.8 124.7L543.5 123.7L544.4 123.7L545.5 124.2L546.3 123.5L547.2 123.7L548.3 124.6L549.1 124.0L550.0 123.8L551.1 124.4L552.1 123.4L553.2 123.1L554.1 123.3L554.8 122.8L555.7 122.5L556.7 122.9L557.7 123.2L558.6 122.9L559.6 122.8L560.6 123.0L561.5 122.2L562.4 121.6L563.4 121.9L564.3 121.2L565.2 120.8L566.3 121.7L567.2 121.4L568.1 121.1L569.2 121.9L570.2 121.2L571.1 120.7L572.2 121.0L573.1 120.0L574.1 120.1L575.1 120.5L576.0 120.2L577.0 120.6L577.9 121.0L578.7 120.7L579.5 120.7L580.8 120.7L581.8 119.8L582.8 120.0L583.7 119.8L584.2 119.1L584.9 119.1L586.0 119.9L587.0 119.7L587.6 119.1L588.2 119.2L588.8 120.0L589.3 119.7L590.5 119.1L591.0 119.5L591.7 119.0L592.4 118.2L593.2 118.5L594.1 119.0L595.0 118.7L595.9 118.9L597.0 119.6L598.0 119.3L599.0 118.9L600.0 118.9L601.1 118.3L602.1 117.6L603.1 118.0L604.2 117.9L605.2 117.6L606.2 118.5L607.2 118.4L608.3 117.8L609.4 118.3L610.4 117.1L611.6 117.0L612.7 117.2L613.8 116.6L615.0 117.7L616.1 117.6L617.1 117.9L618.1 118.2L619.0 117.6L619.8 117.6L620.6 117.6L621.2 117.1L621.7 116.8" stroke="#EDB120"/>
<path d="M100.0 251.8L101.5 251.1L102.6 250.3L102.4 251.7L102.6 252.9L102.8 254.6L103.3 256.1L101.9 257.0L100.9 258.3L100.0 259.8L98.8 260.8L98.2 262.1L96.8 263.2L96.0 263.9L97.5 264.4L98.6 264.6L100.0 265.2L100.2 265.1L100.4 265.8L100.8 266.5L102.0 266.1L103.1 266.4L103.7 267.5L104.9 267.8L105.8 268.7L107.0 269.2L108.3 268.8L109.1 269.3L109.9 269.9L111.1 269.6L112.3 269.1L113.4 269.3L114.6 269.1L115.9 269.4L116.8 269.4L117.9 268.9L118.9 268.9L119.9 269.1L121.0 269.0L122.1 268.5L123.3 268.0L124.3 268.3L125.3 268.2L126.3 268.2L127.3 268.4L128.2 268.3L129.0 269.2L129.8 269.6L130.9 268.9L131.7 269.3L132.5 269.8L133.6 269.5L134.5 269.9L135.4 270.1L136.6 269.6L137.4 271.0L138.5 271.3L139.5 270.9L140.2 271.8L141.2 272.0L142.2 271.7L143.1 272.2L144.3 271.4L145.4 270.9L146.3 271.7L147.4 271.2L148.5 271.2L149.5 271.7L150.5 271.8L151.4 272.6L152.4 272.5L153.5 272.1L154.5 272.5L155.5 272.6L156.6 272.4L157.7 272.1L158.7 272.2L159.7 272.6L160.7 272.8L161.7 273.1L162.7 273.1L163.6 273.5L164.5 274.3L165.5 273.8L166.5 273.6L167.4 274.2L168.3 273.9L169.3 274.1L170.3 274.3L171.3 273.5L172.2 274.0L172.9 274.8L173.9 274.1L174.8 273.9L175.6 274.5L176.5 274.3L177.3 274.3L178.2 275.0L179.2 274.2L180.2 274.1L181.0 275.0L181.8 274.7L182.7 274.1L183.6 274.4L184.5 274.1L185.5 274.0L186.4 274.5L187.3 274.0L188.3 273.7L189.2 274.4L190.2 274.5L191.2 274.4L192.1 274.4L193.1 274.2L194.1 274.4L195.0 274.5L195.9 274.2L196.8 273.8L197.8 273.7L198.7 274.1L199.6 274.1L200.6 273.5L201.5 273.7L202.4 273.8L203.4 273.5L204.3 273.8L205.2 273.4L206.2 272.7L207.1 273.4L208.1 273.5L209.0 272.6L210.0 273.0L211.0 273.1L211.9 272.6L212.9 273.3L213.8 272.9L214.8 272.0L215.7 272.8L216.6 273.0L217.6 272.4L218.5 272.9L219.5 273.0L220.4 272.9L221.3 274.0L222.2 273.9L223.2 273.2L224.1 273.8L225.0 273.9L225.9 273.5L226.8 273.4L227.8 273.1L228.8 273.2L229.8 273.8L230.8 273.9L231.8 273.9L232.8 274.2L233.8 274.7L234.8 274.7L235.8 274.0L236.7 273.9L237.7 273.8L238.6 273.5L239.4 273.7L240.3 273.9L241.7 273.5L242.8 274.9L243.8 275.6L244.9 275.5L245.6 276.5L246.4 276.9L247.3 276.9L247.9 277.7L248.5 278.4L250.0 277.9L250.9 278.5L251.0 279.9L251.6 280.6L252.5 281.1L252.7 282.7L253.3 283.1L253.7 283.9L253.6 285.3L254.7 285.6L255.7 286.0L255.9 287.3L256.8 287.8L257.5 288.6L258.2 289.3L259.0 289.9L259.2 291.0L259.5 291.9L260.5 292.3L261.2 293.0L261.7 293.8L262.2 294.5L262.9 295.1L263.7 295.6L264.3 296.3L264.6 297.1L265.0 297.9L265.2 298.8L265.9 299.5L266.7 300.1L266.6 301.3L267.2 302.0L268.2 302.5L268.4 303.4L269.0 304.1L269.5 304.9L269.4 305.9L270.0 306.7L270.6 307.5L270.2 308.7L270.7 309.5L271.1 310.4L271.2 311.4L271.9 312.1L272.1 312.9L272.2 313.9L272.8 314.6L273.2 315.3L273.1 316.2L273.3 317.0L273.6 318.0L273.8 319.2L274.2 319.9L274.3 320.8L274.2 321.8L274.6 322.7L275.1 323.6L275.3 324.6L275.6 325.6L275.8 326.6L276.2 327.6L276.5 328.5L276.7 329.5L276.8 330.4L277.1 331.4L277.5 332.3L277.7 333.2L277.6 334.2L277.9 335.0L278.3 335.8L278.4 336.7L278.7 337.5L278.9 338.4L278.8 339.3L279.4 340.2L279.6 341.0L279.3 341.9L279.5 342.8L279.6 343.7L279.4 344.7L279.7 345.6L279.5 346.6L279.2 347.6L279.7 348.6L279.8 349.6L279.6 350.5L280.0 351.5L280.0 352.5L280.1 353.4L280.4 354.4L280.0 355.3L279.9 356.3L280.1 357.3L279.9 358.2L279.9 359.2L279.8 360.1L279.8 361.1L280.0 362.1L280.1 363.1L280.0 364.0L279.9 365.0L279.9 366.0L280.0 366.9L279.8 367.9L279.5 368.9L279.6 369.9L279.6 370.9L279.6 371.8L279.7 372.8L279.5 373.8L279.6 374.8L279.9 375.7L279.5 376.7L279.5 377.7L279.6 378.7L279.4 379.7L279.8 380.6L279.9 381.6L279.6 382.6L280.0 383.5L280.4 384.4L280.1 385.4L280.3 386.4L280.3 387.4L280.1 388.4L280.5 389.3L280.5 390.3L280.2 391.3L280.7 392.2L281.0 393.2L281.1 394.3L281.4 395.3L281.4 396.3L281.7 397.3L281.8 398.3L281.6 399.4L281.6 400.4L281.7 401.3L281.9 402.3L282.0 403.2L282.1 404.2L282.5 405.2L282.9 406.2L283.2 407.1L283.5 408.0L283.4 409.0L283.6 409.9L284.0 410.7L284.0 411.5L283.9 412.4L284.2 413.1L284.4 414.1L284.6 415.1L285.2 415.9L285.2 416.8L285.2 417.8L286.0 418.6L286.3 419.5L286.2 420.7L286.8 421.4L286.7 422.4L286.8 423.3L287.7 424.1L287.7 425.1L287.5 426.3L288.5 427.0L288.9 428.0L289.2 429.0L289.9 429.9L289.9 431.0L290.5 431.8L291.5 432.4L291.6 433.5L292.0 434.5L292.9 435.2L293.5 436.0L294.1 436.7L294.5 437.7L294.9 438.6L295.5 439.2L296.2 440.0L296.8 440.8L297.0 441.8L297.6 442.6L298.7 442.9L299.3 443.6L299.6 444.5L300.4 445.0L301.0 445.7L301.4 446.4L302.5 446.8L303.0 447.7L302.9 449.0L304.0 449.3L304.9 449.6L305.1 450.7L305.8 451.2L306.7 451.5L307.1 452.5L307.9 453.0L309.2 452.7L309.7 453.5L310.0 454.7L311.2 454.6L312.3 454.8L313.0 455.5L314.0 455.4L314.9 455.7L315.6 456.5L316.8 456.0L317.9 455.8L318.7 456.7L319.8 456.6L320.8 456.4L321.7 456.4L322.7 456.1L323.6 456.2L324.4 456.3L325.4 455.8L326.4 455.4L327.3 455.3L328.2 455.5L329.1 455.7L330.1 455.3L330.9 455.4L331.8 455.8L332.7 455.8L333.6 455.9L334.5 455.8L335.5 455.0L336.4 455.1L337.3 455.6L338.3 454.8L339.2 454.7L340.1 455.4L341.0 455.3L341.9 455.9L342.7 456.8L343.6 456.2L344.5 456.3L345.4 457.4L346.3 457.0L347.2 456.3L348.1 456.7L349.1 456.3L350.1 456.3L350.9 457.1L351.8 456.8L352.7 456.4L353.5 457.3L354.4 457.9L355.3 457.7L356.2 457.9L357.1 457.7L358.1 457.3L359.0 457.6L360.0 457.4L361.1 456.7L362.1 456.8L362.9 457.1L363.8 457.3L364.7 457.2L365.7 457.0L366.6 457.1L367.6 457.2L368.6 457.1L369.6 456.9L370.6 456.2L371.6 456.6L372.6 457.1L373.6 456.4L374.5 456.8L375.5 457.1L376.4 456.8L377.3 457.4L378.1 457.4L379.2 456.2L380.2 456.9L381.2 457.0L382.2 456.3L383.2 456.9L384.1 456.9L385.0 456.8L385.8 457.9L386.7 457.9L387.6 457.0L388.4 457.4L389.2 457.8L390.1 457.2L391.0 456.9L391.8 456.9L392.5 456.3L393.2 456.3L394.0 456.9L394.8 457.1L395.6 456.6L396.6 456.8L397.6 457.3L398.8 457.5L400.1 457.3L400.8 457.0L401.6 456.9L402.5 457.0L403.3 457.0L404.2 456.9L405.2 456.7L406.1 456.5L407.0 457.3L408.0 457.5L409.0 457.2L410.0 457.7L411.1 457.5L412.1 457.7L413.1 458.0L414.2 456.8L415.2 457.2L416.2 457.6L417.2 456.7L418.2 457.1L419.2 456.8L420.1 456.5L421.0 457.4L422.0 456.9L423.0 456.3L424.0 457.2L425.0 457.0L426.0 456.9L427.0 457.1L428.0 456.4L429.0 457.0L430.0 457.2L431.0 456.4L432.0 456.7L433.0 457.0L433.9 457.2L434.9 457.6L435.8 457.5L436.7 457.6L437.6 458.2L438.4 458.6L439.2 458.6L440.0 458.4L441.2 458.3L442.3 458.8L443.3 458.7L444.3 458.6L445.2 458.9L446.0 458.9L446.8 459.2L447.7 459.8L448.5 459.5L449.3 458.9L450.1 459.5L451.0 459.8L451.9 459.0L452.8 459.1L453.7 459.0L454.6 458.2L455.6 458.9L456.5 459.1L457.4 457.9L458.3 458.2L459.3 458.6L460.2 457.8L461.1 457.9L462.0 457.6L462.8 456.8L463.8 457.4L464.7 457.7L465.6 456.8L466.7 457.2L467.7 457.4L468.7 457.3L469.7 457.5L470.6 456.7L471.5 456.5L472.5 456.8L473.4 456.4L474.3 456.1L475.1 456.0L476.1 456.3L477.3 456.7L478.3 456.5L479.4 456.5L480.3 456.2L481.2 456.1L482.2 456.0L482.7 454.8L483.4 454.2L484.5 454.3L485.1 453.5L485.9 453.3L487.0 453.1L487.6 452.3L488.9 452.5L490.0 452.2L490.0 450.7L491.0 450.4L491.7 449.6L491.8 448.4L492.8 447.9L492.7 446.6L493.3 446.0L494.7 445.8L494.9 444.9L495.2 444.0L496.2 443.4L496.5 442.5L497.0 441.6L497.4 440.8L497.1 439.6L497.5 438.7L498.2 438.0L498.3 437.0L498.5 436.1L498.9 435.2L499.3 434.4L499.8 433.6L500.0 432.7L500.1 431.8L500.3 430.9L500.6 430.1L501.0 429.3L501.2 428.4L501.1 427.4L501.6 426.6L502.0 425.7L502.2 424.8L502.5 423.9L502.7 423.0L502.8 422.1L503.3 421.3L503.6 420.4L503.4 419.4L503.9 418.5L504.3 417.6L504.4 416.6L505.0 415.6L504.9 414.5L505.2 413.6L505.8 412.8L505.7 411.9L505.6 411.0L505.9 410.1L505.9 409.1L506.0 408.1L506.4 407.2L506.1 406.1L506.3 405.1L506.7 404.2L506.6 403.1L506.7 402.1L506.7 401.1L506.7 400.0L506.9 399.0L506.7 398.1L506.5 397.2L506.5 396.3L506.6 395.3L506.6 394.4L506.3 393.5L506.3 392.5L506.5 391.6L506.4 390.6L506.4 389.6L506.4 388.7L506.2 387.7L506.5 386.7L506.6 385.7L506.1 384.8L506.3 383.8L506.3 382.9L506.1 381.9L506.4 381.0L506.2 380.0L506.0 379.1L506.6 378.1L506.7 377.2L506.5 376.2L506.8 375.3L506.9 374.3L506.8 373.4L507.1 372.4L506.8 371.5L506.5 370.6L506.8 369.6L506.8 368.7L506.6 367.8L506.7 366.8L506.7 365.9L506.8 365.0L507.2 364.0L507.1 363.1L506.9 362.1L507.0 361.2L507.0 360.2L506.9 359.3L506.6 358.3L506.5 357.4L506.6 356.5L506.6 355.5L506.7 354.6L506.7 353.6L506.6 352.7L506.8 351.7L507.0 350.8L506.6 349.8L506.6 348.9L506.6 347.9L506.4 347.0L506.6 346.0L506.5 345.1L506.2 344.1L506.6 343.1L506.7 342.1L506.3 341.1L506.5 340.1L506.3 339.2L506.1 338.2L506.4 337.2L506.0 336.2L505.8 335.3L506.3 334.3L506.2 333.4L506.1 332.5L506.3 331.6L506.2 330.8L506.1 330.0L506.3 328.9L506.0 327.8L505.7 326.9L505.8 325.9L505.9 325.0L505.9 324.1L505.9 323.2L505.9 322.4L506.0 321.5L506.2 320.6L506.2 319.7L506.2 318.8L505.9 317.9L505.8 317.0L505.9 316.1L505.7 315.2L505.4 314.3L505.5 313.4L505.5 312.5L505.4 311.6L505.7 310.7L505.5 309.8L505.2 308.8L505.6 307.8L505.5 306.9L505.0 305.9L505.0 304.9L504.7 304.0L504.5 303.2L504.7 302.3L504.5 301.4L504.1 300.5L504.4 299.6L504.5 298.6L504.2 297.7L504.4 296.7L504.2 295.8L504.0 294.8L504.3 293.8L504.1 292.9L503.8 291.9L503.9 290.9L503.9 289.9L503.9 288.9L503.8 288.0L503.7 287.1L503.7 286.2L503.8 285.2L503.8 284.3L503.6 283.3L503.5 282.4L503.7 281.4L503.8 280.5L503.5 279.5L503.4 278.5L503.4 277.6L503.2 276.6L503.3 275.6L503.0 274.7L502.7 273.8L503.0 272.8L503.0 271.8L502.7 270.9L502.8 269.9L502.6 269.0L502.6 268.0L502.9 267.1L502.4 266.1L502.1 265.2L502.4 264.2L502.2 263.3L502.0 262.4L502.2 261.4L501.8 260.5L501.9 259.5L502.2 258.5L501.9 257.6L501.7 256.7L501.9 255.7L501.8 254.8L501.8 253.8L501.8 252.9L501.5 252.0L501.6 251.0L501.8 250.1L501.6 249.1L501.5 248.2L501.4 247.2L501.4 246.3L501.4 245.3L501.2 244.4L501.1 243.4L501.1 242.5L501.2 241.5L501.3 240.6L501.2 239.6L501.0 238.7L501.3 237.7L501.2 236.8L500.8 235.8L500.8 234.9L500.5 233.9L500.4 232.9L500.7 231.9L500.3 230.9L500.3 229.9L500.8 228.9L500.6 227.9L500.7 226.9L500.7 225.9L500.3 225.0L500.5 224.0L500.4 223.0L499.8 222.1L499.9 221.1L500.0 220.2L499.9 219.2L500.1 218.2L500.1 217.3L500.0 216.3L500.3 215.4L500.2 214.4L499.9 213.5L499.8 212.6L499.7 211.6L499.6 210.7L499.6 209.8L499.4 208.8L499.4 207.9L499.5 206.9L499.7 206.0L499.7 205.0L499.5 204.1L499.6 203.1L499.7 202.2L499.5 201.2L499.5 200.2L499.4 199.2L499.3 198.3L499.8 197.3L499.7 196.2L499.5 195.2L500.0 194.2L499.8 193.1L499.8 192.1L499.9 191.0L499.5 190.0L500.0 189.0L500.0 188.0L499.8 187.0L500.2 186.0L500.2 185.1L500.2 184.2L500.4 183.3L500.2 182.4L500.0 181.6L500.4 180.4L500.2 179.3L500.1 178.2L500.3 177.2L500.5 176.3L500.9 175.4L501.0 174.5L501.0 173.6L501.2 172.8L501.5 172.0L501.7 171.3L501.7 170.5L501.5 169.4L501.9 168.5L502.3 167.6L502.4 166.8L502.8 166.1L503.1 165.3L503.3 164.6L504.1 164.0L504.9 163.4L504.6 162.4L505.1 161.6L505.9 161.1L505.9 160.1L506.5 159.4L506.9 158.7L506.5 157.6L507.5 157.1L508.4 156.7L508.0 155.6L508.4 154.9L509.4 154.6L509.5 153.8L510.1 153.1L511.1 152.7L511.0 151.5L511.3 150.7L512.4 150.5L512.9 149.8L512.8 148.7L513.3 148.0L513.8 147.2L514.1 146.4L514.9 145.9L515.4 145.0L515.6 144.0L516.5 143.4L517.4 142.9L518.1 142.3L518.6 141.6L519.0 140.9L519.8 140.5L520.4 139.9L520.9 139.1L521.3 138.4L521.7 137.6L522.7 137.4L523.7 137.1L524.0 136.0L525.1 135.9L526.1 135.7L526.7 135.1L527.7 135.0L528.1 134.1L528.4 133.3L529.4 133.8L529.9 133.1L530.2 132.1L531.1 132.5L531.8 132.1L532.5 132.0L533.5 132.5L534.2 131.7L535.0 131.2L536.2 131.9L537.1 131.4L537.8 130.6L538.7 130.7L539.5 130.3L540.4 130.3L541.4 130.8L542.2 130.3L543.0 129.9L544.0 130.3L544.9 130.3L545.7 129.9L546.5 129.4L547.3 128.9L548.1 128.9L548.9 128.8L549.8 128.6L550.7 128.3L551.7 128.1L552.8 128.5L554.0 128.4L554.7 127.6L555.6 127.3L556.4 127.2L557.2 126.4L558.1 126.1L559.0 125.7L559.8 124.5L560.9 125.0L561.9 125.3L562.8 124.4L563.9 124.9L564.8 124.9L565.7 124.3L566.7 124.8L567.5 123.9L568.4 122.8L569.4 123.5L570.4 122.9L571.3 122.4L572.4 122.9L573.4 122.5L574.5 123.2L575.5 123.7L576.4 122.9L577.3 122.9L578.2 123.2L579.0 123.0L579.8 122.5L581.1 122.0L582.2 121.4L583.2 121.4L584.1 121.4L584.8 121.1L585.4 120.7L586.1 120.4L587.1 120.2L588.0 120.2L588.5 120.2L588.7 119.9L589.2 119.1L590.5 119.1L591.0 118.8L591.6 118.7L592.4 118.9L593.2 118.5L594.0 117.8L595.0 118.4L595.9 118.6L596.9 117.7L597.9 118.1L598.9 117.8L600.0 117.7L601.1 118.4L602.1 117.4L603.1 117.6L604.2 118.5L605.2 117.8L606.2 118.1L607.2 118.0L608.2 117.5L609.4 118.3L610.5 117.4L611.6 117.2L612.8 117.8L613.9 117.5L615.0 117.7L616.1 117.3L617.1 117.5L618.1 117.9L619.0 117.4L619.8 117.1L620.5 117.0L621.2 117.0L621.7 117.1" stroke="#0072BD"/>
<path d="M99.8 252.1L100.3 253.9L100.7 255.3L101.3 256.9L100.3 255.9L99.4 255.2L98.6 253.9L97.7 252.5L96.6 251.9L95.9 250.6L94.7 249.5L94.0 248.3L95.5 247.6L96.5 246.3L97.6 245.4L98.8 244.4L100.2 243.8L101.7 242.5L102.5 242.1L103.7 240.9L105.1 239.9L106.0 238.9L107.4 237.3L108.4 236.4L107.7 237.8L107.2 239.2L106.4 240.1L105.8 241.3L105.4 243.0L104.3 244.2L103.8 245.6L103.0 246.7L102.2 247.9L101.7 249.1L101.2 250.4L100.9 251.5L100.5 253.0L101.2 254.6L101.3 255.9L102.2 257.3L103.9 258.8L104.4 259.0L104.7 260.0L104.9 261.4L106.0 261.4L107.2 261.5L107.8 262.4L108.8 262.7L110.0 262.6L110.9 262.6L111.7 262.8L112.3 263.4L113.0 264.0L114.0 263.8L115.0 263.5L115.8 264.5L116.9 264.9L117.8 264.4L118.7 264.8L119.5 265.7L120.5 265.5L121.5 265.4L122.6 265.6L123.7 265.3L124.7 265.5L125.7 265.8L126.8 266.0L127.6 266.8L128.4 267.4L129.4 267.7L130.2 268.2L131.2 268.1L132.2 267.9L133.0 268.5L133.8 268.8L135.0 268.3L135.9 268.7L136.6 269.9L137.7 269.7L138.9 269.5L139.7 270.1L140.5 270.4L141.5 270.5L142.4 270.4L143.4 270.4L144.3 271.2L145.3 271.4L146.5 270.4L147.5 270.8L148.4 271.8L149.5 271.3L150.5 271.7L151.3 272.8L152.3 273.1L153.3 273.3L154.3 273.4L155.3 273.5L156.2 274.0L157.3 274.1L158.3 274.1L159.2 275.0L160.2 275.2L161.2 275.0L162.2 275.5L163.3 275.3L164.3 275.0L165.2 275.6L166.1 275.7L167.2 275.3L168.0 275.8L168.9 276.3L170.0 275.8L171.0 275.6L171.9 275.7L172.8 275.9L173.6 276.1L174.5 275.9L175.4 275.6L176.3 276.1L177.1 276.9L178.1 276.3L179.1 275.7L180.0 276.9L180.8 277.5L181.7 277.1L182.6 277.2L183.5 278.0L184.5 278.3L185.4 278.1L186.4 277.7L187.3 277.4L188.3 277.8L189.2 278.1L190.2 277.7L191.2 278.1L192.1 279.0L193.1 278.7L194.1 278.3L195.0 278.6L195.9 278.1L196.9 277.6L197.8 277.8L198.8 277.5L199.7 276.9L200.6 277.1L201.6 277.2L202.5 276.7L203.4 276.7L204.4 276.7L205.3 276.9L206.3 277.3L207.2 277.2L208.1 276.6L209.1 277.0L210.0 277.4L210.9 276.3L211.9 275.8L212.8 276.8L213.8 277.2L214.7 277.0L215.6 277.3L216.6 277.9L217.5 278.2L218.4 278.2L219.4 277.6L220.3 277.4L221.2 278.2L222.2 278.0L223.1 277.2L224.1 277.7L225.0 278.3L226.0 277.7L226.9 277.3L227.9 277.6L228.9 277.4L229.9 277.4L230.9 277.6L231.9 277.2L232.9 277.3L233.9 277.3L234.9 276.7L235.8 276.7L236.7 276.8L237.6 276.7L238.5 277.0L239.2 277.6L240.0 277.5L241.3 277.1L242.2 278.1L243.3 277.9L244.4 277.5L245.1 278.2L245.6 279.1L246.3 279.4L247.1 279.5L247.8 279.8L248.7 280.3L249.2 280.8L249.8 281.3L250.9 281.3L252.1 281.5L252.3 283.2L252.9 283.6L254.0 283.6L254.6 284.3L254.8 285.5L255.8 285.9L256.9 286.2L257.6 287.0L258.3 287.7L259.0 288.5L259.8 289.1L260.7 289.5L261.2 290.4L261.7 291.2L262.7 291.6L263.1 292.6L263.3 293.7L263.8 294.4L264.1 295.3L264.1 296.4L264.8 297.0L265.7 297.4L266.0 298.2L266.5 299.1L267.7 299.4L268.2 300.2L268.3 301.3L268.6 302.2L269.1 303.0L269.6 303.8L270.1 304.6L270.3 305.5L270.9 306.3L272.0 306.9L272.3 307.8L272.3 308.9L273.2 309.6L273.9 310.4L273.9 311.4L274.2 312.2L274.7 313.1L275.0 313.9L275.2 314.7L275.2 315.6L275.2 316.5L275.6 317.5L276.1 318.6L276.1 319.4L276.4 320.3L276.9 321.1L277.1 322.1L277.0 323.1L277.3 324.1L277.3 325.2L277.4 326.2L277.8 327.2L277.9 328.2L278.1 329.2L278.5 330.0L278.7 331.0L278.8 332.0L279.0 332.8L279.2 333.7L279.6 334.6L280.0 335.4L280.1 336.3L280.2 337.2L280.8 338.0L281.1 339.0L280.7 340.0L280.9 340.9L281.4 341.8L281.4 342.7L281.3 343.7L281.4 344.6L281.5 345.6L281.6 346.6L281.5 347.6L281.2 348.6L281.5 349.6L281.7 350.6L281.4 351.5L281.4 352.5L281.7 353.5L281.4 354.4L281.1 355.4L281.0 356.3L280.9 357.3L280.8 358.3L281.0 359.2L281.0 360.2L281.0 361.1L281.1 362.1L281.1 363.1L280.9 364.0L280.9 365.0L280.8 366.0L280.8 366.9L281.0 367.9L280.9 368.9L280.7 369.9L281.1 370.8L281.2 371.8L280.9 372.8L281.1 373.7L281.5 374.7L281.5 375.7L281.4 376.6L281.4 377.6L281.4 378.6L281.5 379.5L281.2 380.5L281.0 381.5L281.5 382.4L281.9 383.3L281.7 384.3L281.8 385.2L282.4 386.1L282.3 387.1L282.2 388.1L282.3 389.1L282.4 390.0L282.6 391.0L282.8 392.0L282.8 393.0L283.1 394.0L283.4 395.0L283.4 396.0L283.6 397.0L284.0 398.0L284.1 399.0L284.4 399.9L284.7 400.8L284.5 401.8L284.6 402.7L285.0 403.6L285.0 404.7L285.0 405.7L285.5 406.5L285.8 407.4L286.0 408.3L286.2 409.2L286.2 410.1L286.5 410.9L286.8 411.7L286.8 412.5L286.6 413.7L287.1 414.5L287.7 415.4L287.5 416.4L287.4 417.3L287.9 418.1L288.2 419.0L288.1 420.1L288.3 421.0L288.6 421.9L289.1 422.7L289.7 423.5L289.7 424.5L290.0 425.4L290.9 426.1L291.1 427.1L291.1 428.2L292.0 428.9L292.5 429.6L292.7 430.6L293.5 431.2L294.0 432.1L294.1 433.2L294.8 433.9L295.6 434.6L295.9 435.5L296.7 436.1L297.5 436.7L298.1 437.4L298.7 438.2L298.8 439.3L298.9 440.4L299.7 441.0L300.2 441.7L300.0 443.1L300.6 443.7L302.0 443.6L302.7 444.1L302.8 445.2L303.5 445.9L304.5 446.3L305.1 447.0L305.5 447.8L305.9 448.6L306.4 449.3L307.3 449.6L308.1 449.9L308.4 451.0L308.7 451.9L309.7 452.0L310.7 452.0L311.2 452.9L311.9 453.5L313.1 453.2L314.0 453.3L314.7 453.8L315.5 454.1L316.3 454.6L317.0 455.5L317.9 455.9L318.8 456.2L319.7 456.8L320.7 456.7L321.7 456.6L322.5 456.8L323.5 456.7L324.4 456.7L325.2 457.4L326.0 457.6L327.0 457.1L327.9 457.6L328.8 458.4L329.8 457.8L330.7 457.4L331.6 458.1L332.5 458.5L333.4 458.4L334.4 458.2L335.3 458.1L336.3 458.4L337.2 458.6L338.2 457.9L339.1 457.6L340.0 458.7L340.9 459.2L341.8 458.5L342.7 458.5L343.6 459.2L344.4 459.2L345.3 458.6L346.2 458.6L347.1 458.8L348.1 459.0L349.0 459.5L350.0 459.4L350.8 459.2L351.7 459.5L352.5 459.6L353.4 459.0L354.3 458.8L355.2 459.2L356.1 459.2L357.0 459.2L357.9 459.9L358.9 459.9L359.9 459.4L360.9 459.9L362.0 459.8L362.9 459.2L363.7 459.1L364.6 459.4L365.6 459.5L366.5 459.4L367.5 459.1L368.5 459.0L369.5 459.7L370.5 459.6L371.5 459.0L372.5 459.9L373.4 460.8L374.4 460.0L375.4 459.6L376.3 460.0L377.2 459.9L378.0 459.5L379.1 459.3L380.1 459.6L381.1 460.4L382.0 460.9L383.0 460.5L383.9 460.8L384.8 461.4L385.7 461.0L386.6 460.4L387.4 460.6L388.3 460.9L389.2 460.5L390.0 460.6L390.9 461.0L391.8 460.7L392.6 460.4L393.4 460.7L394.1 461.0L394.9 460.8L395.7 460.6L396.6 460.9L397.6 461.1L398.7 461.0L400.0 460.6L400.8 460.0L401.5 460.0L402.3 460.6L403.2 460.4L404.1 459.7L405.0 460.2L405.9 461.4L406.9 461.0L407.9 460.5L408.9 460.8L409.9 460.9L410.9 460.6L412.0 460.3L413.0 460.4L414.0 461.3L415.0 461.1L416.1 460.4L417.1 461.1L418.1 461.4L419.1 460.6L420.0 460.9L421.0 461.5L421.9 461.4L422.9 461.6L423.9 461.7L424.9 461.4L425.9 461.6L427.0 461.7L428.0 461.5L429.0 461.8L430.0 461.9L431.0 461.8L432.0 462.1L433.0 461.6L433.9 461.2L434.9 461.9L435.8 462.1L436.7 461.4L437.6 461.7L438.4 462.5L439.2 462.4L440.0 461.7L441.2 461.2L442.3 461.1L443.3 461.1L444.3 460.9L445.2 460.5L446.0 461.0L446.9 461.9L447.7 461.7L448.5 460.9L449.3 461.0L450.2 461.7L451.1 461.5L452.0 460.7L452.9 460.9L453.8 461.2L454.7 461.0L455.7 460.9L456.6 460.6L457.5 460.5L458.5 461.0L459.5 461.2L460.4 460.9L461.4 461.4L462.4 461.8L463.3 461.3L464.2 461.1L465.1 461.0L466.0 460.0L467.0 459.8L468.1 460.3L469.1 459.8L470.1 459.7L471.2 460.4L472.2 460.2L473.1 459.6L474.0 459.2L474.9 459.0L475.9 459.0L476.7 458.6L477.6 457.6L478.7 457.9L479.8 458.1L480.5 456.8L481.3 456.3L482.6 457.0L483.5 456.6L484.2 455.8L485.2 455.7L486.2 455.3L487.0 454.8L487.6 454.0L488.0 452.9L488.9 452.5L490.0 452.2L490.3 451.1L491.2 450.5L492.4 450.2L492.7 449.1L493.2 448.2L494.0 447.5L494.1 446.5L494.6 445.8L495.5 445.2L495.9 444.3L496.2 443.4L497.0 442.7L497.3 441.8L497.5 440.8L497.8 439.8L498.0 438.9L498.7 438.1L499.4 437.4L499.4 436.4L499.7 435.5L500.7 434.9L501.0 434.0L500.7 433.0L501.2 432.1L501.9 431.4L502.1 430.5L502.2 429.6L502.4 428.7L502.7 427.8L503.0 427.0L503.1 426.0L503.0 425.0L503.4 424.2L504.1 423.4L504.2 422.5L504.3 421.5L504.8 420.7L505.1 419.8L504.9 418.7L505.0 417.7L505.1 416.7L505.1 415.6L505.5 414.5L505.6 413.7L505.7 412.8L506.0 411.9L506.2 411.0L506.2 410.1L506.5 409.2L506.6 408.2L506.6 407.2L507.0 406.2L507.0 405.2L506.8 404.2L507.1 403.2L507.4 402.1L507.1 401.1L507.3 400.0L507.8 399.0L507.9 398.1L507.9 397.2L507.9 396.3L507.9 395.4L508.0 394.4L507.7 393.5L507.2 392.5L507.5 391.5L507.8 390.6L507.4 389.6L507.3 388.6L507.6 387.7L507.5 386.7L507.3 385.7L507.2 384.8L507.1 383.8L507.2 382.9L507.2 381.9L507.0 381.0L507.0 380.0L507.2 379.1L507.0 378.1L506.9 377.2L507.1 376.2L507.1 375.3L507.1 374.3L507.4 373.4L507.4 372.4L507.1 371.5L507.3 370.6L507.5 369.6L507.2 368.7L507.2 367.8L507.4 366.8L507.5 365.9L507.5 364.9L507.4 364.0L507.1 363.1L507.3 362.1L507.3 361.2L506.9 360.2L506.8 359.3L507.3 358.3L507.3 357.4L506.9 356.4L506.9 355.5L507.0 354.5L506.8 353.6L506.6 352.7L506.4 351.7L506.4 350.8L506.6 349.8L506.5 348.9L506.3 348.0L506.5 347.0L506.6 346.0L506.4 345.1L506.4 344.1L506.6 343.1L506.4 342.1L506.5 341.1L506.5 340.1L506.1 339.2L506.0 338.2L506.0 337.2L505.9 336.3L505.8 335.3L506.0 334.4L506.0 333.4L506.1 332.5L506.0 331.7L505.6 330.8L505.4 330.0L505.6 328.9L505.2 327.9L504.7 327.0L505.0 326.0L505.1 325.1L504.8 324.2L504.6 323.4L504.7 322.5L504.8 321.6L504.7 320.7L504.6 319.9L504.4 319.0L504.5 318.0L504.8 317.1L504.5 316.2L504.0 315.4L504.2 314.4L504.3 313.5L504.0 312.7L503.9 311.8L504.2 310.8L504.2 309.9L504.2 308.9L504.2 308.0L504.0 307.0L503.7 306.0L503.7 305.0L503.4 304.1L503.3 303.3L503.3 302.4L503.2 301.5L503.1 300.6L503.1 299.6L502.9 298.7L502.5 297.8L502.6 296.9L502.7 295.9L502.3 294.9L502.1 294.0L502.5 293.0L502.4 292.0L502.0 291.0L502.0 290.0L502.0 289.0L502.1 288.1L502.0 287.2L501.7 286.3L501.9 285.3L502.3 284.4L502.0 283.5L501.6 282.5L501.9 281.5L502.1 280.6L501.8 279.6L501.8 278.7L502.0 277.7L501.9 276.7L501.8 275.8L501.5 274.8L501.2 273.9L501.3 272.9L501.1 271.9L500.9 271.0L501.0 270.0L501.1 269.1L500.9 268.2L500.9 267.2L500.8 266.3L500.4 265.3L500.3 264.4L500.4 263.4L500.1 262.5L499.8 261.6L500.0 260.6L500.0 259.6L499.9 258.7L499.8 257.8L499.8 256.8L500.0 255.8L500.2 254.9L499.9 253.9L499.8 253.0L500.1 252.0L499.9 251.1L499.3 250.2L499.4 249.2L499.7 248.2L499.5 247.3L499.5 246.4L499.6 245.4L499.8 244.4L499.8 243.5L499.6 242.5L499.2 241.6L499.3 240.7L499.3 239.7L498.9 238.8L498.9 237.8L499.1 236.9L498.9 235.9L498.7 235.0L498.9 234.0L498.7 233.0L498.6 232.1L498.8 231.0L498.7 230.1L498.5 229.1L498.6 228.1L498.5 227.1L498.3 226.1L498.2 225.2L498.0 224.2L498.2 223.2L498.5 222.2L498.1 221.3L498.0 220.3L498.3 219.3L498.1 218.3L497.6 217.4L497.7 216.4L497.8 215.5L497.7 214.5L497.6 213.6L497.5 212.6L497.5 211.7L497.5 210.7L497.2 209.8L496.8 208.9L497.1 207.9L497.2 207.0L496.9 206.0L496.9 205.1L497.2 204.1L497.1 203.2L497.0 202.2L497.1 201.2L497.1 200.2L497.1 199.2L497.3 198.3L497.2 197.3L497.3 196.2L497.4 195.2L497.3 194.2L497.5 193.1L497.6 192.1L497.6 191.0L498.1 190.0L498.1 189.0L497.7 187.9L497.9 186.9L497.9 186.0L497.4 185.0L497.3 184.1L497.5 183.2L497.6 182.3L497.7 181.5L497.6 180.3L497.7 179.1L498.0 178.1L497.7 177.0L497.3 176.0L497.8 175.1L498.0 174.2L497.6 173.2L497.6 172.4L498.0 171.6L498.1 170.7L498.1 169.9L498.3 168.9L498.6 167.9L499.1 167.0L499.7 166.2L499.9 165.4L499.9 164.5L500.4 163.7L500.6 162.9L500.5 162.0L500.7 161.0L501.3 160.2L501.5 159.3L502.2 158.5L503.2 158.0L503.4 157.0L503.4 156.0L504.3 155.4L504.7 154.6L504.5 153.5L504.7 152.7L505.3 152.0L505.9 151.3L506.5 150.7L506.7 149.7L506.7 148.6L507.4 148.1L508.4 147.7L508.5 146.7L508.4 145.5L509.5 145.2L510.7 145.0L510.9 144.0L511.0 142.9L511.9 142.4L512.5 141.7L513.0 140.9L513.4 140.1L513.8 139.3L514.8 138.8L515.9 138.4L516.1 137.3L516.6 136.4L517.8 136.0L518.1 135.0L518.5 134.1L519.5 133.8L520.3 133.3L521.0 132.5L522.1 132.3L522.7 131.4L523.1 130.3L524.0 129.8L524.7 129.1L525.2 128.2L526.0 127.8L527.0 127.4L528.1 127.2L529.1 127.2L529.8 126.4L530.7 125.9L531.8 126.5L532.7 126.4L533.4 125.3L534.3 125.3L535.5 125.9L536.3 125.4L537.0 124.5L537.9 124.3L538.9 124.4L539.9 124.4L540.8 124.3L541.7 123.9L542.7 124.3L543.8 125.0L544.5 124.3L545.3 123.3L546.3 123.4L547.2 123.2L547.9 122.2L548.8 121.8L549.8 122.0L550.7 121.8L551.8 121.8L553.0 121.7L553.7 121.2L554.6 121.1L555.5 121.1L556.3 120.6L557.2 120.3L558.2 120.3L559.1 119.9L560.1 119.8L561.1 119.9L562.0 119.1L563.0 119.0L564.1 119.9L565.0 119.7L565.9 119.3L567.0 120.0L568.0 120.4L569.0 119.8L569.9 119.4L570.9 119.2L572.0 119.4L573.0 119.4L573.9 118.8L574.9 119.1L576.0 120.0L576.8 119.3L577.5 118.3L578.3 118.4L579.1 118.8L580.3 118.0L581.2 117.5L582.2 117.5L582.9 117.3L583.6 117.1L584.3 116.9L585.0 116.4L585.6 115.7L586.1 115.4L586.8 115.4L587.5 115.2L588.5 114.5L590.0 114.8L590.6 114.9L591.3 114.5L592.1 114.5L593.0 114.8L593.9 114.6L594.8 114.0L595.8 114.6L596.8 115.1L597.8 114.6L598.8 114.8L599.9 115.1L600.9 114.8L601.9 114.4L603.0 114.1L604.0 114.6L605.0 115.2L606.0 114.6L607.0 114.6L608.1 115.7L609.2 114.8L610.2 113.8L611.4 114.3L612.5 113.9L613.6 113.5L614.7 113.5L615.8 113.8L616.9 114.0L617.8 113.4L618.7 113.3L619.6 113.9L620.3 114.0L621.0 113.6L621.5 113.3" stroke="#D95319"/>
</g>
<path d="M52.0 5.7H675.1V498.0H52.0ZM99.90 498.0v-7.0M99.90 5.7v7.0M195.76 498.0v-7.0M195.76 5.7v7.0M291.62 498.0v-7.0M291.62 5.7v7.0M387.48 498.0v-7.0M387.48 5.7v7.0M483.34 498.0v-7.0M483.34 5.7v7.0M579.20 498.0v-7.0M579.20 5.7v7.0M675.06 498.0v-7.0M675.06 5.7v7.0M52.0 498.00h7.0M675.1 498.00h-7.0M52.0 415.95h7.0M675.1 415.95h-7.0M52.0 333.90h7.0M675.1 333.90h-7.0M52.0 251.85h7.0M675.1 251.85h-7.0M52.0 169.80h7.0M675.1 169.80h-7.0M52.0 87.75h7.0M675.1 87.75h-7.0M52.0 5.70h7.0M675.1 5.70h-7.0" stroke="#262626" stroke-width="1.5" fill="none"/>
<text x="99.90" y="526.3" font-size="19.7" text-anchor="middle" font-family="'Liberation Sans', sans-serif" fill="#000">0</text>
<text x="195.76" y="526.3" font-size="19.7" text-anchor="middle" font-family="'Liberation Sans', sans-serif" fill="#000">2</text>
<text x="291.62" y="526.3" font-size="19.7" text-anchor="middle" font-family="'Liberation Sans', sans-serif" fill="#000">4</text>
<text x="387.48" y="526.3" font-size="19.7" text-anchor="middle" font-family="'Liberation Sans', sans-serif" fill="#000">6</text>
<text x="483.34" y="526.3" font-size="19.7" text-anchor="middle" font-family="'Liberation Sans', sans-serif" fill="#000">8</text>
<text x="579.20" y="526.3" font-size="19.7" text-anchor="middle" font-family="'Liberation Sans', sans-serif" fill="#000">10</text>
<text x="675.06" y="526.3" font-size="19.7" text-anchor="middle" font-family="'Liberation Sans', sans-serif" fill="#000">12</text>
<text x="43.4" y="506.20" font-size="19.7" text-anchor="end" font-family="'Liberation Sans', sans-serif" fill="#000">-3</text>
<text x="43.4" y="424.15" font-size="19.7" text-anchor="end" font-family="'Liberation Sans', sans-serif" fill="#000">-2</text>
<text x="43.4" y="342.10" font-size="19.7" text-anchor="end" font-family="'Liberation Sans', sans-serif" fill="#000">-1</text>
<text x="43.4" y="260.05" font-size="19.7" text-anchor="end" font-family="'Liberation Sans', sans-serif" fill="#000">0</text>
<text x="43.4" y="178.00" font-size="19.7" text-anchor="end" font-family="'Liberation Sans', sans-serif" fill="#000">1</text>
<text x="43.4" y="95.95" font-size="19.7" text-anchor="end" font-family="'Liberation Sans', sans-serif" fill="#000">2</text>
<text x="43.4" y="13.90" font-size="19.7" text-anchor="end" font-family="'Liberation Sans', sans-serif" fill="#000">3</text>
<text x="363.2" y="553.7" font-size="21.7" text-anchor="middle" font-family="'Liberation Sans', sans-serif" fill="#000">X(m)</text>
<text transform="translate(14.8 252.3) rotate(-90)" x="0" y="0" font-size="21.7" text-anchor="middle" font-family="'Liberation Sans', sans-serif" fill="#000">Y(m)</text>
<rect x="276.0" y="21.7" width="175.0" height="265.1" fill="#fff" stroke="#262626" stroke-width="1.6" stroke-opacity="0.9"/>
<path d="M281.3 35.60H338.3" stroke="#000000" stroke-width="3.1"/>
<text x="343.2" y="43.10" font-size="17.3" font-family="'Liberation Sans', sans-serif" fill="#000">Ground Truth</text>
<path d="M281.3 59.35H338.3" stroke="#808080" stroke-width="3.1"/>
<text x="343.2" y="66.85" font-size="17.3" font-family="'Liberation Sans', sans-serif" fill="#000">KF</text>
<path d="M281.3 83.10H338.3" stroke="#C98435" stroke-width="3.1"/>
<text x="343.2" y="90.60" font-size="17.3" font-family="'Liberation Sans', sans-serif" fill="#000">KF-ZUPT</text>
<path d="M281.3 106.85H338.3" stroke="#3BC781" stroke-width="3.1"/>
<text x="343.2" y="114.35" font-size="17.3" font-family="'Liberation Sans', sans-serif" fill="#000">DNN</text>
<path d="M281.3 130.60H338.3" stroke="#7E2F8E" stroke-width="3.1"/>
<text x="343.2" y="138.10" font-size="17.3" font-family="'Liberation Sans', sans-serif" fill="#000">Trans.</text>
<path d="M281.3 154.35H338.3" stroke="#A2142F" stroke-width="3.1"/>
<text x="343.2" y="161.85" font-size="17.3" font-family="'Liberation Sans', sans-serif" fill="#000">RNN</text>
<path d="M281.3 178.10H338.3" stroke="#77AC30" stroke-width="3.1"/>
<text x="343.2" y="185.60" font-size="17.3" font-family="'Liberation Sans', sans-serif" fill="#000">GRU</text>
<path d="M281.3 201.85H338.3" stroke="#4DBEEE" stroke-width="3.1"/>
<text x="343.2" y="209.35" font-size="17.3" font-family="'Liberation Sans', sans-serif" fill="#000">LSTM</text>
<path d="M281.3 225.60H338.3" stroke="#EDB120" stroke-width="3.1"/>
<text x="343.2" y="233.10" font-size="17.3" font-family="'Liberation Sans', sans-serif" fill="#000">Att-RNN</text>
<path d="M281.3 249.35H338.3" stroke="#0072BD" stroke-width="3.1"/>
<text x="343.2" y="256.85" font-size="17.3" font-family="'Liberation Sans', sans-serif" fill="#000">Att-GRU</text>
<path d="M281.3 273.10H338.3" stroke="#D95319" stroke-width="3.1"/>
<text x="343.2" y="280.60" font-size="17.3" font-family="'Liberation Sans', sans-serif" fill="#000">Att-LSTM</text>
</svg></body></html>
